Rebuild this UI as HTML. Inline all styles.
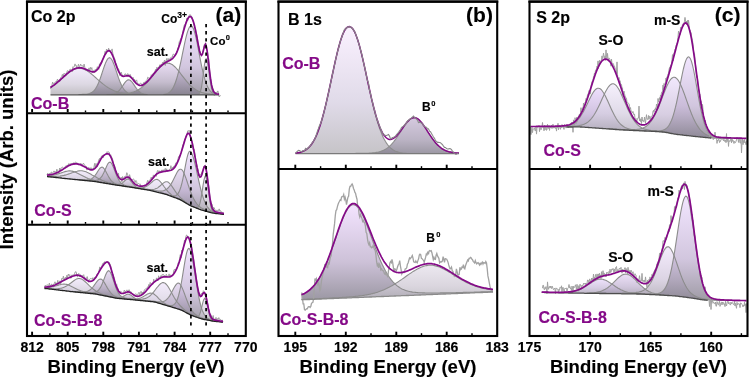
<!DOCTYPE html>
<html><head><meta charset="utf-8"><style>
html,body{margin:0;padding:0;background:#fff;}
svg{display:block;will-change:transform;}
text{font-family:"Liberation Sans",sans-serif;font-weight:bold;}
</style></head><body>
<svg width="750" height="378" viewBox="0 0 750 378" xmlns="http://www.w3.org/2000/svg">
<defs><linearGradient id="g1" x1="0" y1="0" x2="0" y2="1"><stop offset="0" stop-color="#f0e7fc"/><stop offset="0.6" stop-color="#d3cddb"/><stop offset="1" stop-color="#b1adb3"/></linearGradient><linearGradient id="g2" x1="0" y1="0" x2="0" y2="1"><stop offset="0" stop-color="#e3d3f1"/><stop offset="0.6" stop-color="#b5aac0"/><stop offset="1" stop-color="#7c7785"/></linearGradient><linearGradient id="g3" x1="0" y1="0" x2="0" y2="1"><stop offset="0" stop-color="#e3d3f1"/><stop offset="0.6" stop-color="#b5aac0"/><stop offset="1" stop-color="#7c7785"/></linearGradient><linearGradient id="g4" x1="0" y1="0" x2="0" y2="1"><stop offset="0" stop-color="#e3d3f1"/><stop offset="0.6" stop-color="#b5aac0"/><stop offset="1" stop-color="#7c7785"/></linearGradient><linearGradient id="g5" x1="0" y1="0" x2="0" y2="1"><stop offset="0" stop-color="#eedfff"/><stop offset="0.6" stop-color="#c5b6d5"/><stop offset="1" stop-color="#847f8c"/></linearGradient><linearGradient id="g6" x1="0" y1="0" x2="0" y2="1"><stop offset="0" stop-color="#f0e7fc"/><stop offset="0.6" stop-color="#d3cddb"/><stop offset="1" stop-color="#b1adb3"/></linearGradient><linearGradient id="g7" x1="0" y1="0" x2="0" y2="1"><stop offset="0" stop-color="#f0e7fc"/><stop offset="0.6" stop-color="#d3cddb"/><stop offset="1" stop-color="#b1adb3"/></linearGradient><linearGradient id="g8" x1="0" y1="0" x2="0" y2="1"><stop offset="0" stop-color="#f0e7fc"/><stop offset="0.6" stop-color="#d3cddb"/><stop offset="1" stop-color="#b1adb3"/></linearGradient><linearGradient id="g9" x1="0" y1="0" x2="0" y2="1"><stop offset="0" stop-color="#e3d3f1"/><stop offset="0.6" stop-color="#b5aac0"/><stop offset="1" stop-color="#7c7785"/></linearGradient><linearGradient id="g10" x1="0" y1="0" x2="0" y2="1"><stop offset="0" stop-color="#e3d3f1"/><stop offset="0.6" stop-color="#b5aac0"/><stop offset="1" stop-color="#7c7785"/></linearGradient><linearGradient id="g11" x1="0" y1="0" x2="0" y2="1"><stop offset="0" stop-color="#e3d3f1"/><stop offset="0.6" stop-color="#b5aac0"/><stop offset="1" stop-color="#7c7785"/></linearGradient><linearGradient id="g12" x1="0" y1="0" x2="0" y2="1"><stop offset="0" stop-color="#f0e7fc"/><stop offset="0.6" stop-color="#d3cddb"/><stop offset="1" stop-color="#b1adb3"/></linearGradient><linearGradient id="g13" x1="0" y1="0" x2="0" y2="1"><stop offset="0" stop-color="#f0e7fc"/><stop offset="0.6" stop-color="#d3cddb"/><stop offset="1" stop-color="#b1adb3"/></linearGradient><linearGradient id="g14" x1="0" y1="0" x2="0" y2="1"><stop offset="0" stop-color="#e3d3f1"/><stop offset="0.6" stop-color="#b5aac0"/><stop offset="1" stop-color="#7c7785"/></linearGradient><linearGradient id="g15" x1="0" y1="0" x2="0" y2="1"><stop offset="0" stop-color="#eedfff"/><stop offset="0.6" stop-color="#c5b6d5"/><stop offset="1" stop-color="#847f8c"/></linearGradient><linearGradient id="g16" x1="0" y1="0" x2="0" y2="1"><stop offset="0" stop-color="#f0e7fc"/><stop offset="0.6" stop-color="#d3cddb"/><stop offset="1" stop-color="#b1adb3"/></linearGradient><linearGradient id="g17" x1="0" y1="0" x2="0" y2="1"><stop offset="0" stop-color="#f0e7fc"/><stop offset="0.6" stop-color="#d3cddb"/><stop offset="1" stop-color="#b1adb3"/></linearGradient><linearGradient id="g18" x1="0" y1="0" x2="0" y2="1"><stop offset="0" stop-color="#f0e7fc"/><stop offset="0.6" stop-color="#d3cddb"/><stop offset="1" stop-color="#b1adb3"/></linearGradient><linearGradient id="g19" x1="0" y1="0" x2="0" y2="1"><stop offset="0" stop-color="#e3d3f1"/><stop offset="0.6" stop-color="#b5aac0"/><stop offset="1" stop-color="#7c7785"/></linearGradient><linearGradient id="g20" x1="0" y1="0" x2="0" y2="1"><stop offset="0" stop-color="#e3d3f1"/><stop offset="0.6" stop-color="#b5aac0"/><stop offset="1" stop-color="#7c7785"/></linearGradient><linearGradient id="g21" x1="0" y1="0" x2="0" y2="1"><stop offset="0" stop-color="#e3d3f1"/><stop offset="0.6" stop-color="#b5aac0"/><stop offset="1" stop-color="#7c7785"/></linearGradient><linearGradient id="g22" x1="0" y1="0" x2="0" y2="1"><stop offset="0" stop-color="#f0e7fc"/><stop offset="0.6" stop-color="#d3cddb"/><stop offset="1" stop-color="#b1adb3"/></linearGradient><linearGradient id="g23" x1="0" y1="0" x2="0" y2="1"><stop offset="0" stop-color="#f0e7fc"/><stop offset="0.6" stop-color="#d3cddb"/><stop offset="1" stop-color="#b1adb3"/></linearGradient><linearGradient id="g24" x1="0" y1="0" x2="0" y2="1"><stop offset="0" stop-color="#e3d3f1"/><stop offset="0.6" stop-color="#b5aac0"/><stop offset="1" stop-color="#7c7785"/></linearGradient><linearGradient id="g25" x1="0" y1="0" x2="0" y2="1"><stop offset="0" stop-color="#eedfff"/><stop offset="0.6" stop-color="#c5b6d5"/><stop offset="1" stop-color="#847f8c"/></linearGradient><linearGradient id="g26" x1="0" y1="0" x2="0" y2="1"><stop offset="0" stop-color="#f0e7fc"/><stop offset="0.6" stop-color="#d3cddb"/><stop offset="1" stop-color="#b1adb3"/></linearGradient><linearGradient id="g27" x1="0" y1="0" x2="0" y2="1"><stop offset="0" stop-color="#f9edff"/><stop offset="0.6" stop-color="#d7d0e2"/><stop offset="1" stop-color="#b6b3b8"/></linearGradient><linearGradient id="g28" x1="0" y1="0" x2="0" y2="1"><stop offset="0" stop-color="#cabbd7"/><stop offset="0.6" stop-color="#a99fb5"/><stop offset="1" stop-color="#807b8a"/></linearGradient><linearGradient id="g29" x1="0" y1="0" x2="0" y2="1"><stop offset="0" stop-color="#f0dcff"/><stop offset="0.6" stop-color="#bfb0cd"/><stop offset="1" stop-color="#807b8a"/></linearGradient><linearGradient id="g30" x1="0" y1="0" x2="0" y2="1"><stop offset="0" stop-color="#e7e2ec"/><stop offset="0.6" stop-color="#d0cad5"/><stop offset="1" stop-color="#b6b3bb"/></linearGradient><linearGradient id="g31" x1="0" y1="0" x2="0" y2="1"><stop offset="0" stop-color="#e9d7fc"/><stop offset="0.6" stop-color="#c3b1d7"/><stop offset="1" stop-color="#9288a1"/></linearGradient><linearGradient id="g32" x1="0" y1="0" x2="0" y2="1"><stop offset="0" stop-color="#f3ecfc"/><stop offset="0.6" stop-color="#d7d0e2"/><stop offset="1" stop-color="#b3aebb"/></linearGradient><linearGradient id="g33" x1="0" y1="0" x2="0" y2="1"><stop offset="0" stop-color="#eee2fc"/><stop offset="0.6" stop-color="#cdc1da"/><stop offset="1" stop-color="#9a92a4"/></linearGradient><linearGradient id="g34" x1="0" y1="0" x2="0" y2="1"><stop offset="0" stop-color="#eedfff"/><stop offset="0.6" stop-color="#c5b6d5"/><stop offset="1" stop-color="#847f8c"/></linearGradient><linearGradient id="g35" x1="0" y1="0" x2="0" y2="1"><stop offset="0" stop-color="#e9dafb"/><stop offset="0.6" stop-color="#cabeda"/><stop offset="1" stop-color="#a9a1b3"/></linearGradient><linearGradient id="g36" x1="0" y1="0" x2="0" y2="1"><stop offset="0" stop-color="#e7d7f6"/><stop offset="0.6" stop-color="#c3b6d2"/><stop offset="1" stop-color="#9c95a7"/></linearGradient><linearGradient id="g37" x1="0" y1="0" x2="0" y2="1"><stop offset="0" stop-color="#f1e7fc"/><stop offset="0.6" stop-color="#d2c8dc"/><stop offset="1" stop-color="#a49fa9"/></linearGradient><linearGradient id="g38" x1="0" y1="0" x2="0" y2="1"><stop offset="0" stop-color="#eedfff"/><stop offset="0.6" stop-color="#c5b6d5"/><stop offset="1" stop-color="#847f8c"/></linearGradient></defs>
<rect width="750" height="378" fill="#fff"/>
<path d="M50.5,87.6 51.5,87.0 52.5,86.3 53.5,85.6 54.5,84.8 55.5,84.1 56.5,83.2 57.5,82.4 58.5,81.6 59.5,80.7 60.5,79.8 61.5,78.9 62.5,78.0 63.5,77.1 64.5,76.2 65.5,75.4 66.5,74.5 67.5,73.7 68.5,72.9 69.5,72.1 70.5,71.4 71.5,70.8 72.5,70.2 73.5,69.7 74.5,69.2 75.5,68.9 76.5,68.6 77.5,68.4 78.5,68.2 79.5,68.2 80.5,68.3 81.5,68.4 82.5,68.7 83.5,69.0 84.5,69.4 85.5,69.9 86.5,70.4 87.5,71.0 88.5,71.7 89.5,72.4 90.5,73.2 91.5,74.0 92.5,74.9 93.5,75.7 94.5,76.6 95.5,77.5 96.5,78.4 97.5,79.3 98.5,80.2 99.5,81.1 100.5,81.9 101.5,82.8 102.5,83.6 103.5,84.4 104.5,85.1 105.5,85.9 106.5,86.6 107.5,87.2 108.5,87.9 109.5,88.5 110.5,89.0 111.5,89.5 112.5,90.0 113.5,90.5 114.5,90.9 115.5,91.3 116.5,91.6 117.5,91.9 118.5,92.2 119.5,92.5 120.5,92.7 121.5,92.9 122.5,93.1 123.5,93.3 124.5,93.5 125.5,93.6 126.5,93.7 127.5,93.8 128.5,93.9 129.5,94.0 130.5,94.1 131.5,94.1 132.5,94.2 133.5,94.3 134.5,94.3 135.5,94.3 136.5,94.4 137.5,94.4 138.5,94.4 139.5,94.4 140.5,94.5 141.5,94.5 142.5,94.5 143.5,94.5 144.5,94.5 145.5,94.5 L145.5,94.8 144.5,94.8 143.5,94.8 142.5,94.8 141.5,94.8 140.5,94.8 139.5,94.8 138.5,94.8 137.5,94.8 136.5,94.8 135.5,94.8 134.5,94.8 133.5,94.8 132.5,94.8 131.5,94.8 130.5,94.8 129.5,94.8 128.5,94.8 127.5,94.8 126.5,94.8 125.5,94.8 124.5,94.8 123.5,94.8 122.5,94.8 121.5,94.8 120.5,94.8 119.5,94.8 118.5,94.8 117.5,94.8 116.5,94.8 115.5,94.8 114.5,94.8 113.5,94.8 112.5,94.8 111.5,94.8 110.5,94.8 109.5,94.8 108.5,94.8 107.5,94.8 106.5,94.8 105.5,94.8 104.5,94.8 103.5,94.8 102.5,94.8 101.5,94.8 100.5,94.8 99.5,94.8 98.5,94.8 97.5,94.8 96.5,94.8 95.5,94.8 94.5,94.8 93.5,94.8 92.5,94.8 91.5,94.8 90.5,94.8 89.5,94.8 88.5,94.8 87.5,94.8 86.5,94.8 85.5,94.8 84.5,94.8 83.5,94.8 82.5,94.8 81.5,94.8 80.5,94.8 79.5,94.8 78.5,94.8 77.5,94.8 76.5,94.8 75.5,94.8 74.5,94.8 73.5,94.8 72.5,94.8 71.5,94.8 70.5,94.8 69.5,94.8 68.5,94.8 67.5,94.8 66.5,94.8 65.5,94.8 64.5,94.8 63.5,94.8 62.5,94.8 61.5,94.8 60.5,94.8 59.5,94.8 58.5,94.8 57.5,94.8 56.5,94.8 55.5,94.8 54.5,94.8 53.5,94.8 52.5,94.8 51.5,94.8 50.5,94.8Z" fill="url(#g1)" fill-opacity="0.78"/>
<path d="M78.5,94.5 79.5,94.5 80.5,94.5 81.5,94.5 82.5,94.4 83.5,94.4 84.5,94.3 85.5,94.3 86.5,94.2 87.5,94.0 88.5,93.8 89.5,93.5 90.5,93.1 91.5,92.6 92.5,92.0 93.5,91.1 94.5,90.1 95.5,88.7 96.5,87.1 97.5,85.2 98.5,83.0 99.5,80.5 100.5,77.7 101.5,74.8 102.5,71.7 103.5,68.7 104.5,65.8 105.5,63.1 106.5,60.9 107.5,59.2 108.5,58.1 109.5,57.7 110.5,58.1 111.5,59.2 112.5,61.0 113.5,63.3 114.5,65.9 115.5,68.9 116.5,71.9 117.5,75.0 118.5,77.9 119.5,80.6 120.5,83.1 121.5,85.3 122.5,87.2 123.5,88.8 124.5,90.1 125.5,91.2 126.5,92.0 127.5,92.7 128.5,93.2 129.5,93.5 130.5,93.8 131.5,94.0 132.5,94.2 133.5,94.3 134.5,94.3 135.5,94.4 136.5,94.4 137.5,94.5 138.5,94.5 139.5,94.5 140.5,94.5 L140.5,94.8 139.5,94.8 138.5,94.8 137.5,94.8 136.5,94.8 135.5,94.8 134.5,94.8 133.5,94.8 132.5,94.8 131.5,94.8 130.5,94.8 129.5,94.8 128.5,94.8 127.5,94.8 126.5,94.8 125.5,94.8 124.5,94.8 123.5,94.8 122.5,94.8 121.5,94.8 120.5,94.8 119.5,94.8 118.5,94.8 117.5,94.8 116.5,94.8 115.5,94.8 114.5,94.8 113.5,94.8 112.5,94.8 111.5,94.8 110.5,94.8 109.5,94.8 108.5,94.8 107.5,94.8 106.5,94.8 105.5,94.8 104.5,94.8 103.5,94.8 102.5,94.8 101.5,94.8 100.5,94.8 99.5,94.8 98.5,94.8 97.5,94.8 96.5,94.8 95.5,94.8 94.5,94.8 93.5,94.8 92.5,94.8 91.5,94.8 90.5,94.8 89.5,94.8 88.5,94.8 87.5,94.8 86.5,94.8 85.5,94.8 84.5,94.8 83.5,94.8 82.5,94.8 81.5,94.8 80.5,94.8 79.5,94.8 78.5,94.8Z" fill="url(#g2)" fill-opacity="0.78"/>
<path d="M109.5,94.5 110.5,94.5 111.5,94.4 112.5,94.2 113.5,94.0 114.5,93.7 115.5,93.3 116.5,92.8 117.5,92.1 118.5,91.2 119.5,90.1 120.5,88.9 121.5,87.5 122.5,86.1 123.5,84.6 124.5,83.1 125.5,81.8 126.5,80.8 127.5,80.1 128.5,79.8 129.5,80.0 130.5,80.5 131.5,81.5 132.5,82.7 133.5,84.1 134.5,85.6 135.5,87.1 136.5,88.5 137.5,89.8 138.5,90.9 139.5,91.8 140.5,92.6 141.5,93.2 142.5,93.6 143.5,93.9 144.5,94.2 145.5,94.3 146.5,94.5 147.5,94.5 L147.5,94.8 146.5,94.8 145.5,94.8 144.5,94.8 143.5,94.8 142.5,94.8 141.5,94.8 140.5,94.8 139.5,94.8 138.5,94.8 137.5,94.8 136.5,94.8 135.5,94.8 134.5,94.8 133.5,94.8 132.5,94.8 131.5,94.8 130.5,94.8 129.5,94.8 128.5,94.8 127.5,94.8 126.5,94.8 125.5,94.8 124.5,94.8 123.5,94.8 122.5,94.8 121.5,94.8 120.5,94.8 119.5,94.8 118.5,94.8 117.5,94.8 116.5,94.8 115.5,94.8 114.5,94.8 113.5,94.8 112.5,94.8 111.5,94.8 110.5,94.8 109.5,94.8Z" fill="url(#g3)" fill-opacity="0.78"/>
<path d="M106.5,94.5 107.5,94.5 108.5,94.5 109.5,94.5 110.5,94.5 111.5,94.5 112.5,94.5 113.5,94.4 114.5,94.4 115.5,94.4 116.5,94.4 117.5,94.3 118.5,94.3 119.5,94.3 120.5,94.2 121.5,94.1 122.5,94.1 123.5,94.0 124.5,93.9 125.5,93.8 126.5,93.6 127.5,93.5 128.5,93.3 129.5,93.1 130.5,92.9 131.5,92.6 132.5,92.3 133.5,92.0 134.5,91.6 135.5,91.2 136.5,90.7 137.5,90.2 138.5,89.6 139.5,89.0 140.5,88.3 141.5,87.6 142.5,86.8 143.5,85.9 144.5,85.0 145.5,84.1 146.5,83.0 147.5,82.0 148.5,80.8 149.5,79.7 150.5,78.5 151.5,77.3 152.5,76.0 153.5,74.8 154.5,73.5 155.5,72.3 156.5,71.1 157.5,70.0 158.5,68.9 159.5,67.8 160.5,66.8 161.5,66.0 162.5,65.2 163.5,64.5 164.5,64.0 165.5,63.6 166.5,63.3 167.5,63.2 168.5,63.2 169.5,63.4 170.5,63.7 171.5,64.2 172.5,64.8 173.5,65.6 174.5,66.5 175.5,67.4 176.5,68.5 177.5,69.7 178.5,70.9 179.5,72.2 180.5,73.5 181.5,74.8 182.5,76.1 183.5,77.4 184.5,78.7 185.5,79.9 186.5,81.2 187.5,82.3 188.5,83.4 189.5,84.5 190.5,85.5 191.5,86.4 192.5,87.3 193.5,88.1 194.5,88.8 195.5,89.5 196.5,90.1 197.5,90.7 198.5,91.2 199.5,91.6 200.5,92.0 201.5,92.4 202.5,92.7 203.5,92.9 204.5,93.2 205.5,93.4 206.5,93.5 207.5,93.7 208.5,93.8 209.5,93.9 210.5,94.0 211.5,94.1 212.5,94.2 213.5,94.2 214.5,94.3 215.5,94.3 216.5,94.4 217.5,94.4 218.5,94.4 219.0,94.4 L219.0,94.8 218.5,94.8 217.5,94.8 216.5,94.8 215.5,94.8 214.5,94.8 213.5,94.8 212.5,94.8 211.5,94.8 210.5,94.8 209.5,94.8 208.5,94.8 207.5,94.8 206.5,94.8 205.5,94.8 204.5,94.8 203.5,94.8 202.5,94.8 201.5,94.8 200.5,94.8 199.5,94.8 198.5,94.8 197.5,94.8 196.5,94.8 195.5,94.8 194.5,94.8 193.5,94.8 192.5,94.8 191.5,94.8 190.5,94.8 189.5,94.8 188.5,94.8 187.5,94.8 186.5,94.8 185.5,94.8 184.5,94.8 183.5,94.8 182.5,94.8 181.5,94.8 180.5,94.8 179.5,94.8 178.5,94.8 177.5,94.8 176.5,94.8 175.5,94.8 174.5,94.8 173.5,94.8 172.5,94.8 171.5,94.8 170.5,94.8 169.5,94.8 168.5,94.8 167.5,94.8 166.5,94.8 165.5,94.8 164.5,94.8 163.5,94.8 162.5,94.8 161.5,94.8 160.5,94.8 159.5,94.8 158.5,94.8 157.5,94.8 156.5,94.8 155.5,94.8 154.5,94.8 153.5,94.8 152.5,94.8 151.5,94.8 150.5,94.8 149.5,94.8 148.5,94.8 147.5,94.8 146.5,94.8 145.5,94.8 144.5,94.8 143.5,94.8 142.5,94.8 141.5,94.8 140.5,94.8 139.5,94.8 138.5,94.8 137.5,94.8 136.5,94.8 135.5,94.8 134.5,94.8 133.5,94.8 132.5,94.8 131.5,94.8 130.5,94.8 129.5,94.8 128.5,94.8 127.5,94.8 126.5,94.8 125.5,94.8 124.5,94.8 123.5,94.8 122.5,94.8 121.5,94.8 120.5,94.8 119.5,94.8 118.5,94.8 117.5,94.8 116.5,94.8 115.5,94.8 114.5,94.8 113.5,94.8 112.5,94.8 111.5,94.8 110.5,94.8 109.5,94.8 108.5,94.8 107.5,94.8 106.5,94.8Z" fill="url(#g4)" fill-opacity="0.78"/>
<path d="M163.5,94.5 164.5,94.3 165.5,94.1 166.5,93.8 167.5,93.4 168.5,92.9 169.5,92.2 170.5,91.3 171.5,90.1 172.5,88.7 173.5,86.9 174.5,84.8 175.5,82.2 176.5,79.3 177.5,75.9 178.5,72.1 179.5,67.9 180.5,63.4 181.5,58.6 182.5,53.7 183.5,48.8 184.5,44.0 185.5,39.5 186.5,35.4 187.5,31.9 188.5,29.1 189.5,27.1 190.5,26.0 191.5,25.9 192.5,26.9 193.5,28.9 194.5,31.9 195.5,35.6 196.5,40.1 197.5,44.9 198.5,50.1 199.5,55.4 200.5,60.6 201.5,65.5 202.5,70.2 203.5,74.4 204.5,78.2 205.5,81.5 206.5,84.3 207.5,86.6 208.5,88.6 209.5,90.1 210.5,91.3 211.5,92.3 212.5,93.0 213.5,93.5 214.5,93.9 215.5,94.2 216.5,94.4 217.5,94.5 L217.5,94.8 216.5,94.8 215.5,94.8 214.5,94.8 213.5,94.8 212.5,94.8 211.5,94.8 210.5,94.8 209.5,94.8 208.5,94.8 207.5,94.8 206.5,94.8 205.5,94.8 204.5,94.8 203.5,94.8 202.5,94.8 201.5,94.8 200.5,94.8 199.5,94.8 198.5,94.8 197.5,94.8 196.5,94.8 195.5,94.8 194.5,94.8 193.5,94.8 192.5,94.8 191.5,94.8 190.5,94.8 189.5,94.8 188.5,94.8 187.5,94.8 186.5,94.8 185.5,94.8 184.5,94.8 183.5,94.8 182.5,94.8 181.5,94.8 180.5,94.8 179.5,94.8 178.5,94.8 177.5,94.8 176.5,94.8 175.5,94.8 174.5,94.8 173.5,94.8 172.5,94.8 171.5,94.8 170.5,94.8 169.5,94.8 168.5,94.8 167.5,94.8 166.5,94.8 165.5,94.8 164.5,94.8 163.5,94.8Z" fill="url(#g5)" fill-opacity="0.78"/>
<path d="M198.5,94.3 199.5,93.4 200.5,91.3 201.5,87.3 202.5,80.8 203.5,72.5 204.5,64.3 205.5,59.2 206.5,59.0 207.5,62.7 208.5,69.1 209.5,76.4 210.5,83.0 211.5,88.0 212.5,91.3 213.5,93.2 214.5,94.1 L214.5,94.8 213.5,94.8 212.5,94.8 211.5,94.8 210.5,94.8 209.5,94.8 208.5,94.8 207.5,94.8 206.5,94.8 205.5,94.8 204.5,94.8 203.5,94.8 202.5,94.8 201.5,94.8 200.5,94.8 199.5,94.8 198.5,94.8Z" fill="url(#g6)" fill-opacity="0.78"/>
<polyline points="50.5,87.6 51.5,87.0 52.5,86.3 53.5,85.6 54.5,84.8 55.5,84.1 56.5,83.2 57.5,82.4 58.5,81.6 59.5,80.7 60.5,79.8 61.5,78.9 62.5,78.0 63.5,77.1 64.5,76.2 65.5,75.4 66.5,74.5 67.5,73.7 68.5,72.9 69.5,72.1 70.5,71.4 71.5,70.8 72.5,70.2 73.5,69.7 74.5,69.2 75.5,68.9 76.5,68.6 77.5,68.4 78.5,68.2 79.5,68.2 80.5,68.3 81.5,68.4 82.5,68.7 83.5,69.0 84.5,69.4 85.5,69.9 86.5,70.4 87.5,71.0 88.5,71.7 89.5,72.4 90.5,73.2 91.5,74.0 92.5,74.9 93.5,75.7 94.5,76.6 95.5,77.5 96.5,78.4 97.5,79.3 98.5,80.2 99.5,81.1 100.5,81.9 101.5,82.8 102.5,83.6 103.5,84.4 104.5,85.1 105.5,85.9 106.5,86.6 107.5,87.2 108.5,87.9 109.5,88.5 110.5,89.0 111.5,89.5 112.5,90.0 113.5,90.5 114.5,90.9 115.5,91.3 116.5,91.6 117.5,91.9 118.5,92.2 119.5,92.5 120.5,92.7 121.5,92.9 122.5,93.1 123.5,93.3 124.5,93.5 125.5,93.6 126.5,93.7 127.5,93.8 128.5,93.9 129.5,94.0 130.5,94.1 131.5,94.1 132.5,94.2 133.5,94.3 134.5,94.3 135.5,94.3 136.5,94.4 137.5,94.4 138.5,94.4 139.5,94.4 140.5,94.5 141.5,94.5 142.5,94.5 143.5,94.5 144.5,94.5 145.5,94.5" fill="none" stroke="#8c8c8c" stroke-width="1.1"/>
<polyline points="78.5,94.5 79.5,94.5 80.5,94.5 81.5,94.5 82.5,94.4 83.5,94.4 84.5,94.3 85.5,94.3 86.5,94.2 87.5,94.0 88.5,93.8 89.5,93.5 90.5,93.1 91.5,92.6 92.5,92.0 93.5,91.1 94.5,90.1 95.5,88.7 96.5,87.1 97.5,85.2 98.5,83.0 99.5,80.5 100.5,77.7 101.5,74.8 102.5,71.7 103.5,68.7 104.5,65.8 105.5,63.1 106.5,60.9 107.5,59.2 108.5,58.1 109.5,57.7 110.5,58.1 111.5,59.2 112.5,61.0 113.5,63.3 114.5,65.9 115.5,68.9 116.5,71.9 117.5,75.0 118.5,77.9 119.5,80.6 120.5,83.1 121.5,85.3 122.5,87.2 123.5,88.8 124.5,90.1 125.5,91.2 126.5,92.0 127.5,92.7 128.5,93.2 129.5,93.5 130.5,93.8 131.5,94.0 132.5,94.2 133.5,94.3 134.5,94.3 135.5,94.4 136.5,94.4 137.5,94.5 138.5,94.5 139.5,94.5 140.5,94.5" fill="none" stroke="#8c8c8c" stroke-width="1.1"/>
<polyline points="109.5,94.5 110.5,94.5 111.5,94.4 112.5,94.2 113.5,94.0 114.5,93.7 115.5,93.3 116.5,92.8 117.5,92.1 118.5,91.2 119.5,90.1 120.5,88.9 121.5,87.5 122.5,86.1 123.5,84.6 124.5,83.1 125.5,81.8 126.5,80.8 127.5,80.1 128.5,79.8 129.5,80.0 130.5,80.5 131.5,81.5 132.5,82.7 133.5,84.1 134.5,85.6 135.5,87.1 136.5,88.5 137.5,89.8 138.5,90.9 139.5,91.8 140.5,92.6 141.5,93.2 142.5,93.6 143.5,93.9 144.5,94.2 145.5,94.3 146.5,94.5 147.5,94.5" fill="none" stroke="#8c8c8c" stroke-width="1.1"/>
<polyline points="106.5,94.5 107.5,94.5 108.5,94.5 109.5,94.5 110.5,94.5 111.5,94.5 112.5,94.5 113.5,94.4 114.5,94.4 115.5,94.4 116.5,94.4 117.5,94.3 118.5,94.3 119.5,94.3 120.5,94.2 121.5,94.1 122.5,94.1 123.5,94.0 124.5,93.9 125.5,93.8 126.5,93.6 127.5,93.5 128.5,93.3 129.5,93.1 130.5,92.9 131.5,92.6 132.5,92.3 133.5,92.0 134.5,91.6 135.5,91.2 136.5,90.7 137.5,90.2 138.5,89.6 139.5,89.0 140.5,88.3 141.5,87.6 142.5,86.8 143.5,85.9 144.5,85.0 145.5,84.1 146.5,83.0 147.5,82.0 148.5,80.8 149.5,79.7 150.5,78.5 151.5,77.3 152.5,76.0 153.5,74.8 154.5,73.5 155.5,72.3 156.5,71.1 157.5,70.0 158.5,68.9 159.5,67.8 160.5,66.8 161.5,66.0 162.5,65.2 163.5,64.5 164.5,64.0 165.5,63.6 166.5,63.3 167.5,63.2 168.5,63.2 169.5,63.4 170.5,63.7 171.5,64.2 172.5,64.8 173.5,65.6 174.5,66.5 175.5,67.4 176.5,68.5 177.5,69.7 178.5,70.9 179.5,72.2 180.5,73.5 181.5,74.8 182.5,76.1 183.5,77.4 184.5,78.7 185.5,79.9 186.5,81.2 187.5,82.3 188.5,83.4 189.5,84.5 190.5,85.5 191.5,86.4 192.5,87.3 193.5,88.1 194.5,88.8 195.5,89.5 196.5,90.1 197.5,90.7 198.5,91.2 199.5,91.6 200.5,92.0 201.5,92.4 202.5,92.7 203.5,92.9 204.5,93.2 205.5,93.4 206.5,93.5 207.5,93.7 208.5,93.8 209.5,93.9 210.5,94.0 211.5,94.1 212.5,94.2 213.5,94.2 214.5,94.3 215.5,94.3 216.5,94.4 217.5,94.4 218.5,94.4 219.0,94.4" fill="none" stroke="#8c8c8c" stroke-width="1.1"/>
<polyline points="163.5,94.5 164.5,94.3 165.5,94.1 166.5,93.8 167.5,93.4 168.5,92.9 169.5,92.2 170.5,91.3 171.5,90.1 172.5,88.7 173.5,86.9 174.5,84.8 175.5,82.2 176.5,79.3 177.5,75.9 178.5,72.1 179.5,67.9 180.5,63.4 181.5,58.6 182.5,53.7 183.5,48.8 184.5,44.0 185.5,39.5 186.5,35.4 187.5,31.9 188.5,29.1 189.5,27.1 190.5,26.0 191.5,25.9 192.5,26.9 193.5,28.9 194.5,31.9 195.5,35.6 196.5,40.1 197.5,44.9 198.5,50.1 199.5,55.4 200.5,60.6 201.5,65.5 202.5,70.2 203.5,74.4 204.5,78.2 205.5,81.5 206.5,84.3 207.5,86.6 208.5,88.6 209.5,90.1 210.5,91.3 211.5,92.3 212.5,93.0 213.5,93.5 214.5,93.9 215.5,94.2 216.5,94.4 217.5,94.5" fill="none" stroke="#8c8c8c" stroke-width="1.1"/>
<polyline points="198.5,94.3 199.5,93.4 200.5,91.3 201.5,87.3 202.5,80.8 203.5,72.5 204.5,64.3 205.5,59.2 206.5,59.0 207.5,62.7 208.5,69.1 209.5,76.4 210.5,83.0 211.5,88.0 212.5,91.3 213.5,93.2 214.5,94.1" fill="none" stroke="#8c8c8c" stroke-width="1.1"/>
<polyline points="50.5,88.9 51.2,86.5 51.9,85.5 52.6,82.1 53.3,83.9 54.0,83.3 54.7,83.2 55.4,81.8 56.1,82.1 56.8,80.9 57.5,79.1 58.2,81.7 58.9,81.1 59.6,81.8 60.3,78.6 61.0,77.3 61.7,76.5 62.4,74.4 63.1,77.5 63.8,73.8 64.5,73.0 65.2,73.9 65.9,75.8 66.6,73.3 67.3,70.8 68.0,70.7 68.7,72.2 69.4,70.5 70.1,69.1 70.8,69.4 71.5,70.4 72.2,71.8 72.9,66.6 73.6,67.2 74.3,66.6 75.0,63.9 75.7,65.8 76.4,65.5 77.1,68.5 77.8,66.5 78.5,64.2 79.2,67.6 79.9,66.1 80.6,64.0 81.3,65.8 82.0,66.0 82.7,65.7 83.4,67.2 84.1,64.1 84.8,67.3 85.5,69.5 86.2,69.5 86.9,70.2 87.6,70.6 88.3,71.5 89.0,67.9 89.7,71.1 90.4,67.3 91.1,69.4 91.8,67.6 92.5,72.2 93.2,72.6 93.9,70.3 94.6,73.0 95.3,69.1 96.0,69.8 96.7,69.3 97.4,66.7 98.1,68.1 98.8,69.3 99.5,63.7 100.2,65.3 100.9,62.3 101.6,63.7 102.3,60.2 103.0,58.9 103.7,57.2 104.4,55.1 105.1,51.3 105.8,54.2 106.5,49.0 107.2,50.6 107.9,50.7 108.6,48.2 109.3,49.8 110.0,51.8 110.7,50.8 111.4,50.6 112.1,48.9 112.8,53.4 113.5,55.7 114.2,57.8 114.9,59.1 115.6,63.1 116.3,63.6 117.0,66.2 117.7,69.2 118.4,68.5 119.1,70.7 119.8,75.6 120.5,74.6 121.2,72.1 121.9,74.4 122.6,75.7 123.3,76.9 124.0,75.3 124.7,74.2 125.4,73.7 126.1,75.6 126.8,75.0 127.5,73.7 128.2,74.3 128.9,74.2 129.6,76.2 130.3,74.5 131.0,76.9 131.7,78.2 132.4,78.4 133.1,77.3 133.8,81.4 134.5,79.2 135.2,81.7 135.9,80.7 136.6,79.9 137.3,83.4 138.0,84.0 138.7,83.8 139.4,84.6 140.1,83.3 140.8,83.2 141.5,83.9 142.2,86.8 142.9,84.9 143.6,82.5 144.3,83.7 145.0,81.6 145.7,81.1 146.4,82.4 147.1,79.7 147.8,77.2 148.5,77.7 149.2,78.4 149.9,77.6 150.6,78.5 151.3,74.7 152.0,76.1 152.7,74.8 153.4,73.0 154.1,73.7 154.8,72.3 155.5,69.4 156.2,71.5 156.9,67.2 157.6,68.3 158.3,67.5 159.0,67.4 159.7,64.9 160.4,65.3 161.1,64.4 161.8,65.5 162.5,62.3 163.2,63.0 163.9,62.0 164.6,60.0 165.3,65.5 166.0,61.0 166.7,58.5 167.4,62.5 168.1,58.4 168.8,60.2 169.5,60.6 170.2,57.9 170.9,57.8 171.6,57.2 172.3,57.2 173.0,54.3 173.7,54.2 174.4,54.9 175.1,55.7 175.8,53.9 176.5,54.2 177.2,51.1 177.9,47.6 178.6,46.3 179.3,41.4 180.0,40.9 180.7,38.5 181.4,38.0 182.1,36.1 182.8,31.7 183.5,29.1 184.2,25.2 184.9,25.0 185.6,23.3 186.3,21.6 187.0,18.0 187.7,20.7 188.4,18.3 189.1,15.7 189.8,14.6 190.5,14.9 191.2,16.2 191.9,16.9 192.6,19.1 193.3,21.5 194.0,24.8 194.7,27.2 195.4,28.4 196.1,32.6 196.8,35.0 197.5,38.5 198.2,46.0 198.9,45.9 199.6,52.8 200.3,51.8 201.0,54.0 201.7,55.6 202.4,52.9 203.1,51.0 203.8,47.3 204.5,44.1 205.2,43.4 205.9,43.3 206.6,49.0 207.3,50.6 208.0,59.0 208.7,58.4 209.4,68.7 210.1,75.1 210.8,78.8 211.5,85.2 212.2,87.3 212.9,88.2 213.6,90.9 214.3,95.4 215.0,92.2 215.7,92.7 216.4,91.9 217.1,92.9 217.8,90.9 218.5,92.7 219.2,96.9 219.9,95.6 220.6,95.7" fill="none" stroke="#a0a0a0" stroke-width="1"/>
<polyline points="50.5,94.8 51.5,94.8 52.5,94.8 53.5,94.8 54.5,94.8 55.5,94.8 56.5,94.8 57.5,94.8 58.5,94.8 59.5,94.8 60.5,94.8 61.5,94.8 62.5,94.8 63.5,94.8 64.5,94.8 65.5,94.8 66.5,94.8 67.5,94.8 68.5,94.8 69.5,94.8 70.5,94.8 71.5,94.8 72.5,94.8 73.5,94.8 74.5,94.8 75.5,94.8 76.5,94.8 77.5,94.8 78.5,94.8 79.5,94.8 80.5,94.8 81.5,94.8 82.5,94.8 83.5,94.8 84.5,94.8 85.5,94.8 86.5,94.8 87.5,94.8 88.5,94.8 89.5,94.8 90.5,94.8 91.5,94.8 92.5,94.8 93.5,94.8 94.5,94.8 95.5,94.8 96.5,94.8 97.5,94.8 98.5,94.8 99.5,94.8 100.5,94.8 101.5,94.8 102.5,94.8 103.5,94.8 104.5,94.8 105.5,94.8 106.5,94.8 107.5,94.8 108.5,94.8 109.5,94.8 110.5,94.8 111.5,94.8 112.5,94.8 113.5,94.8 114.5,94.8 115.5,94.8 116.5,94.8 117.5,94.8 118.5,94.8 119.5,94.8 120.5,94.8 121.5,94.8 122.5,94.8 123.5,94.8 124.5,94.8 125.5,94.8 126.5,94.8 127.5,94.8 128.5,94.8 129.5,94.8 130.5,94.8 131.5,94.8 132.5,94.8 133.5,94.8 134.5,94.8 135.5,94.8 136.5,94.8 137.5,94.8 138.5,94.8 139.5,94.8 140.5,94.8 141.5,94.8 142.5,94.8 143.5,94.8 144.5,94.8 145.5,94.8 146.5,94.8 147.5,94.8 148.5,94.8 149.5,94.8 150.5,94.8 151.5,94.8 152.5,94.8 153.5,94.8 154.5,94.8 155.5,94.8 156.5,94.8 157.5,94.8 158.5,94.8 159.5,94.8 160.5,94.8 161.5,94.8 162.5,94.8 163.5,94.8 164.5,94.8 165.5,94.8 166.5,94.8 167.5,94.8 168.5,94.8 169.5,94.8 170.5,94.8 171.5,94.8 172.5,94.8 173.5,94.8 174.5,94.8 175.5,94.8 176.5,94.8 177.5,94.8 178.5,94.8 179.5,94.8 180.5,94.8 181.5,94.8 182.5,94.8 183.5,94.8 184.5,94.8 185.5,94.8 186.5,94.8 187.5,94.8 188.5,94.8 189.5,94.8 190.5,94.8 191.5,94.8 192.5,94.8 193.5,94.8 194.5,94.8 195.5,94.8 196.5,94.8 197.5,94.8 198.5,94.8 199.5,94.8 200.5,94.8 201.5,94.8 202.5,94.8 203.5,94.8 204.5,94.8 205.5,94.8 206.5,94.8 207.5,94.8 208.5,94.8 209.5,94.8 210.5,94.8 211.5,94.8 212.5,94.8 213.5,94.8 214.5,94.8 215.5,94.8 216.5,94.8 217.5,94.8 218.5,94.8 219.0,94.8" fill="none" stroke="#555555" stroke-width="1.3"/>
<polyline points="50.5,87.5 51.5,86.8 52.5,86.1 53.5,85.4 54.5,84.7 55.5,83.9 56.5,83.1 57.5,82.2 58.5,81.4 59.5,80.5 60.5,79.6 61.5,78.7 62.5,77.8 63.5,76.9 64.5,76.0 65.5,75.1 66.5,74.2 67.5,73.4 68.5,72.6 69.5,71.8 70.5,71.1 71.5,70.5 72.5,69.9 73.5,69.3 74.5,68.9 75.5,68.5 76.5,68.2 77.5,68.0 78.5,67.8 79.5,67.8 80.5,67.8 81.5,67.9 82.5,68.1 83.5,68.4 84.5,68.8 85.5,69.2 86.5,69.6 87.5,70.1 88.5,70.5 89.5,71.0 90.5,71.3 91.5,71.6 92.5,71.8 93.5,71.8 94.5,71.6 95.5,71.2 96.5,70.4 97.5,69.4 98.5,68.1 99.5,66.4 100.5,64.5 101.5,62.4 102.5,60.2 103.5,57.9 104.5,55.7 105.5,53.8 106.5,52.2 107.5,51.2 108.5,50.7 109.5,50.9 110.5,51.7 111.5,53.2 112.5,55.3 113.5,57.8 114.5,60.6 115.5,63.4 116.5,66.2 117.5,68.9 118.5,71.2 119.5,73.1 120.5,74.5 121.5,75.5 122.5,76.1 123.5,76.3 124.5,76.2 125.5,76.0 126.5,75.8 127.5,75.7 128.5,75.8 129.5,76.2 130.5,76.9 131.5,77.9 132.5,79.0 133.5,80.2 134.5,81.4 135.5,82.6 136.5,83.6 137.5,84.4 138.5,85.0 139.5,85.4 140.5,85.5 141.5,85.4 142.5,85.1 143.5,84.6 144.5,83.9 145.5,83.1 146.5,82.3 147.5,81.3 148.5,80.2 149.5,79.1 150.5,78.0 151.5,76.8 152.5,75.6 153.5,74.3 154.5,73.1 155.5,71.9 156.5,70.7 157.5,69.6 158.5,68.5 159.5,67.4 160.5,66.4 161.5,65.5 162.5,64.7 163.5,63.9 164.5,63.2 165.5,62.6 166.5,62.0 167.5,61.5 168.5,61.0 169.5,60.5 170.5,59.9 171.5,59.3 172.5,58.5 173.5,57.5 174.5,56.2 175.5,54.7 176.5,52.8 177.5,50.6 178.5,48.0 179.5,45.1 180.5,41.9 181.5,38.4 182.5,34.8 183.5,31.2 184.5,27.7 185.5,24.4 186.5,21.6 187.5,19.2 188.5,17.5 189.5,16.6 190.5,16.6 191.5,17.4 192.5,19.3 193.5,22.1 194.5,25.8 195.5,30.2 196.5,35.2 197.5,40.6 198.5,45.9 199.5,50.7 200.5,54.2 201.5,55.4 202.5,53.9 203.5,50.1 204.5,46.0 205.5,44.3 206.5,47.1 207.5,53.4 208.5,61.8 209.5,70.7 210.5,78.7 211.5,84.7 212.5,88.8 213.5,91.3 214.5,92.7 215.5,93.4 216.5,93.8 217.5,94.0 218.5,94.2 219.0,94.2" fill="none" stroke="#850a88" stroke-width="1.7"/>
<path d="M47.0,175.7 48.0,175.6 49.0,175.6 50.0,175.5 51.0,175.4 52.0,175.3 53.0,175.1 54.0,174.9 55.0,174.7 56.0,174.5 57.0,174.2 58.0,173.9 59.0,173.6 60.0,173.3 61.0,172.9 62.0,172.6 63.0,172.3 64.0,171.9 65.0,171.6 66.0,171.4 67.0,171.2 68.0,171.0 69.0,170.9 70.0,170.9 71.0,171.0 72.0,171.1 73.0,171.4 74.0,171.7 75.0,172.1 76.0,172.5 77.0,173.0 78.0,173.5 79.0,174.0 80.0,174.5 81.0,175.1 82.0,175.6 83.0,176.1 84.0,176.6 85.0,177.1 86.0,177.6 87.0,178.0 88.0,178.5 89.0,178.8 90.0,179.2 91.0,179.5 92.0,179.8 93.0,180.1 94.0,180.4 95.0,180.6 96.0,180.9 97.0,181.1 98.0,181.4 99.0,181.6 100.0,181.8 101.0,182.1 102.0,182.3 103.0,182.5 104.0,182.7 105.0,182.9 106.0,183.0 107.0,183.2 108.0,183.4 L108.0,183.7 107.0,183.5 106.0,183.3 105.0,183.2 104.0,183.0 103.0,182.8 102.0,182.7 101.0,182.5 100.0,182.3 99.0,182.2 98.0,182.0 97.0,181.8 96.0,181.7 95.0,181.5 94.0,181.4 93.0,181.3 92.0,181.2 91.0,181.1 90.0,181.0 89.0,180.9 88.0,180.8 87.0,180.7 86.0,180.6 85.0,180.5 84.0,180.4 83.0,180.3 82.0,180.2 81.0,180.1 80.0,180.0 79.0,179.9 78.0,179.8 77.0,179.7 76.0,179.6 75.0,179.5 74.0,179.4 73.0,179.3 72.0,179.2 71.0,179.1 70.0,179.0 69.0,178.9 68.0,178.8 67.0,178.7 66.0,178.6 65.0,178.5 64.0,178.4 63.0,178.3 62.0,178.2 61.0,178.0 60.0,177.9 59.0,177.8 58.0,177.7 57.0,177.6 56.0,177.5 55.0,177.4 54.0,177.3 53.0,177.2 52.0,177.1 51.0,177.0 50.0,176.9 49.0,176.8 48.0,176.7 47.0,176.7Z" fill="url(#g7)" fill-opacity="0.78"/>
<path d="M47.0,176.2 48.0,176.2 49.0,176.3 50.0,176.3 51.0,176.4 52.0,176.4 53.0,176.4 54.0,176.4 55.0,176.4 56.0,176.4 57.0,176.3 58.0,176.3 59.0,176.2 60.0,176.1 61.0,175.9 62.0,175.8 63.0,175.6 64.0,175.4 65.0,175.1 66.0,174.9 67.0,174.6 68.0,174.2 69.0,173.9 70.0,173.6 71.0,173.2 72.0,172.8 73.0,172.5 74.0,172.1 75.0,171.8 76.0,171.5 77.0,171.3 78.0,171.0 79.0,170.9 80.0,170.8 81.0,170.8 82.0,170.8 83.0,171.0 84.0,171.2 85.0,171.5 86.0,171.8 87.0,172.3 88.0,172.7 89.0,173.2 90.0,173.7 91.0,174.3 92.0,174.9 93.0,175.4 94.0,176.0 95.0,176.6 96.0,177.1 97.0,177.7 98.0,178.3 99.0,178.8 100.0,179.3 101.0,179.8 102.0,180.3 103.0,180.7 104.0,181.1 105.0,181.5 106.0,181.9 107.0,182.2 108.0,182.5 109.0,182.8 110.0,183.1 111.0,183.4 112.0,183.6 113.0,183.9 114.0,184.1 115.0,184.3 116.0,184.5 117.0,184.7 118.0,184.9 119.0,185.0 120.0,185.2 121.0,185.4 122.0,185.6 123.0,185.7 124.0,185.9 125.0,186.1 126.0,186.2 L126.0,186.5 125.0,186.3 124.0,186.2 123.0,186.0 122.0,185.9 121.0,185.7 120.0,185.6 119.0,185.4 118.0,185.3 117.0,185.1 116.0,185.0 115.0,184.8 114.0,184.7 113.0,184.5 112.0,184.3 111.0,184.2 110.0,184.0 109.0,183.8 108.0,183.7 107.0,183.5 106.0,183.3 105.0,183.2 104.0,183.0 103.0,182.8 102.0,182.7 101.0,182.5 100.0,182.3 99.0,182.2 98.0,182.0 97.0,181.8 96.0,181.7 95.0,181.5 94.0,181.4 93.0,181.3 92.0,181.2 91.0,181.1 90.0,181.0 89.0,180.9 88.0,180.8 87.0,180.7 86.0,180.6 85.0,180.5 84.0,180.4 83.0,180.3 82.0,180.2 81.0,180.1 80.0,180.0 79.0,179.9 78.0,179.8 77.0,179.7 76.0,179.6 75.0,179.5 74.0,179.4 73.0,179.3 72.0,179.2 71.0,179.1 70.0,179.0 69.0,178.9 68.0,178.8 67.0,178.7 66.0,178.6 65.0,178.5 64.0,178.4 63.0,178.3 62.0,178.2 61.0,178.0 60.0,177.9 59.0,177.8 58.0,177.7 57.0,177.6 56.0,177.5 55.0,177.4 54.0,177.3 53.0,177.2 52.0,177.1 51.0,177.0 50.0,176.9 49.0,176.8 48.0,176.7 47.0,176.7Z" fill="url(#g8)" fill-opacity="0.78"/>
<path d="M77.0,179.4 78.0,179.5 79.0,179.6 80.0,179.7 81.0,179.8 82.0,179.8 83.0,179.9 84.0,179.9 85.0,180.0 86.0,180.0 87.0,179.9 88.0,179.9 89.0,179.7 90.0,179.5 91.0,179.1 92.0,178.5 93.0,177.7 94.0,176.7 95.0,175.5 96.0,174.1 97.0,172.6 98.0,171.0 99.0,169.5 100.0,168.2 101.0,167.4 102.0,167.1 103.0,167.5 104.0,168.5 105.0,170.0 106.0,171.8 107.0,173.7 108.0,175.6 109.0,177.4 110.0,178.9 111.0,180.3 112.0,181.4 113.0,182.3 114.0,183.0 115.0,183.5 116.0,183.9 117.0,184.3 118.0,184.6 119.0,184.8 120.0,185.1 121.0,185.3 122.0,185.5 123.0,185.7 124.0,185.9 125.0,186.0 126.0,186.2 127.0,186.4 L127.0,186.6 126.0,186.5 125.0,186.3 124.0,186.2 123.0,186.0 122.0,185.9 121.0,185.7 120.0,185.6 119.0,185.4 118.0,185.3 117.0,185.1 116.0,185.0 115.0,184.8 114.0,184.7 113.0,184.5 112.0,184.3 111.0,184.2 110.0,184.0 109.0,183.8 108.0,183.7 107.0,183.5 106.0,183.3 105.0,183.2 104.0,183.0 103.0,182.8 102.0,182.7 101.0,182.5 100.0,182.3 99.0,182.2 98.0,182.0 97.0,181.8 96.0,181.7 95.0,181.5 94.0,181.4 93.0,181.3 92.0,181.2 91.0,181.1 90.0,181.0 89.0,180.9 88.0,180.8 87.0,180.7 86.0,180.6 85.0,180.5 84.0,180.4 83.0,180.3 82.0,180.2 81.0,180.1 80.0,180.0 79.0,179.9 78.0,179.8 77.0,179.7Z" fill="url(#g9)" fill-opacity="0.78"/>
<path d="M81.0,179.8 82.0,179.9 83.0,180.0 84.0,180.1 85.0,180.2 86.0,180.2 87.0,180.3 88.0,180.4 89.0,180.4 90.0,180.5 91.0,180.5 92.0,180.5 93.0,180.5 94.0,180.5 95.0,180.5 96.0,180.4 97.0,180.2 98.0,179.8 99.0,179.3 100.0,178.5 101.0,177.5 102.0,176.1 103.0,174.3 104.0,172.3 105.0,170.0 106.0,167.7 107.0,165.5 108.0,163.6 109.0,162.4 110.0,162.1 111.0,162.7 112.0,164.2 113.0,166.4 114.0,168.9 115.0,171.5 116.0,174.1 117.0,176.5 118.0,178.6 119.0,180.3 120.0,181.7 121.0,182.8 122.0,183.7 123.0,184.3 124.0,184.9 125.0,185.3 126.0,185.6 127.0,185.9 128.0,186.1 129.0,186.3 130.0,186.6 131.0,186.8 132.0,187.0 133.0,187.2 134.0,187.4 135.0,187.6 136.0,187.7 137.0,187.9 138.0,188.1 139.0,188.3 L139.0,188.6 138.0,188.4 137.0,188.2 136.0,188.1 135.0,187.9 134.0,187.7 133.0,187.6 132.0,187.4 131.0,187.2 130.0,187.1 129.0,186.9 128.0,186.8 127.0,186.6 126.0,186.5 125.0,186.3 124.0,186.2 123.0,186.0 122.0,185.9 121.0,185.7 120.0,185.6 119.0,185.4 118.0,185.3 117.0,185.1 116.0,185.0 115.0,184.8 114.0,184.7 113.0,184.5 112.0,184.3 111.0,184.2 110.0,184.0 109.0,183.8 108.0,183.7 107.0,183.5 106.0,183.3 105.0,183.2 104.0,183.0 103.0,182.8 102.0,182.7 101.0,182.5 100.0,182.3 99.0,182.2 98.0,182.0 97.0,181.8 96.0,181.7 95.0,181.5 94.0,181.4 93.0,181.3 92.0,181.2 91.0,181.1 90.0,181.0 89.0,180.9 88.0,180.8 87.0,180.7 86.0,180.6 85.0,180.5 84.0,180.4 83.0,180.3 82.0,180.2 81.0,180.1Z" fill="url(#g10)" fill-opacity="0.78"/>
<path d="M114.0,184.4 115.0,184.5 116.0,184.6 117.0,184.6 118.0,184.6 119.0,184.4 120.0,184.2 121.0,183.8 122.0,183.2 123.0,182.4 124.0,181.5 125.0,180.5 126.0,179.7 127.0,179.1 128.0,178.9 129.0,179.3 130.0,180.2 131.0,181.3 132.0,182.5 133.0,183.8 134.0,184.9 135.0,185.8 136.0,186.6 137.0,187.2 138.0,187.7 139.0,188.0 140.0,188.3 141.0,188.6 142.0,188.8 L142.0,189.1 141.0,188.9 140.0,188.7 139.0,188.6 138.0,188.4 137.0,188.2 136.0,188.1 135.0,187.9 134.0,187.7 133.0,187.6 132.0,187.4 131.0,187.2 130.0,187.1 129.0,186.9 128.0,186.8 127.0,186.6 126.0,186.5 125.0,186.3 124.0,186.2 123.0,186.0 122.0,185.9 121.0,185.7 120.0,185.6 119.0,185.4 118.0,185.3 117.0,185.1 116.0,185.0 115.0,184.8 114.0,184.7Z" fill="url(#g11)" fill-opacity="0.78"/>
<path d="M129.0,186.7 130.0,186.8 131.0,187.0 132.0,187.1 133.0,187.2 134.0,187.4 135.0,187.5 136.0,187.6 137.0,187.7 138.0,187.8 139.0,187.8 140.0,187.9 141.0,187.9 142.0,187.8 143.0,187.6 144.0,187.4 145.0,187.1 146.0,186.6 147.0,186.1 148.0,185.4 149.0,184.6 150.0,183.8 151.0,182.9 152.0,182.0 153.0,181.1 154.0,180.4 155.0,179.8 156.0,179.5 157.0,179.4 158.0,179.8 159.0,180.4 160.0,181.3 161.0,182.5 162.0,183.7 163.0,185.1 164.0,186.5 165.0,187.8 166.0,189.2 167.0,190.4 168.0,191.6 169.0,192.6 170.0,193.5 171.0,194.4 172.0,195.1 173.0,195.7 174.0,196.3 175.0,196.9 176.0,197.4 177.0,197.8 178.0,198.3 179.0,198.7 180.0,199.2 181.0,199.8 182.0,200.4 183.0,201.0 184.0,201.6 185.0,202.2 L185.0,202.5 184.0,201.9 183.0,201.3 182.0,200.7 181.0,200.1 180.0,199.6 179.0,199.2 178.0,198.8 177.0,198.4 176.0,198.0 175.0,197.7 174.0,197.3 173.0,196.9 172.0,196.6 171.0,196.2 170.0,195.8 169.0,195.5 168.0,195.1 167.0,194.7 166.0,194.4 165.0,194.1 164.0,193.8 163.0,193.5 162.0,193.3 161.0,193.0 160.0,192.8 159.0,192.6 158.0,192.3 157.0,192.1 156.0,191.8 155.0,191.6 154.0,191.4 153.0,191.1 152.0,190.9 151.0,190.7 150.0,190.4 149.0,190.2 148.0,190.1 147.0,189.9 146.0,189.7 145.0,189.6 144.0,189.4 143.0,189.2 142.0,189.1 141.0,188.9 140.0,188.7 139.0,188.6 138.0,188.4 137.0,188.2 136.0,188.1 135.0,187.9 134.0,187.7 133.0,187.6 132.0,187.4 131.0,187.2 130.0,187.1 129.0,186.9Z" fill="url(#g12)" fill-opacity="0.78"/>
<path d="M138.0,188.1 139.0,188.3 140.0,188.4 141.0,188.6 142.0,188.7 143.0,188.9 144.0,189.0 145.0,189.1 146.0,189.2 147.0,189.3 148.0,189.4 149.0,189.5 150.0,189.5 151.0,189.6 152.0,189.5 153.0,189.5 154.0,189.3 155.0,189.0 156.0,188.6 157.0,188.2 158.0,187.6 159.0,186.8 160.0,186.0 161.0,185.1 162.0,184.2 163.0,183.4 164.0,182.6 165.0,182.0 166.0,181.7 167.0,181.7 168.0,182.1 169.0,182.8 170.0,183.8 171.0,185.0 172.0,186.4 173.0,187.9 174.0,189.4 175.0,190.9 176.0,192.3 177.0,193.6 178.0,194.8 179.0,196.0 180.0,197.1 181.0,198.1 182.0,199.0 183.0,200.0 184.0,200.8 185.0,201.6 186.0,202.3 187.0,203.1 188.0,203.7 189.0,204.4 190.0,204.9 191.0,205.5 192.0,205.9 193.0,206.4 194.0,206.8 195.0,207.2 196.0,207.6 197.0,208.0 L197.0,208.3 196.0,207.9 195.0,207.5 194.0,207.1 193.0,206.7 192.0,206.3 191.0,205.9 190.0,205.4 189.0,204.9 188.0,204.3 187.0,203.7 186.0,203.1 185.0,202.5 184.0,201.9 183.0,201.3 182.0,200.7 181.0,200.1 180.0,199.6 179.0,199.2 178.0,198.8 177.0,198.4 176.0,198.0 175.0,197.7 174.0,197.3 173.0,196.9 172.0,196.6 171.0,196.2 170.0,195.8 169.0,195.5 168.0,195.1 167.0,194.7 166.0,194.4 165.0,194.1 164.0,193.8 163.0,193.5 162.0,193.3 161.0,193.0 160.0,192.8 159.0,192.6 158.0,192.3 157.0,192.1 156.0,191.8 155.0,191.6 154.0,191.4 153.0,191.1 152.0,190.9 151.0,190.7 150.0,190.4 149.0,190.2 148.0,190.1 147.0,189.9 146.0,189.7 145.0,189.6 144.0,189.4 143.0,189.2 142.0,189.1 141.0,188.9 140.0,188.7 139.0,188.6 138.0,188.4Z" fill="url(#g13)" fill-opacity="0.78"/>
<path d="M130.0,186.8 131.0,187.0 132.0,187.1 133.0,187.3 134.0,187.4 135.0,187.6 136.0,187.7 137.0,187.9 138.0,188.0 139.0,188.2 140.0,188.3 141.0,188.5 142.0,188.6 143.0,188.8 144.0,188.9 145.0,189.1 146.0,189.2 147.0,189.3 148.0,189.5 149.0,189.6 150.0,189.8 151.0,189.9 152.0,190.1 153.0,190.3 154.0,190.5 155.0,190.7 156.0,190.8 157.0,190.9 158.0,191.0 159.0,191.1 160.0,191.1 161.0,191.1 162.0,191.0 163.0,190.8 164.0,190.5 165.0,190.1 166.0,189.6 167.0,188.9 168.0,188.0 169.0,187.0 170.0,185.7 171.0,184.1 172.0,182.4 173.0,180.5 174.0,178.5 175.0,176.4 176.0,174.4 177.0,172.5 178.0,170.9 179.0,169.8 180.0,169.2 181.0,169.2 182.0,169.9 183.0,171.3 184.0,173.3 185.0,175.7 186.0,178.4 187.0,181.3 188.0,184.4 189.0,187.3 190.0,190.2 191.0,192.8 192.0,195.3 193.0,197.4 194.0,199.4 195.0,201.1 196.0,202.7 197.0,204.0 198.0,205.1 199.0,206.1 200.0,207.0 201.0,207.7 202.0,208.3 203.0,208.8 204.0,209.3 205.0,209.8 206.0,210.2 207.0,210.6 208.0,210.9 209.0,211.3 210.0,211.6 211.0,212.0 212.0,212.2 213.0,212.4 214.0,212.6 215.0,212.8 216.0,212.9 217.0,213.1 218.0,213.2 219.0,213.4 220.0,213.5 221.0,213.6 222.0,213.8 223.0,213.9 224.0,214.0 L224.0,214.3 223.0,214.3 222.0,214.2 221.0,214.0 220.0,213.9 219.0,213.8 218.0,213.7 217.0,213.6 216.0,213.5 215.0,213.4 214.0,213.2 213.0,213.1 212.0,212.9 211.0,212.7 210.0,212.4 209.0,212.1 208.0,211.8 207.0,211.5 206.0,211.2 205.0,211.0 204.0,210.7 203.0,210.4 202.0,210.1 201.0,209.8 200.0,209.4 199.0,209.1 198.0,208.7 197.0,208.3 196.0,207.9 195.0,207.5 194.0,207.1 193.0,206.7 192.0,206.3 191.0,205.9 190.0,205.4 189.0,204.9 188.0,204.3 187.0,203.7 186.0,203.1 185.0,202.5 184.0,201.9 183.0,201.3 182.0,200.7 181.0,200.1 180.0,199.6 179.0,199.2 178.0,198.8 177.0,198.4 176.0,198.0 175.0,197.7 174.0,197.3 173.0,196.9 172.0,196.6 171.0,196.2 170.0,195.8 169.0,195.5 168.0,195.1 167.0,194.7 166.0,194.4 165.0,194.1 164.0,193.8 163.0,193.5 162.0,193.3 161.0,193.0 160.0,192.8 159.0,192.6 158.0,192.3 157.0,192.1 156.0,191.8 155.0,191.6 154.0,191.4 153.0,191.1 152.0,190.9 151.0,190.7 150.0,190.4 149.0,190.2 148.0,190.1 147.0,189.9 146.0,189.7 145.0,189.6 144.0,189.4 143.0,189.2 142.0,189.1 141.0,188.9 140.0,188.7 139.0,188.6 138.0,188.4 137.0,188.2 136.0,188.1 135.0,187.9 134.0,187.7 133.0,187.6 132.0,187.4 131.0,187.2 130.0,187.1Z" fill="url(#g14)" fill-opacity="0.78"/>
<path d="M162.0,193.0 163.0,193.2 164.0,193.5 165.0,193.7 166.0,194.0 167.0,194.3 168.0,194.7 169.0,195.0 170.0,195.3 171.0,195.6 172.0,195.8 173.0,196.0 174.0,196.0 175.0,195.9 176.0,195.5 177.0,194.8 178.0,193.6 179.0,191.9 180.0,189.6 181.0,186.5 182.0,182.8 183.0,178.3 184.0,173.2 185.0,167.9 186.0,162.7 187.0,157.9 188.0,154.2 189.0,151.9 190.0,151.3 191.0,152.2 192.0,154.0 193.0,156.6 194.0,160.0 195.0,163.9 196.0,168.2 197.0,172.8 198.0,177.4 199.0,181.9 200.0,186.2 201.0,190.2 202.0,193.9 203.0,197.1 204.0,200.0 205.0,202.4 206.0,204.5 207.0,206.3 208.0,207.7 209.0,208.9 210.0,209.9 211.0,210.7 212.0,211.4 213.0,211.8 214.0,212.2 215.0,212.5 216.0,212.7 217.0,213.0 218.0,213.1 219.0,213.3 220.0,213.5 221.0,213.6 222.0,213.8 223.0,213.9 224.0,214.0 L224.0,214.3 223.0,214.3 222.0,214.2 221.0,214.0 220.0,213.9 219.0,213.8 218.0,213.7 217.0,213.6 216.0,213.5 215.0,213.4 214.0,213.2 213.0,213.1 212.0,212.9 211.0,212.7 210.0,212.4 209.0,212.1 208.0,211.8 207.0,211.5 206.0,211.2 205.0,211.0 204.0,210.7 203.0,210.4 202.0,210.1 201.0,209.8 200.0,209.4 199.0,209.1 198.0,208.7 197.0,208.3 196.0,207.9 195.0,207.5 194.0,207.1 193.0,206.7 192.0,206.3 191.0,205.9 190.0,205.4 189.0,204.9 188.0,204.3 187.0,203.7 186.0,203.1 185.0,202.5 184.0,201.9 183.0,201.3 182.0,200.7 181.0,200.1 180.0,199.6 179.0,199.2 178.0,198.8 177.0,198.4 176.0,198.0 175.0,197.7 174.0,197.3 173.0,196.9 172.0,196.6 171.0,196.2 170.0,195.8 169.0,195.5 168.0,195.1 167.0,194.7 166.0,194.4 165.0,194.1 164.0,193.8 163.0,193.5 162.0,193.3Z" fill="url(#g15)" fill-opacity="0.78"/>
<path d="M197.0,207.7 198.0,207.3 199.0,206.0 200.0,203.2 201.0,198.7 202.0,192.6 203.0,185.7 204.0,179.8 205.0,176.5 206.0,176.9 207.0,181.1 208.0,187.8 209.0,195.2 210.0,201.8 211.0,206.8 212.0,210.0 213.0,211.8 214.0,212.7 L214.0,213.2 213.0,213.1 212.0,212.9 211.0,212.7 210.0,212.4 209.0,212.1 208.0,211.8 207.0,211.5 206.0,211.2 205.0,211.0 204.0,210.7 203.0,210.4 202.0,210.1 201.0,209.8 200.0,209.4 199.0,209.1 198.0,208.7 197.0,208.3Z" fill="url(#g16)" fill-opacity="0.78"/>
<polyline points="47.0,175.7 48.0,175.6 49.0,175.6 50.0,175.5 51.0,175.4 52.0,175.3 53.0,175.1 54.0,174.9 55.0,174.7 56.0,174.5 57.0,174.2 58.0,173.9 59.0,173.6 60.0,173.3 61.0,172.9 62.0,172.6 63.0,172.3 64.0,171.9 65.0,171.6 66.0,171.4 67.0,171.2 68.0,171.0 69.0,170.9 70.0,170.9 71.0,171.0 72.0,171.1 73.0,171.4 74.0,171.7 75.0,172.1 76.0,172.5 77.0,173.0 78.0,173.5 79.0,174.0 80.0,174.5 81.0,175.1 82.0,175.6 83.0,176.1 84.0,176.6 85.0,177.1 86.0,177.6 87.0,178.0 88.0,178.5 89.0,178.8 90.0,179.2 91.0,179.5 92.0,179.8 93.0,180.1 94.0,180.4 95.0,180.6 96.0,180.9 97.0,181.1 98.0,181.4 99.0,181.6 100.0,181.8 101.0,182.1 102.0,182.3 103.0,182.5 104.0,182.7 105.0,182.9 106.0,183.0 107.0,183.2 108.0,183.4" fill="none" stroke="#8c8c8c" stroke-width="1.1"/>
<polyline points="47.0,176.2 48.0,176.2 49.0,176.3 50.0,176.3 51.0,176.4 52.0,176.4 53.0,176.4 54.0,176.4 55.0,176.4 56.0,176.4 57.0,176.3 58.0,176.3 59.0,176.2 60.0,176.1 61.0,175.9 62.0,175.8 63.0,175.6 64.0,175.4 65.0,175.1 66.0,174.9 67.0,174.6 68.0,174.2 69.0,173.9 70.0,173.6 71.0,173.2 72.0,172.8 73.0,172.5 74.0,172.1 75.0,171.8 76.0,171.5 77.0,171.3 78.0,171.0 79.0,170.9 80.0,170.8 81.0,170.8 82.0,170.8 83.0,171.0 84.0,171.2 85.0,171.5 86.0,171.8 87.0,172.3 88.0,172.7 89.0,173.2 90.0,173.7 91.0,174.3 92.0,174.9 93.0,175.4 94.0,176.0 95.0,176.6 96.0,177.1 97.0,177.7 98.0,178.3 99.0,178.8 100.0,179.3 101.0,179.8 102.0,180.3 103.0,180.7 104.0,181.1 105.0,181.5 106.0,181.9 107.0,182.2 108.0,182.5 109.0,182.8 110.0,183.1 111.0,183.4 112.0,183.6 113.0,183.9 114.0,184.1 115.0,184.3 116.0,184.5 117.0,184.7 118.0,184.9 119.0,185.0 120.0,185.2 121.0,185.4 122.0,185.6 123.0,185.7 124.0,185.9 125.0,186.1 126.0,186.2" fill="none" stroke="#8c8c8c" stroke-width="1.1"/>
<polyline points="77.0,179.4 78.0,179.5 79.0,179.6 80.0,179.7 81.0,179.8 82.0,179.8 83.0,179.9 84.0,179.9 85.0,180.0 86.0,180.0 87.0,179.9 88.0,179.9 89.0,179.7 90.0,179.5 91.0,179.1 92.0,178.5 93.0,177.7 94.0,176.7 95.0,175.5 96.0,174.1 97.0,172.6 98.0,171.0 99.0,169.5 100.0,168.2 101.0,167.4 102.0,167.1 103.0,167.5 104.0,168.5 105.0,170.0 106.0,171.8 107.0,173.7 108.0,175.6 109.0,177.4 110.0,178.9 111.0,180.3 112.0,181.4 113.0,182.3 114.0,183.0 115.0,183.5 116.0,183.9 117.0,184.3 118.0,184.6 119.0,184.8 120.0,185.1 121.0,185.3 122.0,185.5 123.0,185.7 124.0,185.9 125.0,186.0 126.0,186.2 127.0,186.4" fill="none" stroke="#8c8c8c" stroke-width="1.1"/>
<polyline points="81.0,179.8 82.0,179.9 83.0,180.0 84.0,180.1 85.0,180.2 86.0,180.2 87.0,180.3 88.0,180.4 89.0,180.4 90.0,180.5 91.0,180.5 92.0,180.5 93.0,180.5 94.0,180.5 95.0,180.5 96.0,180.4 97.0,180.2 98.0,179.8 99.0,179.3 100.0,178.5 101.0,177.5 102.0,176.1 103.0,174.3 104.0,172.3 105.0,170.0 106.0,167.7 107.0,165.5 108.0,163.6 109.0,162.4 110.0,162.1 111.0,162.7 112.0,164.2 113.0,166.4 114.0,168.9 115.0,171.5 116.0,174.1 117.0,176.5 118.0,178.6 119.0,180.3 120.0,181.7 121.0,182.8 122.0,183.7 123.0,184.3 124.0,184.9 125.0,185.3 126.0,185.6 127.0,185.9 128.0,186.1 129.0,186.3 130.0,186.6 131.0,186.8 132.0,187.0 133.0,187.2 134.0,187.4 135.0,187.6 136.0,187.7 137.0,187.9 138.0,188.1 139.0,188.3" fill="none" stroke="#8c8c8c" stroke-width="1.1"/>
<polyline points="114.0,184.4 115.0,184.5 116.0,184.6 117.0,184.6 118.0,184.6 119.0,184.4 120.0,184.2 121.0,183.8 122.0,183.2 123.0,182.4 124.0,181.5 125.0,180.5 126.0,179.7 127.0,179.1 128.0,178.9 129.0,179.3 130.0,180.2 131.0,181.3 132.0,182.5 133.0,183.8 134.0,184.9 135.0,185.8 136.0,186.6 137.0,187.2 138.0,187.7 139.0,188.0 140.0,188.3 141.0,188.6 142.0,188.8" fill="none" stroke="#8c8c8c" stroke-width="1.1"/>
<polyline points="129.0,186.7 130.0,186.8 131.0,187.0 132.0,187.1 133.0,187.2 134.0,187.4 135.0,187.5 136.0,187.6 137.0,187.7 138.0,187.8 139.0,187.8 140.0,187.9 141.0,187.9 142.0,187.8 143.0,187.6 144.0,187.4 145.0,187.1 146.0,186.6 147.0,186.1 148.0,185.4 149.0,184.6 150.0,183.8 151.0,182.9 152.0,182.0 153.0,181.1 154.0,180.4 155.0,179.8 156.0,179.5 157.0,179.4 158.0,179.8 159.0,180.4 160.0,181.3 161.0,182.5 162.0,183.7 163.0,185.1 164.0,186.5 165.0,187.8 166.0,189.2 167.0,190.4 168.0,191.6 169.0,192.6 170.0,193.5 171.0,194.4 172.0,195.1 173.0,195.7 174.0,196.3 175.0,196.9 176.0,197.4 177.0,197.8 178.0,198.3 179.0,198.7 180.0,199.2 181.0,199.8 182.0,200.4 183.0,201.0 184.0,201.6 185.0,202.2" fill="none" stroke="#8c8c8c" stroke-width="1.1"/>
<polyline points="138.0,188.1 139.0,188.3 140.0,188.4 141.0,188.6 142.0,188.7 143.0,188.9 144.0,189.0 145.0,189.1 146.0,189.2 147.0,189.3 148.0,189.4 149.0,189.5 150.0,189.5 151.0,189.6 152.0,189.5 153.0,189.5 154.0,189.3 155.0,189.0 156.0,188.6 157.0,188.2 158.0,187.6 159.0,186.8 160.0,186.0 161.0,185.1 162.0,184.2 163.0,183.4 164.0,182.6 165.0,182.0 166.0,181.7 167.0,181.7 168.0,182.1 169.0,182.8 170.0,183.8 171.0,185.0 172.0,186.4 173.0,187.9 174.0,189.4 175.0,190.9 176.0,192.3 177.0,193.6 178.0,194.8 179.0,196.0 180.0,197.1 181.0,198.1 182.0,199.0 183.0,200.0 184.0,200.8 185.0,201.6 186.0,202.3 187.0,203.1 188.0,203.7 189.0,204.4 190.0,204.9 191.0,205.5 192.0,205.9 193.0,206.4 194.0,206.8 195.0,207.2 196.0,207.6 197.0,208.0" fill="none" stroke="#8c8c8c" stroke-width="1.1"/>
<polyline points="130.0,186.8 131.0,187.0 132.0,187.1 133.0,187.3 134.0,187.4 135.0,187.6 136.0,187.7 137.0,187.9 138.0,188.0 139.0,188.2 140.0,188.3 141.0,188.5 142.0,188.6 143.0,188.8 144.0,188.9 145.0,189.1 146.0,189.2 147.0,189.3 148.0,189.5 149.0,189.6 150.0,189.8 151.0,189.9 152.0,190.1 153.0,190.3 154.0,190.5 155.0,190.7 156.0,190.8 157.0,190.9 158.0,191.0 159.0,191.1 160.0,191.1 161.0,191.1 162.0,191.0 163.0,190.8 164.0,190.5 165.0,190.1 166.0,189.6 167.0,188.9 168.0,188.0 169.0,187.0 170.0,185.7 171.0,184.1 172.0,182.4 173.0,180.5 174.0,178.5 175.0,176.4 176.0,174.4 177.0,172.5 178.0,170.9 179.0,169.8 180.0,169.2 181.0,169.2 182.0,169.9 183.0,171.3 184.0,173.3 185.0,175.7 186.0,178.4 187.0,181.3 188.0,184.4 189.0,187.3 190.0,190.2 191.0,192.8 192.0,195.3 193.0,197.4 194.0,199.4 195.0,201.1 196.0,202.7 197.0,204.0 198.0,205.1 199.0,206.1 200.0,207.0 201.0,207.7 202.0,208.3 203.0,208.8 204.0,209.3 205.0,209.8 206.0,210.2 207.0,210.6 208.0,210.9 209.0,211.3 210.0,211.6 211.0,212.0 212.0,212.2 213.0,212.4 214.0,212.6 215.0,212.8 216.0,212.9 217.0,213.1 218.0,213.2 219.0,213.4 220.0,213.5 221.0,213.6 222.0,213.8 223.0,213.9 224.0,214.0" fill="none" stroke="#8c8c8c" stroke-width="1.1"/>
<polyline points="162.0,193.0 163.0,193.2 164.0,193.5 165.0,193.7 166.0,194.0 167.0,194.3 168.0,194.7 169.0,195.0 170.0,195.3 171.0,195.6 172.0,195.8 173.0,196.0 174.0,196.0 175.0,195.9 176.0,195.5 177.0,194.8 178.0,193.6 179.0,191.9 180.0,189.6 181.0,186.5 182.0,182.8 183.0,178.3 184.0,173.2 185.0,167.9 186.0,162.7 187.0,157.9 188.0,154.2 189.0,151.9 190.0,151.3 191.0,152.2 192.0,154.0 193.0,156.6 194.0,160.0 195.0,163.9 196.0,168.2 197.0,172.8 198.0,177.4 199.0,181.9 200.0,186.2 201.0,190.2 202.0,193.9 203.0,197.1 204.0,200.0 205.0,202.4 206.0,204.5 207.0,206.3 208.0,207.7 209.0,208.9 210.0,209.9 211.0,210.7 212.0,211.4 213.0,211.8 214.0,212.2 215.0,212.5 216.0,212.7 217.0,213.0 218.0,213.1 219.0,213.3 220.0,213.5 221.0,213.6 222.0,213.8 223.0,213.9 224.0,214.0" fill="none" stroke="#8c8c8c" stroke-width="1.1"/>
<polyline points="197.0,207.7 198.0,207.3 199.0,206.0 200.0,203.2 201.0,198.7 202.0,192.6 203.0,185.7 204.0,179.8 205.0,176.5 206.0,176.9 207.0,181.1 208.0,187.8 209.0,195.2 210.0,201.8 211.0,206.8 212.0,210.0 213.0,211.8 214.0,212.7" fill="none" stroke="#8c8c8c" stroke-width="1.1"/>
<polyline points="47.0,174.5 47.7,173.3 48.4,177.1 49.1,173.3 49.8,173.7 50.5,175.6 51.2,172.0 51.9,172.3 52.6,173.2 53.3,172.3 54.0,170.9 54.7,172.1 55.4,171.6 56.1,172.7 56.8,169.2 57.5,170.2 58.2,172.5 58.9,173.1 59.6,168.0 60.3,170.6 61.0,167.9 61.7,167.7 62.4,167.2 63.1,167.4 63.8,168.9 64.5,168.1 65.2,166.7 65.9,165.7 66.6,165.7 67.3,165.2 68.0,166.0 68.7,163.6 69.4,164.1 70.1,163.7 70.8,163.5 71.5,163.6 72.2,163.4 72.9,164.8 73.6,162.7 74.3,164.9 75.0,162.2 75.7,162.0 76.4,162.8 77.1,163.2 77.8,163.2 78.5,164.8 79.2,164.7 79.9,164.1 80.6,163.1 81.3,163.8 82.0,166.2 82.7,164.9 83.4,163.1 84.1,164.3 84.8,164.9 85.5,167.7 86.2,166.4 86.9,170.1 87.6,168.3 88.3,167.9 89.0,167.4 89.7,169.7 90.4,168.2 91.1,167.5 91.8,169.5 92.5,168.6 93.2,170.0 93.9,167.9 94.6,163.4 95.3,167.9 96.0,163.4 96.7,167.2 97.4,166.6 98.1,162.3 98.8,160.0 99.5,158.4 100.2,160.3 100.9,157.6 101.6,156.0 102.3,155.5 103.0,157.9 103.7,154.8 104.4,154.8 105.1,154.4 105.8,154.4 106.5,154.2 107.2,151.6 107.9,152.3 108.6,151.8 109.3,152.4 110.0,155.8 110.7,154.8 111.4,157.0 112.1,157.9 112.8,160.1 113.5,164.2 114.2,164.6 114.9,166.7 115.6,170.0 116.3,171.9 117.0,174.1 117.7,174.6 118.4,173.2 119.1,177.6 119.8,178.1 120.5,179.4 121.2,177.1 121.9,181.9 122.6,176.5 123.3,179.0 124.0,177.7 124.7,176.5 125.4,177.8 126.1,175.9 126.8,172.7 127.5,174.2 128.2,176.5 128.9,179.3 129.6,174.7 130.3,177.5 131.0,180.3 131.7,180.1 132.4,179.6 133.1,178.9 133.8,179.2 134.5,181.4 135.2,182.5 135.9,180.4 136.6,181.5 137.3,184.7 138.0,183.9 138.7,183.6 139.4,184.3 140.1,183.8 140.8,186.3 141.5,187.2 142.2,187.8 142.9,185.8 143.6,185.7 144.3,186.5 145.0,186.6 145.7,185.9 146.4,185.1 147.1,182.1 147.8,180.2 148.5,183.1 149.2,181.1 149.9,180.4 150.6,178.5 151.3,177.1 152.0,180.1 152.7,177.9 153.4,174.9 154.1,176.1 154.8,175.2 155.5,174.7 156.2,176.4 156.9,172.7 157.6,170.4 158.3,171.9 159.0,170.6 159.7,172.0 160.4,171.3 161.1,171.3 161.8,169.9 162.5,171.1 163.2,169.7 163.9,171.0 164.6,169.7 165.3,168.4 166.0,170.6 166.7,168.8 167.4,171.7 168.1,170.2 168.8,170.2 169.5,169.6 170.2,169.2 170.9,165.7 171.6,170.5 172.3,167.2 173.0,169.2 173.7,166.3 174.4,166.2 175.1,165.2 175.8,162.9 176.5,162.9 177.2,162.4 177.9,159.6 178.6,156.7 179.3,155.9 180.0,155.1 180.7,154.3 181.4,151.7 182.1,148.7 182.8,144.6 183.5,144.9 184.2,141.3 184.9,138.6 185.6,138.1 186.3,135.8 187.0,134.0 187.7,130.9 188.4,131.3 189.1,130.1 189.8,134.0 190.5,135.7 191.2,139.3 191.9,141.0 192.6,143.2 193.3,149.9 194.0,149.0 194.7,152.2 195.4,157.0 196.1,162.3 196.8,164.7 197.5,167.8 198.2,169.9 198.9,175.9 199.6,174.3 200.3,174.3 201.0,175.3 201.7,172.6 202.4,171.2 203.1,170.9 203.8,166.2 204.5,165.6 205.2,165.1 205.9,167.1 206.6,172.2 207.3,176.5 208.0,180.8 208.7,185.9 209.4,192.4 210.1,198.8 210.8,201.5 211.5,204.2 212.2,204.2 212.9,209.6 213.6,207.1 214.3,208.0 215.0,209.8 215.7,210.6 216.4,210.9 217.1,209.9 217.8,210.7 218.5,210.5 219.2,208.9 219.9,211.2 220.6,210.7 221.3,212.4 222.0,211.8 222.7,213.4 223.4,213.1" fill="none" stroke="#a0a0a0" stroke-width="1"/>
<polyline points="47.0,176.7 48.0,176.7 49.0,176.8 50.0,176.9 51.0,177.0 52.0,177.1 53.0,177.2 54.0,177.3 55.0,177.4 56.0,177.5 57.0,177.6 58.0,177.7 59.0,177.8 60.0,177.9 61.0,178.0 62.0,178.2 63.0,178.3 64.0,178.4 65.0,178.5 66.0,178.6 67.0,178.7 68.0,178.8 69.0,178.9 70.0,179.0 71.0,179.1 72.0,179.2 73.0,179.3 74.0,179.4 75.0,179.5 76.0,179.6 77.0,179.7 78.0,179.8 79.0,179.9 80.0,180.0 81.0,180.1 82.0,180.2 83.0,180.3 84.0,180.4 85.0,180.5 86.0,180.6 87.0,180.7 88.0,180.8 89.0,180.9 90.0,181.0 91.0,181.1 92.0,181.2 93.0,181.3 94.0,181.4 95.0,181.5 96.0,181.7 97.0,181.8 98.0,182.0 99.0,182.2 100.0,182.3 101.0,182.5 102.0,182.7 103.0,182.8 104.0,183.0 105.0,183.2 106.0,183.3 107.0,183.5 108.0,183.7 109.0,183.8 110.0,184.0 111.0,184.2 112.0,184.3 113.0,184.5 114.0,184.7 115.0,184.8 116.0,185.0 117.0,185.1 118.0,185.3 119.0,185.4 120.0,185.6 121.0,185.7 122.0,185.9 123.0,186.0 124.0,186.2 125.0,186.3 126.0,186.5 127.0,186.6 128.0,186.8 129.0,186.9 130.0,187.1 131.0,187.2 132.0,187.4 133.0,187.6 134.0,187.7 135.0,187.9 136.0,188.1 137.0,188.2 138.0,188.4 139.0,188.6 140.0,188.7 141.0,188.9 142.0,189.1 143.0,189.2 144.0,189.4 145.0,189.6 146.0,189.7 147.0,189.9 148.0,190.1 149.0,190.2 150.0,190.4 151.0,190.7 152.0,190.9 153.0,191.1 154.0,191.4 155.0,191.6 156.0,191.8 157.0,192.1 158.0,192.3 159.0,192.6 160.0,192.8 161.0,193.0 162.0,193.3 163.0,193.5 164.0,193.8 165.0,194.1 166.0,194.4 167.0,194.7 168.0,195.1 169.0,195.5 170.0,195.8 171.0,196.2 172.0,196.6 173.0,196.9 174.0,197.3 175.0,197.7 176.0,198.0 177.0,198.4 178.0,198.8 179.0,199.2 180.0,199.6 181.0,200.1 182.0,200.7 183.0,201.3 184.0,201.9 185.0,202.5 186.0,203.1 187.0,203.7 188.0,204.3 189.0,204.9 190.0,205.4 191.0,205.9 192.0,206.3 193.0,206.7 194.0,207.1 195.0,207.5 196.0,207.9 197.0,208.3 198.0,208.7 199.0,209.1 200.0,209.4 201.0,209.8 202.0,210.1 203.0,210.4 204.0,210.7 205.0,211.0 206.0,211.2 207.0,211.5 208.0,211.8 209.0,212.1 210.0,212.4 211.0,212.7 212.0,212.9 213.0,213.1 214.0,213.2 215.0,213.4 216.0,213.5 217.0,213.6 218.0,213.7 219.0,213.8 220.0,213.9 221.0,214.0 222.0,214.2 223.0,214.3 224.0,214.3" fill="none" stroke="#222222" stroke-width="1.3"/>
<polyline points="47.0,175.1 48.0,175.0 49.0,174.8 50.0,174.7 51.0,174.5 52.0,174.3 53.0,174.1 54.0,173.8 55.0,173.4 56.0,173.1 57.0,172.6 58.0,172.2 59.0,171.7 60.0,171.1 61.0,170.5 62.0,169.9 63.0,169.3 64.0,168.6 65.0,168.0 66.0,167.3 67.0,166.7 68.0,166.1 69.0,165.5 70.0,165.1 71.0,164.7 72.0,164.3 73.0,164.1 74.0,163.9 75.0,163.8 76.0,163.8 77.0,163.9 78.0,164.1 79.0,164.3 80.0,164.6 81.0,165.0 82.0,165.4 83.0,165.9 84.0,166.5 85.0,167.0 86.0,167.6 87.0,168.2 88.0,168.8 89.0,169.3 90.0,169.6 91.0,169.9 92.0,169.9 93.0,169.6 94.0,169.1 95.0,168.3 96.0,167.2 97.0,165.9 98.0,164.2 99.0,162.5 100.0,160.6 101.0,158.9 102.0,157.4 103.0,156.2 104.0,155.3 105.0,154.6 106.0,154.0 107.0,153.7 108.0,153.8 109.0,154.2 110.0,155.4 111.0,157.3 112.0,159.8 113.0,162.7 114.0,165.8 115.0,168.8 116.0,171.7 117.0,174.1 118.0,176.2 119.0,177.8 120.0,178.9 121.0,179.5 122.0,179.6 123.0,179.4 124.0,178.9 125.0,178.2 126.0,177.5 127.0,177.1 128.0,177.0 129.0,177.5 130.0,178.3 131.0,179.5 132.0,180.8 133.0,182.0 134.0,183.1 135.0,184.1 136.0,184.8 137.0,185.3 138.0,185.7 139.0,186.0 140.0,186.1 141.0,186.2 142.0,186.1 143.0,186.0 144.0,185.7 145.0,185.4 146.0,184.9 147.0,184.3 148.0,183.5 149.0,182.6 150.0,181.6 151.0,180.5 152.0,179.3 153.0,178.1 154.0,176.9 155.0,175.7 156.0,174.7 157.0,173.8 158.0,173.2 159.0,172.7 160.0,172.3 161.0,172.1 162.0,171.9 163.0,171.7 164.0,171.5 165.0,171.3 166.0,171.1 167.0,170.9 168.0,170.8 169.0,170.7 170.0,170.5 171.0,170.2 172.0,169.8 173.0,169.1 174.0,168.1 175.0,166.9 176.0,165.3 177.0,163.4 178.0,161.2 179.0,158.7 180.0,155.9 181.0,153.0 182.0,149.8 183.0,146.5 184.0,143.1 185.0,139.8 186.0,136.8 187.0,134.5 188.0,133.3 189.0,133.5 190.0,135.3 191.0,138.4 192.0,142.3 193.0,146.7 194.0,151.6 195.0,156.9 196.0,162.2 197.0,167.4 198.0,171.9 199.0,175.4 200.0,177.1 201.0,176.7 202.0,174.2 203.0,170.6 204.0,167.3 205.0,166.3 206.0,168.8 207.0,174.5 208.0,182.5 209.0,190.9 210.0,198.3 211.0,203.8 212.0,207.5 213.0,209.6 214.0,210.8 215.0,211.5 216.0,211.9 217.0,212.2 218.0,212.4 219.0,212.6 220.0,212.8 221.0,213.0 222.0,213.2 223.0,213.3 224.0,213.4" fill="none" stroke="#850a88" stroke-width="1.7"/>
<path d="M44.5,287.7 45.5,287.7 46.5,287.6 47.5,287.6 48.5,287.5 49.5,287.4 50.5,287.2 51.5,287.0 52.5,286.8 53.5,286.6 54.5,286.3 55.5,286.0 56.5,285.7 57.5,285.4 58.5,285.1 59.5,284.8 60.5,284.6 61.5,284.3 62.5,284.2 63.5,284.1 64.5,284.1 65.5,284.2 66.5,284.4 67.5,284.6 68.5,285.0 69.5,285.4 70.5,285.9 71.5,286.4 72.5,286.9 73.5,287.5 74.5,288.0 75.5,288.5 76.5,289.0 77.5,289.5 78.5,289.9 79.5,290.3 80.5,290.7 81.5,291.1 82.5,291.4 83.5,291.7 84.5,291.9 85.5,292.2 86.5,292.4 87.5,292.6 88.5,292.8 89.5,292.9 90.5,293.1 91.5,293.2 92.5,293.3 93.5,293.5 94.5,293.6 L94.5,293.9 93.5,293.8 92.5,293.7 91.5,293.6 90.5,293.5 89.5,293.4 88.5,293.3 87.5,293.2 86.5,293.1 85.5,293.0 84.5,292.9 83.5,292.8 82.5,292.7 81.5,292.6 80.5,292.5 79.5,292.4 78.5,292.3 77.5,292.2 76.5,292.1 75.5,292.0 74.5,291.9 73.5,291.8 72.5,291.7 71.5,291.6 70.5,291.5 69.5,291.3 68.5,291.2 67.5,291.1 66.5,291.0 65.5,290.9 64.5,290.7 63.5,290.6 62.5,290.5 61.5,290.4 60.5,290.3 59.5,290.1 58.5,290.0 57.5,289.9 56.5,289.8 55.5,289.7 54.5,289.6 53.5,289.4 52.5,289.3 51.5,289.2 50.5,289.1 49.5,289.0 48.5,288.8 47.5,288.7 46.5,288.6 45.5,288.5 44.5,288.5Z" fill="url(#g17)" fill-opacity="0.78"/>
<path d="M44.5,288.1 45.5,288.1 46.5,288.2 47.5,288.3 48.5,288.4 49.5,288.5 50.5,288.5 51.5,288.6 52.5,288.7 53.5,288.7 54.5,288.7 55.5,288.7 56.5,288.7 57.5,288.7 58.5,288.6 59.5,288.5 60.5,288.3 61.5,288.1 62.5,287.8 63.5,287.4 64.5,287.0 65.5,286.5 66.5,286.0 67.5,285.4 68.5,284.7 69.5,284.0 70.5,283.3 71.5,282.5 72.5,281.7 73.5,281.0 74.5,280.3 75.5,279.6 76.5,279.1 77.5,278.7 78.5,278.5 79.5,278.5 80.5,278.7 81.5,279.1 82.5,279.6 83.5,280.3 84.5,281.1 85.5,282.0 86.5,282.9 87.5,283.9 88.5,284.9 89.5,285.9 90.5,286.8 91.5,287.7 92.5,288.5 93.5,289.3 94.5,290.0 95.5,290.7 96.5,291.4 97.5,292.0 98.5,292.5 99.5,293.0 100.5,293.5 101.5,293.9 102.5,294.3 103.5,294.6 104.5,294.9 105.5,295.2 106.5,295.5 107.5,295.8 108.5,296.0 109.5,296.3 110.5,296.5 111.5,296.7 112.5,297.0 113.5,297.2 114.5,297.4 115.5,297.6 116.5,297.8 117.5,298.0 118.5,298.1 119.5,298.2 120.5,298.3 L120.5,298.6 119.5,298.5 118.5,298.4 117.5,298.3 116.5,298.1 115.5,298.0 114.5,297.8 113.5,297.6 112.5,297.4 111.5,297.2 110.5,297.0 109.5,296.8 108.5,296.6 107.5,296.4 106.5,296.2 105.5,296.0 104.5,295.8 103.5,295.6 102.5,295.4 101.5,295.2 100.5,295.0 99.5,294.8 98.5,294.6 97.5,294.4 96.5,294.2 95.5,294.0 94.5,293.9 93.5,293.8 92.5,293.7 91.5,293.6 90.5,293.5 89.5,293.4 88.5,293.3 87.5,293.2 86.5,293.1 85.5,293.0 84.5,292.9 83.5,292.8 82.5,292.7 81.5,292.6 80.5,292.5 79.5,292.4 78.5,292.3 77.5,292.2 76.5,292.1 75.5,292.0 74.5,291.9 73.5,291.8 72.5,291.7 71.5,291.6 70.5,291.5 69.5,291.3 68.5,291.2 67.5,291.1 66.5,291.0 65.5,290.9 64.5,290.7 63.5,290.6 62.5,290.5 61.5,290.4 60.5,290.3 59.5,290.1 58.5,290.0 57.5,289.9 56.5,289.8 55.5,289.7 54.5,289.6 53.5,289.4 52.5,289.3 51.5,289.2 50.5,289.1 49.5,289.0 48.5,288.8 47.5,288.7 46.5,288.6 45.5,288.5 44.5,288.5Z" fill="url(#g18)" fill-opacity="0.78"/>
<path d="M71.5,291.3 72.5,291.4 73.5,291.5 74.5,291.6 75.5,291.6 76.5,291.7 77.5,291.8 78.5,291.8 79.5,291.9 80.5,291.9 81.5,292.0 82.5,292.0 83.5,292.0 84.5,291.9 85.5,291.8 86.5,291.6 87.5,291.3 88.5,290.8 89.5,290.3 90.5,289.5 91.5,288.6 92.5,287.5 93.5,286.3 94.5,284.9 95.5,283.5 96.5,282.1 97.5,280.9 98.5,279.9 99.5,279.2 100.5,279.0 101.5,279.3 102.5,280.1 103.5,281.4 104.5,282.9 105.5,284.6 106.5,286.4 107.5,288.1 108.5,289.7 109.5,291.2 110.5,292.5 111.5,293.6 112.5,294.6 113.5,295.4 114.5,296.1 115.5,296.6 116.5,297.0 117.5,297.4 118.5,297.7 119.5,297.9 120.5,298.0 121.5,298.2 122.5,298.3 123.5,298.5 124.5,298.6 125.5,298.7 126.5,298.8 127.5,299.0 128.5,299.1 129.5,299.2 L129.5,299.4 128.5,299.4 127.5,299.3 126.5,299.2 125.5,299.1 124.5,299.0 123.5,298.9 122.5,298.8 121.5,298.7 120.5,298.6 119.5,298.5 118.5,298.4 117.5,298.3 116.5,298.1 115.5,298.0 114.5,297.8 113.5,297.6 112.5,297.4 111.5,297.2 110.5,297.0 109.5,296.8 108.5,296.6 107.5,296.4 106.5,296.2 105.5,296.0 104.5,295.8 103.5,295.6 102.5,295.4 101.5,295.2 100.5,295.0 99.5,294.8 98.5,294.6 97.5,294.4 96.5,294.2 95.5,294.0 94.5,293.9 93.5,293.8 92.5,293.7 91.5,293.6 90.5,293.5 89.5,293.4 88.5,293.3 87.5,293.2 86.5,293.1 85.5,293.0 84.5,292.9 83.5,292.8 82.5,292.7 81.5,292.6 80.5,292.5 79.5,292.4 78.5,292.3 77.5,292.2 76.5,292.1 75.5,292.0 74.5,291.9 73.5,291.8 72.5,291.7 71.5,291.6Z" fill="url(#g19)" fill-opacity="0.78"/>
<path d="M76.5,291.8 77.5,291.9 78.5,292.0 79.5,292.1 80.5,292.1 81.5,292.2 82.5,292.3 83.5,292.3 84.5,292.4 85.5,292.5 86.5,292.5 87.5,292.6 88.5,292.6 89.5,292.6 90.5,292.7 91.5,292.6 92.5,292.6 93.5,292.5 94.5,292.3 95.5,292.1 96.5,291.6 97.5,291.0 98.5,290.2 99.5,288.9 100.5,287.4 101.5,285.4 102.5,283.1 103.5,280.5 104.5,277.9 105.5,275.3 106.5,273.0 107.5,271.4 108.5,270.7 109.5,271.1 110.5,272.5 111.5,274.8 112.5,277.6 113.5,280.7 114.5,283.7 115.5,286.6 116.5,289.2 117.5,291.3 118.5,293.1 119.5,294.5 120.5,295.6 121.5,296.4 122.5,297.0 123.5,297.4 124.5,297.8 125.5,298.1 126.5,298.3 127.5,298.5 128.5,298.7 129.5,298.8 130.5,299.0 131.5,299.1 132.5,299.2 133.5,299.4 134.5,299.5 135.5,299.6 136.5,299.7 137.5,299.9 138.5,300.0 139.5,300.1 140.5,300.2 141.5,300.3 L141.5,300.6 140.5,300.5 139.5,300.4 138.5,300.3 137.5,300.2 136.5,300.1 135.5,300.0 134.5,299.9 133.5,299.8 132.5,299.7 131.5,299.6 130.5,299.5 129.5,299.4 128.5,299.4 127.5,299.3 126.5,299.2 125.5,299.1 124.5,299.0 123.5,298.9 122.5,298.8 121.5,298.7 120.5,298.6 119.5,298.5 118.5,298.4 117.5,298.3 116.5,298.1 115.5,298.0 114.5,297.8 113.5,297.6 112.5,297.4 111.5,297.2 110.5,297.0 109.5,296.8 108.5,296.6 107.5,296.4 106.5,296.2 105.5,296.0 104.5,295.8 103.5,295.6 102.5,295.4 101.5,295.2 100.5,295.0 99.5,294.8 98.5,294.6 97.5,294.4 96.5,294.2 95.5,294.0 94.5,293.9 93.5,293.8 92.5,293.7 91.5,293.6 90.5,293.5 89.5,293.4 88.5,293.3 87.5,293.2 86.5,293.1 85.5,293.0 84.5,292.9 83.5,292.8 82.5,292.7 81.5,292.6 80.5,292.5 79.5,292.4 78.5,292.3 77.5,292.2 76.5,292.1Z" fill="url(#g20)" fill-opacity="0.78"/>
<path d="M117.5,298.0 118.5,298.0 119.5,297.9 120.5,297.7 121.5,297.3 122.5,296.9 123.5,296.3 124.5,295.7 125.5,295.1 126.5,294.5 127.5,294.2 128.5,294.2 129.5,294.4 130.5,294.9 131.5,295.6 132.5,296.4 133.5,297.2 134.5,298.0 135.5,298.6 136.5,299.2 137.5,299.6 138.5,299.9 139.5,300.1 L139.5,300.4 138.5,300.3 137.5,300.2 136.5,300.1 135.5,300.0 134.5,299.9 133.5,299.8 132.5,299.7 131.5,299.6 130.5,299.5 129.5,299.4 128.5,299.4 127.5,299.3 126.5,299.2 125.5,299.1 124.5,299.0 123.5,298.9 122.5,298.8 121.5,298.7 120.5,298.6 119.5,298.5 118.5,298.4 117.5,298.3Z" fill="url(#g21)" fill-opacity="0.78"/>
<path d="M127.5,299.0 128.5,299.1 129.5,299.1 130.5,299.2 131.5,299.2 132.5,299.2 133.5,299.2 134.5,299.2 135.5,299.1 136.5,299.0 137.5,298.8 138.5,298.6 139.5,298.3 140.5,298.0 141.5,297.6 142.5,297.1 143.5,296.5 144.5,295.9 145.5,295.3 146.5,294.7 147.5,294.1 148.5,293.7 149.5,293.3 150.5,293.1 151.5,293.2 152.5,293.4 153.5,293.8 154.5,294.5 155.5,295.3 156.5,296.2 157.5,297.2 158.5,298.3 159.5,299.3 160.5,300.2 161.5,301.1 162.5,301.9 163.5,302.7 164.5,303.3 165.5,303.9 166.5,304.5 167.5,305.0 168.5,305.4 169.5,305.9 170.5,306.2 171.5,306.6 172.5,306.9 173.5,307.3 174.5,307.6 175.5,307.9 L175.5,308.2 174.5,307.9 173.5,307.6 172.5,307.3 171.5,307.0 170.5,306.7 169.5,306.4 168.5,306.1 167.5,305.8 166.5,305.5 165.5,305.2 164.5,304.9 163.5,304.6 162.5,304.3 161.5,304.0 160.5,303.7 159.5,303.4 158.5,303.1 157.5,302.8 156.5,302.5 155.5,302.2 154.5,302.0 153.5,301.9 152.5,301.7 151.5,301.6 150.5,301.5 149.5,301.4 148.5,301.3 147.5,301.2 146.5,301.1 145.5,301.0 144.5,300.9 143.5,300.8 142.5,300.7 141.5,300.6 140.5,300.5 139.5,300.4 138.5,300.3 137.5,300.2 136.5,300.1 135.5,300.0 134.5,299.9 133.5,299.8 132.5,299.7 131.5,299.6 130.5,299.5 129.5,299.4 128.5,299.4 127.5,299.3Z" fill="url(#g22)" fill-opacity="0.78"/>
<path d="M115.5,297.7 116.5,297.9 117.5,298.0 118.5,298.1 119.5,298.2 120.5,298.3 121.5,298.4 122.5,298.5 123.5,298.5 124.5,298.6 125.5,298.7 126.5,298.8 127.5,298.8 128.5,298.9 129.5,299.0 130.5,299.0 131.5,299.1 132.5,299.1 133.5,299.2 134.5,299.2 135.5,299.3 136.5,299.3 137.5,299.3 138.5,299.3 139.5,299.3 140.5,299.3 141.5,299.2 142.5,299.1 143.5,298.9 144.5,298.7 145.5,298.4 146.5,298.0 147.5,297.5 148.5,296.9 149.5,296.2 150.5,295.3 151.5,294.4 152.5,293.3 153.5,292.1 154.5,290.8 155.5,289.5 156.5,288.2 157.5,287.0 158.5,285.8 159.5,284.7 160.5,283.8 161.5,283.1 162.5,282.6 163.5,282.6 164.5,282.9 165.5,283.5 166.5,284.5 167.5,285.8 168.5,287.3 169.5,289.0 170.5,290.8 171.5,292.6 172.5,294.4 173.5,296.2 174.5,298.0 175.5,299.6 176.5,301.1 177.5,302.5 178.5,303.7 179.5,304.9 180.5,306.0 181.5,307.0 182.5,308.0 183.5,309.0 184.5,309.8 185.5,310.6 186.5,311.4 187.5,312.1 188.5,312.7 189.5,313.4 190.5,314.0 191.5,314.5 192.5,315.0 193.5,315.4 194.5,315.8 195.5,316.2 196.5,316.6 197.5,317.0 198.5,317.3 199.5,317.7 200.5,318.0 201.5,318.4 202.5,318.6 203.5,318.9 204.5,319.1 205.5,319.3 206.5,319.5 207.5,319.7 208.5,319.9 209.5,320.2 210.5,320.4 211.5,320.6 212.5,320.7 L212.5,321.0 211.5,320.8 210.5,320.6 209.5,320.4 208.5,320.2 207.5,320.0 206.5,319.9 205.5,319.7 204.5,319.5 203.5,319.3 202.5,319.0 201.5,318.8 200.5,318.5 199.5,318.2 198.5,317.8 197.5,317.5 196.5,317.1 195.5,316.8 194.5,316.5 193.5,316.1 192.5,315.7 191.5,315.3 190.5,314.9 189.5,314.4 188.5,313.8 187.5,313.3 186.5,312.8 185.5,312.3 184.5,311.7 183.5,311.2 182.5,310.7 181.5,310.2 180.5,309.8 179.5,309.4 178.5,309.1 177.5,308.8 176.5,308.5 175.5,308.2 174.5,307.9 173.5,307.6 172.5,307.3 171.5,307.0 170.5,306.7 169.5,306.4 168.5,306.1 167.5,305.8 166.5,305.5 165.5,305.2 164.5,304.9 163.5,304.6 162.5,304.3 161.5,304.0 160.5,303.7 159.5,303.4 158.5,303.1 157.5,302.8 156.5,302.5 155.5,302.2 154.5,302.0 153.5,301.9 152.5,301.7 151.5,301.6 150.5,301.5 149.5,301.4 148.5,301.3 147.5,301.2 146.5,301.1 145.5,301.0 144.5,300.9 143.5,300.8 142.5,300.7 141.5,300.6 140.5,300.5 139.5,300.4 138.5,300.3 137.5,300.2 136.5,300.1 135.5,300.0 134.5,299.9 133.5,299.8 132.5,299.7 131.5,299.6 130.5,299.5 129.5,299.4 128.5,299.4 127.5,299.3 126.5,299.2 125.5,299.1 124.5,299.0 123.5,298.9 122.5,298.8 121.5,298.7 120.5,298.6 119.5,298.5 118.5,298.4 117.5,298.3 116.5,298.1 115.5,298.0Z" fill="url(#g23)" fill-opacity="0.78"/>
<path d="M135.5,299.7 136.5,299.8 137.5,299.9 138.5,300.0 139.5,300.1 140.5,300.2 141.5,300.3 142.5,300.3 143.5,300.4 144.5,300.5 145.5,300.6 146.5,300.7 147.5,300.7 148.5,300.8 149.5,300.9 150.5,301.0 151.5,301.0 152.5,301.1 153.5,301.1 154.5,301.2 155.5,301.4 156.5,301.5 157.5,301.7 158.5,301.8 159.5,301.9 160.5,302.0 161.5,301.9 162.5,301.8 163.5,301.5 164.5,301.1 165.5,300.5 166.5,299.7 167.5,298.7 168.5,297.5 169.5,296.1 170.5,294.4 171.5,292.6 172.5,290.7 173.5,288.8 174.5,287.0 175.5,285.4 176.5,284.1 177.5,283.3 178.5,283.1 179.5,283.5 180.5,284.7 181.5,286.4 182.5,288.6 183.5,291.1 184.5,293.8 185.5,296.6 186.5,299.3 187.5,301.8 188.5,304.2 189.5,306.4 190.5,308.3 191.5,310.0 192.5,311.4 193.5,312.6 194.5,313.6 195.5,314.5 196.5,315.2 197.5,315.9 198.5,316.5 199.5,317.0 200.5,317.4 201.5,317.8 202.5,318.2 203.5,318.5 204.5,318.8 205.5,319.0 206.5,319.3 207.5,319.5 208.5,319.7 209.5,320.0 210.5,320.2 211.5,320.4 212.5,320.6 213.5,320.8 214.5,320.9 215.5,321.0 216.5,321.2 217.5,321.3 218.5,321.4 219.5,321.5 220.5,321.7 221.5,321.8 222.5,321.9 L222.5,322.1 221.5,322.0 220.5,321.9 219.5,321.8 218.5,321.7 217.5,321.6 216.5,321.5 215.5,321.4 214.5,321.3 213.5,321.2 212.5,321.0 211.5,320.8 210.5,320.6 209.5,320.4 208.5,320.2 207.5,320.0 206.5,319.9 205.5,319.7 204.5,319.5 203.5,319.3 202.5,319.0 201.5,318.8 200.5,318.5 199.5,318.2 198.5,317.8 197.5,317.5 196.5,317.1 195.5,316.8 194.5,316.5 193.5,316.1 192.5,315.7 191.5,315.3 190.5,314.9 189.5,314.4 188.5,313.8 187.5,313.3 186.5,312.8 185.5,312.3 184.5,311.7 183.5,311.2 182.5,310.7 181.5,310.2 180.5,309.8 179.5,309.4 178.5,309.1 177.5,308.8 176.5,308.5 175.5,308.2 174.5,307.9 173.5,307.6 172.5,307.3 171.5,307.0 170.5,306.7 169.5,306.4 168.5,306.1 167.5,305.8 166.5,305.5 165.5,305.2 164.5,304.9 163.5,304.6 162.5,304.3 161.5,304.0 160.5,303.7 159.5,303.4 158.5,303.1 157.5,302.8 156.5,302.5 155.5,302.2 154.5,302.0 153.5,301.9 152.5,301.7 151.5,301.6 150.5,301.5 149.5,301.4 148.5,301.3 147.5,301.2 146.5,301.1 145.5,301.0 144.5,300.9 143.5,300.8 142.5,300.7 141.5,300.6 140.5,300.5 139.5,300.4 138.5,300.3 137.5,300.2 136.5,300.1 135.5,300.0Z" fill="url(#g24)" fill-opacity="0.78"/>
<path d="M155.5,302.0 156.5,302.2 157.5,302.5 158.5,302.8 159.5,303.1 160.5,303.3 161.5,303.6 162.5,303.9 163.5,304.2 164.5,304.4 165.5,304.7 166.5,305.0 167.5,305.2 168.5,305.4 169.5,305.5 170.5,305.6 171.5,305.6 172.5,305.4 173.5,304.9 174.5,304.2 175.5,303.0 176.5,301.3 177.5,299.0 178.5,295.9 179.5,292.0 180.5,287.3 181.5,282.0 182.5,276.1 183.5,269.9 184.5,263.8 185.5,258.1 186.5,253.3 187.5,250.0 188.5,248.4 189.5,248.8 190.5,250.9 191.5,254.4 192.5,259.2 193.5,264.8 194.5,271.0 195.5,277.4 196.5,283.7 197.5,289.8 198.5,295.3 199.5,300.3 200.5,304.5 201.5,308.1 202.5,310.9 203.5,313.2 204.5,315.0 205.5,316.3 206.5,317.4 207.5,318.2 208.5,318.8 209.5,319.3 210.5,319.7 211.5,320.0 212.5,320.3 213.5,320.5 214.5,320.7 215.5,320.9 216.5,321.0 217.5,321.2 218.5,321.3 219.5,321.4 220.5,321.6 221.5,321.7 222.5,321.8 223.0,321.8 L223.0,322.1 222.5,322.1 221.5,322.0 220.5,321.9 219.5,321.8 218.5,321.7 217.5,321.6 216.5,321.5 215.5,321.4 214.5,321.3 213.5,321.2 212.5,321.0 211.5,320.8 210.5,320.6 209.5,320.4 208.5,320.2 207.5,320.0 206.5,319.9 205.5,319.7 204.5,319.5 203.5,319.3 202.5,319.0 201.5,318.8 200.5,318.5 199.5,318.2 198.5,317.8 197.5,317.5 196.5,317.1 195.5,316.8 194.5,316.5 193.5,316.1 192.5,315.7 191.5,315.3 190.5,314.9 189.5,314.4 188.5,313.8 187.5,313.3 186.5,312.8 185.5,312.3 184.5,311.7 183.5,311.2 182.5,310.7 181.5,310.2 180.5,309.8 179.5,309.4 178.5,309.1 177.5,308.8 176.5,308.5 175.5,308.2 174.5,307.9 173.5,307.6 172.5,307.3 171.5,307.0 170.5,306.7 169.5,306.4 168.5,306.1 167.5,305.8 166.5,305.5 165.5,305.2 164.5,304.9 163.5,304.6 162.5,304.3 161.5,304.0 160.5,303.7 159.5,303.4 158.5,303.1 157.5,302.8 156.5,302.5 155.5,302.2Z" fill="url(#g25)" fill-opacity="0.78"/>
<path d="M197.5,316.8 198.5,316.2 199.5,314.7 200.5,312.0 201.5,308.2 202.5,303.8 203.5,300.1 204.5,298.4 205.5,299.2 206.5,302.3 207.5,306.7 208.5,311.3 209.5,315.1 210.5,317.8 211.5,319.5 212.5,320.5 L212.5,321.0 211.5,320.8 210.5,320.6 209.5,320.4 208.5,320.2 207.5,320.0 206.5,319.9 205.5,319.7 204.5,319.5 203.5,319.3 202.5,319.0 201.5,318.8 200.5,318.5 199.5,318.2 198.5,317.8 197.5,317.5Z" fill="url(#g26)" fill-opacity="0.78"/>
<polyline points="44.5,287.7 45.5,287.7 46.5,287.6 47.5,287.6 48.5,287.5 49.5,287.4 50.5,287.2 51.5,287.0 52.5,286.8 53.5,286.6 54.5,286.3 55.5,286.0 56.5,285.7 57.5,285.4 58.5,285.1 59.5,284.8 60.5,284.6 61.5,284.3 62.5,284.2 63.5,284.1 64.5,284.1 65.5,284.2 66.5,284.4 67.5,284.6 68.5,285.0 69.5,285.4 70.5,285.9 71.5,286.4 72.5,286.9 73.5,287.5 74.5,288.0 75.5,288.5 76.5,289.0 77.5,289.5 78.5,289.9 79.5,290.3 80.5,290.7 81.5,291.1 82.5,291.4 83.5,291.7 84.5,291.9 85.5,292.2 86.5,292.4 87.5,292.6 88.5,292.8 89.5,292.9 90.5,293.1 91.5,293.2 92.5,293.3 93.5,293.5 94.5,293.6" fill="none" stroke="#8c8c8c" stroke-width="1.1"/>
<polyline points="44.5,288.1 45.5,288.1 46.5,288.2 47.5,288.3 48.5,288.4 49.5,288.5 50.5,288.5 51.5,288.6 52.5,288.7 53.5,288.7 54.5,288.7 55.5,288.7 56.5,288.7 57.5,288.7 58.5,288.6 59.5,288.5 60.5,288.3 61.5,288.1 62.5,287.8 63.5,287.4 64.5,287.0 65.5,286.5 66.5,286.0 67.5,285.4 68.5,284.7 69.5,284.0 70.5,283.3 71.5,282.5 72.5,281.7 73.5,281.0 74.5,280.3 75.5,279.6 76.5,279.1 77.5,278.7 78.5,278.5 79.5,278.5 80.5,278.7 81.5,279.1 82.5,279.6 83.5,280.3 84.5,281.1 85.5,282.0 86.5,282.9 87.5,283.9 88.5,284.9 89.5,285.9 90.5,286.8 91.5,287.7 92.5,288.5 93.5,289.3 94.5,290.0 95.5,290.7 96.5,291.4 97.5,292.0 98.5,292.5 99.5,293.0 100.5,293.5 101.5,293.9 102.5,294.3 103.5,294.6 104.5,294.9 105.5,295.2 106.5,295.5 107.5,295.8 108.5,296.0 109.5,296.3 110.5,296.5 111.5,296.7 112.5,297.0 113.5,297.2 114.5,297.4 115.5,297.6 116.5,297.8 117.5,298.0 118.5,298.1 119.5,298.2 120.5,298.3" fill="none" stroke="#8c8c8c" stroke-width="1.1"/>
<polyline points="71.5,291.3 72.5,291.4 73.5,291.5 74.5,291.6 75.5,291.6 76.5,291.7 77.5,291.8 78.5,291.8 79.5,291.9 80.5,291.9 81.5,292.0 82.5,292.0 83.5,292.0 84.5,291.9 85.5,291.8 86.5,291.6 87.5,291.3 88.5,290.8 89.5,290.3 90.5,289.5 91.5,288.6 92.5,287.5 93.5,286.3 94.5,284.9 95.5,283.5 96.5,282.1 97.5,280.9 98.5,279.9 99.5,279.2 100.5,279.0 101.5,279.3 102.5,280.1 103.5,281.4 104.5,282.9 105.5,284.6 106.5,286.4 107.5,288.1 108.5,289.7 109.5,291.2 110.5,292.5 111.5,293.6 112.5,294.6 113.5,295.4 114.5,296.1 115.5,296.6 116.5,297.0 117.5,297.4 118.5,297.7 119.5,297.9 120.5,298.0 121.5,298.2 122.5,298.3 123.5,298.5 124.5,298.6 125.5,298.7 126.5,298.8 127.5,299.0 128.5,299.1 129.5,299.2" fill="none" stroke="#8c8c8c" stroke-width="1.1"/>
<polyline points="76.5,291.8 77.5,291.9 78.5,292.0 79.5,292.1 80.5,292.1 81.5,292.2 82.5,292.3 83.5,292.3 84.5,292.4 85.5,292.5 86.5,292.5 87.5,292.6 88.5,292.6 89.5,292.6 90.5,292.7 91.5,292.6 92.5,292.6 93.5,292.5 94.5,292.3 95.5,292.1 96.5,291.6 97.5,291.0 98.5,290.2 99.5,288.9 100.5,287.4 101.5,285.4 102.5,283.1 103.5,280.5 104.5,277.9 105.5,275.3 106.5,273.0 107.5,271.4 108.5,270.7 109.5,271.1 110.5,272.5 111.5,274.8 112.5,277.6 113.5,280.7 114.5,283.7 115.5,286.6 116.5,289.2 117.5,291.3 118.5,293.1 119.5,294.5 120.5,295.6 121.5,296.4 122.5,297.0 123.5,297.4 124.5,297.8 125.5,298.1 126.5,298.3 127.5,298.5 128.5,298.7 129.5,298.8 130.5,299.0 131.5,299.1 132.5,299.2 133.5,299.4 134.5,299.5 135.5,299.6 136.5,299.7 137.5,299.9 138.5,300.0 139.5,300.1 140.5,300.2 141.5,300.3" fill="none" stroke="#8c8c8c" stroke-width="1.1"/>
<polyline points="117.5,298.0 118.5,298.0 119.5,297.9 120.5,297.7 121.5,297.3 122.5,296.9 123.5,296.3 124.5,295.7 125.5,295.1 126.5,294.5 127.5,294.2 128.5,294.2 129.5,294.4 130.5,294.9 131.5,295.6 132.5,296.4 133.5,297.2 134.5,298.0 135.5,298.6 136.5,299.2 137.5,299.6 138.5,299.9 139.5,300.1" fill="none" stroke="#8c8c8c" stroke-width="1.1"/>
<polyline points="127.5,299.0 128.5,299.1 129.5,299.1 130.5,299.2 131.5,299.2 132.5,299.2 133.5,299.2 134.5,299.2 135.5,299.1 136.5,299.0 137.5,298.8 138.5,298.6 139.5,298.3 140.5,298.0 141.5,297.6 142.5,297.1 143.5,296.5 144.5,295.9 145.5,295.3 146.5,294.7 147.5,294.1 148.5,293.7 149.5,293.3 150.5,293.1 151.5,293.2 152.5,293.4 153.5,293.8 154.5,294.5 155.5,295.3 156.5,296.2 157.5,297.2 158.5,298.3 159.5,299.3 160.5,300.2 161.5,301.1 162.5,301.9 163.5,302.7 164.5,303.3 165.5,303.9 166.5,304.5 167.5,305.0 168.5,305.4 169.5,305.9 170.5,306.2 171.5,306.6 172.5,306.9 173.5,307.3 174.5,307.6 175.5,307.9" fill="none" stroke="#8c8c8c" stroke-width="1.1"/>
<polyline points="115.5,297.7 116.5,297.9 117.5,298.0 118.5,298.1 119.5,298.2 120.5,298.3 121.5,298.4 122.5,298.5 123.5,298.5 124.5,298.6 125.5,298.7 126.5,298.8 127.5,298.8 128.5,298.9 129.5,299.0 130.5,299.0 131.5,299.1 132.5,299.1 133.5,299.2 134.5,299.2 135.5,299.3 136.5,299.3 137.5,299.3 138.5,299.3 139.5,299.3 140.5,299.3 141.5,299.2 142.5,299.1 143.5,298.9 144.5,298.7 145.5,298.4 146.5,298.0 147.5,297.5 148.5,296.9 149.5,296.2 150.5,295.3 151.5,294.4 152.5,293.3 153.5,292.1 154.5,290.8 155.5,289.5 156.5,288.2 157.5,287.0 158.5,285.8 159.5,284.7 160.5,283.8 161.5,283.1 162.5,282.6 163.5,282.6 164.5,282.9 165.5,283.5 166.5,284.5 167.5,285.8 168.5,287.3 169.5,289.0 170.5,290.8 171.5,292.6 172.5,294.4 173.5,296.2 174.5,298.0 175.5,299.6 176.5,301.1 177.5,302.5 178.5,303.7 179.5,304.9 180.5,306.0 181.5,307.0 182.5,308.0 183.5,309.0 184.5,309.8 185.5,310.6 186.5,311.4 187.5,312.1 188.5,312.7 189.5,313.4 190.5,314.0 191.5,314.5 192.5,315.0 193.5,315.4 194.5,315.8 195.5,316.2 196.5,316.6 197.5,317.0 198.5,317.3 199.5,317.7 200.5,318.0 201.5,318.4 202.5,318.6 203.5,318.9 204.5,319.1 205.5,319.3 206.5,319.5 207.5,319.7 208.5,319.9 209.5,320.2 210.5,320.4 211.5,320.6 212.5,320.7" fill="none" stroke="#8c8c8c" stroke-width="1.1"/>
<polyline points="135.5,299.7 136.5,299.8 137.5,299.9 138.5,300.0 139.5,300.1 140.5,300.2 141.5,300.3 142.5,300.3 143.5,300.4 144.5,300.5 145.5,300.6 146.5,300.7 147.5,300.7 148.5,300.8 149.5,300.9 150.5,301.0 151.5,301.0 152.5,301.1 153.5,301.1 154.5,301.2 155.5,301.4 156.5,301.5 157.5,301.7 158.5,301.8 159.5,301.9 160.5,302.0 161.5,301.9 162.5,301.8 163.5,301.5 164.5,301.1 165.5,300.5 166.5,299.7 167.5,298.7 168.5,297.5 169.5,296.1 170.5,294.4 171.5,292.6 172.5,290.7 173.5,288.8 174.5,287.0 175.5,285.4 176.5,284.1 177.5,283.3 178.5,283.1 179.5,283.5 180.5,284.7 181.5,286.4 182.5,288.6 183.5,291.1 184.5,293.8 185.5,296.6 186.5,299.3 187.5,301.8 188.5,304.2 189.5,306.4 190.5,308.3 191.5,310.0 192.5,311.4 193.5,312.6 194.5,313.6 195.5,314.5 196.5,315.2 197.5,315.9 198.5,316.5 199.5,317.0 200.5,317.4 201.5,317.8 202.5,318.2 203.5,318.5 204.5,318.8 205.5,319.0 206.5,319.3 207.5,319.5 208.5,319.7 209.5,320.0 210.5,320.2 211.5,320.4 212.5,320.6 213.5,320.8 214.5,320.9 215.5,321.0 216.5,321.2 217.5,321.3 218.5,321.4 219.5,321.5 220.5,321.7 221.5,321.8 222.5,321.9" fill="none" stroke="#8c8c8c" stroke-width="1.1"/>
<polyline points="155.5,302.0 156.5,302.2 157.5,302.5 158.5,302.8 159.5,303.1 160.5,303.3 161.5,303.6 162.5,303.9 163.5,304.2 164.5,304.4 165.5,304.7 166.5,305.0 167.5,305.2 168.5,305.4 169.5,305.5 170.5,305.6 171.5,305.6 172.5,305.4 173.5,304.9 174.5,304.2 175.5,303.0 176.5,301.3 177.5,299.0 178.5,295.9 179.5,292.0 180.5,287.3 181.5,282.0 182.5,276.1 183.5,269.9 184.5,263.8 185.5,258.1 186.5,253.3 187.5,250.0 188.5,248.4 189.5,248.8 190.5,250.9 191.5,254.4 192.5,259.2 193.5,264.8 194.5,271.0 195.5,277.4 196.5,283.7 197.5,289.8 198.5,295.3 199.5,300.3 200.5,304.5 201.5,308.1 202.5,310.9 203.5,313.2 204.5,315.0 205.5,316.3 206.5,317.4 207.5,318.2 208.5,318.8 209.5,319.3 210.5,319.7 211.5,320.0 212.5,320.3 213.5,320.5 214.5,320.7 215.5,320.9 216.5,321.0 217.5,321.2 218.5,321.3 219.5,321.4 220.5,321.6 221.5,321.7 222.5,321.8 223.0,321.8" fill="none" stroke="#8c8c8c" stroke-width="1.1"/>
<polyline points="197.5,316.8 198.5,316.2 199.5,314.7 200.5,312.0 201.5,308.2 202.5,303.8 203.5,300.1 204.5,298.4 205.5,299.2 206.5,302.3 207.5,306.7 208.5,311.3 209.5,315.1 210.5,317.8 211.5,319.5 212.5,320.5" fill="none" stroke="#8c8c8c" stroke-width="1.1"/>
<polyline points="44.5,288.3 45.2,285.2 45.9,285.9 46.6,286.3 47.3,284.6 48.0,285.6 48.7,285.5 49.4,283.0 50.1,286.7 50.8,286.0 51.5,284.1 52.2,284.5 52.9,285.3 53.6,284.0 54.3,283.7 55.0,281.8 55.7,284.3 56.4,283.3 57.1,283.2 57.8,280.3 58.5,284.4 59.2,281.9 59.9,280.8 60.6,283.8 61.3,280.5 62.0,278.1 62.7,279.2 63.4,276.1 64.1,280.4 64.8,278.0 65.5,277.2 66.2,279.3 66.9,275.2 67.6,277.9 68.3,274.0 69.0,275.6 69.7,274.6 70.4,278.0 71.1,278.2 71.8,274.9 72.5,276.3 73.2,274.6 73.9,275.4 74.6,273.4 75.3,271.9 76.0,271.6 76.7,274.6 77.4,277.1 78.1,274.4 78.8,273.4 79.5,277.0 80.2,274.9 80.9,275.0 81.6,275.6 82.3,275.5 83.0,275.8 83.7,274.7 84.4,277.9 85.1,277.6 85.8,280.0 86.5,278.3 87.2,276.6 87.9,279.5 88.6,282.3 89.3,279.6 90.0,279.0 90.7,278.5 91.4,278.6 92.1,279.3 92.8,277.7 93.5,280.9 94.2,277.7 94.9,277.4 95.6,278.4 96.3,277.4 97.0,273.9 97.7,273.5 98.4,272.9 99.1,270.4 99.8,266.9 100.5,269.1 101.2,268.3 101.9,266.5 102.6,263.6 103.3,263.7 104.0,262.2 104.7,261.8 105.4,263.3 106.1,263.2 106.8,261.7 107.5,261.5 108.2,262.3 108.9,262.2 109.6,263.4 110.3,264.4 111.0,267.4 111.7,272.9 112.4,273.5 113.1,274.3 113.8,276.7 114.5,278.6 115.2,282.5 115.9,284.6 116.6,283.9 117.3,288.2 118.0,288.1 118.7,292.0 119.4,291.1 120.1,293.9 120.8,291.3 121.5,291.9 122.2,292.7 122.9,293.7 123.6,292.9 124.3,290.1 125.0,291.8 125.7,291.3 126.4,290.4 127.1,289.9 127.8,293.2 128.5,290.2 129.2,289.7 129.9,292.1 130.6,291.7 131.3,291.9 132.0,293.6 132.7,293.7 133.4,294.1 134.1,295.3 134.8,294.8 135.5,293.8 136.2,294.4 136.9,294.3 137.6,295.4 138.3,293.5 139.0,292.3 139.7,294.8 140.4,292.5 141.1,291.3 141.8,294.2 142.5,292.2 143.2,293.3 143.9,291.2 144.6,289.8 145.3,288.9 146.0,289.1 146.7,288.7 147.4,287.1 148.1,287.0 148.8,284.4 149.5,285.7 150.2,282.4 150.9,283.9 151.6,284.4 152.3,284.2 153.0,284.4 153.7,279.2 154.4,281.8 155.1,281.9 155.8,281.1 156.5,277.9 157.2,279.3 157.9,280.9 158.6,275.8 159.3,278.1 160.0,278.6 160.7,275.7 161.4,277.1 162.1,274.5 162.8,274.7 163.5,274.5 164.2,275.9 164.9,275.4 165.6,276.9 166.3,274.3 167.0,275.5 167.7,277.1 168.4,276.6 169.1,273.9 169.8,276.6 170.5,274.8 171.2,275.6 171.9,275.0 172.6,275.7 173.3,273.4 174.0,269.7 174.7,269.4 175.4,271.1 176.1,268.4 176.8,268.8 177.5,266.0 178.2,262.7 178.9,263.3 179.6,258.6 180.3,254.7 181.0,258.1 181.7,250.1 182.4,251.1 183.1,248.9 183.8,245.2 184.5,240.1 185.2,241.7 185.9,236.3 186.6,235.0 187.3,235.6 188.0,237.2 188.7,237.1 189.4,239.4 190.1,240.0 190.8,243.3 191.5,245.3 192.2,250.5 192.9,256.2 193.6,259.5 194.3,265.4 195.0,268.8 195.7,273.5 196.4,279.1 197.1,283.0 197.8,287.9 198.5,290.7 199.2,295.2 199.9,294.1 200.6,294.8 201.3,293.4 202.0,294.0 202.7,293.8 203.4,290.7 204.1,291.4 204.8,293.1 205.5,293.3 206.2,295.6 206.9,300.9 207.6,303.3 208.3,307.2 209.0,311.4 209.7,314.0 210.4,314.0 211.1,315.2 211.8,317.4 212.5,317.6 213.2,315.5 213.9,320.3 214.6,318.8 215.3,320.0 216.0,317.4 216.7,321.0 217.4,318.5 218.1,319.3 218.8,317.6 219.5,319.4 220.2,319.4 220.9,319.6 221.6,320.6 222.3,320.1 223.0,321.5" fill="none" stroke="#a0a0a0" stroke-width="1"/>
<polyline points="44.5,288.5 45.5,288.5 46.5,288.6 47.5,288.7 48.5,288.8 49.5,289.0 50.5,289.1 51.5,289.2 52.5,289.3 53.5,289.4 54.5,289.6 55.5,289.7 56.5,289.8 57.5,289.9 58.5,290.0 59.5,290.1 60.5,290.3 61.5,290.4 62.5,290.5 63.5,290.6 64.5,290.7 65.5,290.9 66.5,291.0 67.5,291.1 68.5,291.2 69.5,291.3 70.5,291.5 71.5,291.6 72.5,291.7 73.5,291.8 74.5,291.9 75.5,292.0 76.5,292.1 77.5,292.2 78.5,292.3 79.5,292.4 80.5,292.5 81.5,292.6 82.5,292.7 83.5,292.8 84.5,292.9 85.5,293.0 86.5,293.1 87.5,293.2 88.5,293.3 89.5,293.4 90.5,293.5 91.5,293.6 92.5,293.7 93.5,293.8 94.5,293.9 95.5,294.0 96.5,294.2 97.5,294.4 98.5,294.6 99.5,294.8 100.5,295.0 101.5,295.2 102.5,295.4 103.5,295.6 104.5,295.8 105.5,296.0 106.5,296.2 107.5,296.4 108.5,296.6 109.5,296.8 110.5,297.0 111.5,297.2 112.5,297.4 113.5,297.6 114.5,297.8 115.5,298.0 116.5,298.1 117.5,298.3 118.5,298.4 119.5,298.5 120.5,298.6 121.5,298.7 122.5,298.8 123.5,298.9 124.5,299.0 125.5,299.1 126.5,299.2 127.5,299.3 128.5,299.4 129.5,299.4 130.5,299.5 131.5,299.6 132.5,299.7 133.5,299.8 134.5,299.9 135.5,300.0 136.5,300.1 137.5,300.2 138.5,300.3 139.5,300.4 140.5,300.5 141.5,300.6 142.5,300.7 143.5,300.8 144.5,300.9 145.5,301.0 146.5,301.1 147.5,301.2 148.5,301.3 149.5,301.4 150.5,301.5 151.5,301.6 152.5,301.7 153.5,301.9 154.5,302.0 155.5,302.2 156.5,302.5 157.5,302.8 158.5,303.1 159.5,303.4 160.5,303.7 161.5,304.0 162.5,304.3 163.5,304.6 164.5,304.9 165.5,305.2 166.5,305.5 167.5,305.8 168.5,306.1 169.5,306.4 170.5,306.7 171.5,307.0 172.5,307.3 173.5,307.6 174.5,307.9 175.5,308.2 176.5,308.5 177.5,308.8 178.5,309.1 179.5,309.4 180.5,309.8 181.5,310.2 182.5,310.7 183.5,311.2 184.5,311.7 185.5,312.3 186.5,312.8 187.5,313.3 188.5,313.8 189.5,314.4 190.5,314.9 191.5,315.3 192.5,315.7 193.5,316.1 194.5,316.5 195.5,316.8 196.5,317.1 197.5,317.5 198.5,317.8 199.5,318.2 200.5,318.5 201.5,318.8 202.5,319.0 203.5,319.3 204.5,319.5 205.5,319.7 206.5,319.9 207.5,320.0 208.5,320.2 209.5,320.4 210.5,320.6 211.5,320.8 212.5,321.0 213.5,321.2 214.5,321.3 215.5,321.4 216.5,321.5 217.5,321.6 218.5,321.7 219.5,321.8 220.5,321.9 221.5,322.0 222.5,322.1 223.0,322.1" fill="none" stroke="#222222" stroke-width="1.3"/>
<polyline points="44.5,287.1 45.5,287.1 46.5,287.0 47.5,286.9 48.5,286.8 49.5,286.6 50.5,286.4 51.5,286.2 52.5,285.9 53.5,285.6 54.5,285.2 55.5,284.8 56.5,284.3 57.5,283.8 58.5,283.3 59.5,282.8 60.5,282.2 61.5,281.6 62.5,281.0 63.5,280.5 64.5,279.9 65.5,279.4 66.5,278.9 67.5,278.4 68.5,278.0 69.5,277.5 70.5,277.1 71.5,276.7 72.5,276.3 73.5,276.0 74.5,275.6 75.5,275.4 76.5,275.2 77.5,275.2 78.5,275.3 79.5,275.5 80.5,275.9 81.5,276.4 82.5,277.0 83.5,277.7 84.5,278.5 85.5,279.3 86.5,280.0 87.5,280.6 88.5,281.1 89.5,281.4 90.5,281.4 91.5,281.2 92.5,280.8 93.5,280.0 94.5,279.0 95.5,277.7 96.5,276.3 97.5,274.6 98.5,272.9 99.5,271.1 100.5,269.4 101.5,267.8 102.5,266.2 103.5,264.9 104.5,263.6 105.5,262.6 106.5,262.0 107.5,262.0 108.5,262.7 109.5,264.5 110.5,267.0 111.5,270.2 112.5,273.8 113.5,277.5 114.5,281.0 115.5,284.2 116.5,286.9 117.5,289.2 118.5,291.0 119.5,292.2 120.5,293.0 121.5,293.5 122.5,293.5 123.5,293.4 124.5,293.0 125.5,292.6 126.5,292.2 127.5,291.9 128.5,291.9 129.5,292.2 130.5,292.7 131.5,293.4 132.5,294.1 133.5,294.8 134.5,295.4 135.5,295.9 136.5,296.2 137.5,296.3 138.5,296.2 139.5,296.0 140.5,295.6 141.5,295.0 142.5,294.4 143.5,293.5 144.5,292.6 145.5,291.6 146.5,290.5 147.5,289.3 148.5,288.1 149.5,286.9 150.5,285.8 151.5,284.7 152.5,283.7 153.5,282.7 154.5,281.9 155.5,281.1 156.5,280.4 157.5,279.8 158.5,279.1 159.5,278.5 160.5,277.9 161.5,277.5 162.5,277.1 163.5,276.9 164.5,276.8 165.5,276.8 166.5,276.9 167.5,277.0 168.5,277.0 169.5,276.9 170.5,276.6 171.5,276.1 172.5,275.3 173.5,274.2 174.5,272.8 175.5,271.1 176.5,269.1 177.5,266.8 178.5,264.2 179.5,261.3 180.5,258.1 181.5,254.7 182.5,251.0 183.5,247.3 184.5,243.7 185.5,240.5 186.5,238.2 187.5,237.0 188.5,237.5 189.5,239.7 190.5,243.3 191.5,248.1 192.5,253.9 193.5,260.4 194.5,267.3 195.5,274.2 196.5,280.9 197.5,286.8 198.5,291.7 199.5,295.0 200.5,296.4 201.5,296.0 202.5,294.3 203.5,292.8 204.5,292.7 205.5,294.7 206.5,298.7 207.5,303.8 208.5,308.9 209.5,313.0 210.5,316.0 211.5,317.9 212.5,319.0 213.5,319.6 214.5,319.9 215.5,320.2 216.5,320.4 217.5,320.5 218.5,320.7 219.5,320.9 220.5,321.0 221.5,321.1 222.5,321.3 223.0,321.3" fill="none" stroke="#850a88" stroke-width="1.7"/>
<path d="M295.5,153.2 296.5,153.1 297.5,152.9 298.5,152.7 299.5,152.5 300.5,152.2 301.5,151.9 302.5,151.6 303.5,151.1 304.5,150.7 305.5,150.1 306.5,149.4 307.5,148.6 308.5,147.8 309.5,146.7 310.5,145.6 311.5,144.3 312.5,142.9 313.5,141.2 314.5,139.4 315.5,137.4 316.5,135.3 317.5,132.9 318.5,130.2 319.5,127.4 320.5,124.4 321.5,121.1 322.5,117.6 323.5,113.9 324.5,110.0 325.5,106.0 326.5,101.7 327.5,97.4 328.5,92.8 329.5,88.2 330.5,83.6 331.5,78.9 332.5,74.2 333.5,69.5 334.5,64.9 335.5,60.4 336.5,56.0 337.5,51.9 338.5,48.0 339.5,44.3 340.5,40.9 341.5,37.8 342.5,35.1 343.5,32.8 344.5,30.8 345.5,29.2 346.5,28.1 347.5,27.3 348.5,26.9 349.5,26.8 350.5,27.1 351.5,27.7 352.5,28.7 353.5,30.1 354.5,31.9 355.5,34.1 356.5,36.6 357.5,39.5 358.5,42.7 359.5,46.2 360.5,50.0 361.5,54.0 362.5,58.1 363.5,62.5 364.5,67.0 365.5,71.6 366.5,76.2 367.5,80.8 368.5,85.5 369.5,90.1 370.5,94.6 371.5,99.0 372.5,103.2 373.5,107.4 374.5,111.3 375.5,115.1 376.5,118.7 377.5,122.0 378.5,125.2 379.5,128.2 380.5,130.9 381.5,133.4 382.5,135.7 383.5,137.9 384.5,139.8 385.5,141.5 386.5,143.1 387.5,144.5 388.5,145.8 389.5,146.9 390.5,147.9 391.5,148.7 392.5,149.5 393.5,150.1 394.5,150.7 395.5,151.2 396.5,151.6 397.5,151.9 398.5,152.2 399.5,152.5 400.5,152.7 401.5,152.9 402.5,153.0 403.5,153.2 404.5,153.3 405.5,153.4 406.5,153.4 L406.5,153.7 405.5,153.7 404.5,153.7 403.5,153.7 402.5,153.7 401.5,153.7 400.5,153.7 399.5,153.7 398.5,153.7 397.5,153.7 396.5,153.7 395.5,153.7 394.5,153.7 393.5,153.7 392.5,153.7 391.5,153.7 390.5,153.7 389.5,153.7 388.5,153.7 387.5,153.7 386.5,153.7 385.5,153.7 384.5,153.7 383.5,153.7 382.5,153.7 381.5,153.7 380.5,153.7 379.5,153.7 378.5,153.7 377.5,153.7 376.5,153.7 375.5,153.7 374.5,153.7 373.5,153.7 372.5,153.7 371.5,153.7 370.5,153.7 369.5,153.7 368.5,153.7 367.5,153.7 366.5,153.7 365.5,153.7 364.5,153.7 363.5,153.7 362.5,153.7 361.5,153.7 360.5,153.7 359.5,153.7 358.5,153.7 357.5,153.7 356.5,153.7 355.5,153.7 354.5,153.7 353.5,153.7 352.5,153.7 351.5,153.7 350.5,153.7 349.5,153.7 348.5,153.7 347.5,153.7 346.5,153.7 345.5,153.7 344.5,153.7 343.5,153.7 342.5,153.7 341.5,153.7 340.5,153.7 339.5,153.7 338.5,153.7 337.5,153.7 336.5,153.7 335.5,153.7 334.5,153.7 333.5,153.7 332.5,153.7 331.5,153.7 330.5,153.7 329.5,153.7 328.5,153.7 327.5,153.7 326.5,153.7 325.5,153.7 324.5,153.7 323.5,153.7 322.5,153.7 321.5,153.7 320.5,153.7 319.5,153.7 318.5,153.7 317.5,153.7 316.5,153.7 315.5,153.7 314.5,153.7 313.5,153.7 312.5,153.7 311.5,153.7 310.5,153.7 309.5,153.7 308.5,153.7 307.5,153.7 306.5,153.7 305.5,153.7 304.5,153.7 303.5,153.7 302.5,153.7 301.5,153.7 300.5,153.7 299.5,153.7 298.5,153.7 297.5,153.7 296.5,153.7 295.5,153.7Z" fill="url(#g27)" fill-opacity="0.78"/>
<path d="M355.5,153.4 356.5,153.4 357.5,153.4 358.5,153.4 359.5,153.4 360.5,153.4 361.5,153.4 362.5,153.4 363.5,153.3 364.5,153.3 365.5,153.3 366.5,153.3 367.5,153.2 368.5,153.2 369.5,153.1 370.5,153.1 371.5,153.0 372.5,152.9 373.5,152.8 374.5,152.7 375.5,152.6 376.5,152.4 377.5,152.2 378.5,152.0 379.5,151.7 380.5,151.5 381.5,151.1 382.5,150.7 383.5,150.3 384.5,149.8 385.5,149.2 386.5,148.6 387.5,147.9 388.5,147.1 389.5,146.2 390.5,145.3 391.5,144.3 392.5,143.2 393.5,142.0 394.5,140.7 395.5,139.4 396.5,138.0 397.5,136.5 398.5,135.0 399.5,133.5 400.5,131.9 401.5,130.4 402.5,128.8 403.5,127.3 404.5,125.8 405.5,124.4 406.5,123.1 407.5,121.9 408.5,120.8 409.5,119.8 410.5,119.0 411.5,118.4 412.5,118.0 413.5,117.7 414.5,117.7 415.5,117.8 416.5,118.2 417.5,118.7 418.5,119.4 419.5,120.3 420.5,121.4 421.5,122.5 422.5,123.8 423.5,125.2 424.5,126.7 425.5,128.2 426.5,129.7 427.5,131.3 428.5,132.8 429.5,134.4 430.5,135.9 431.5,137.4 432.5,138.8 433.5,140.1 434.5,141.4 435.5,142.7 436.5,143.8 437.5,144.9 438.5,145.8 439.5,146.7 440.5,147.5 441.5,148.3 442.5,149.0 443.5,149.5 444.5,150.1 445.5,150.5 446.5,151.0 447.5,151.3 448.5,151.6 449.5,151.9 450.5,152.1 451.5,152.3 452.5,152.5 453.5,152.6 454.5,152.8 455.5,152.9 456.5,153.0 457.5,153.0 458.5,153.1 459.0,153.1 L459.0,153.7 458.5,153.7 457.5,153.7 456.5,153.7 455.5,153.7 454.5,153.7 453.5,153.7 452.5,153.7 451.5,153.7 450.5,153.7 449.5,153.7 448.5,153.7 447.5,153.7 446.5,153.7 445.5,153.7 444.5,153.7 443.5,153.7 442.5,153.7 441.5,153.7 440.5,153.7 439.5,153.7 438.5,153.7 437.5,153.7 436.5,153.7 435.5,153.7 434.5,153.7 433.5,153.7 432.5,153.7 431.5,153.7 430.5,153.7 429.5,153.7 428.5,153.7 427.5,153.7 426.5,153.7 425.5,153.7 424.5,153.7 423.5,153.7 422.5,153.7 421.5,153.7 420.5,153.7 419.5,153.7 418.5,153.7 417.5,153.7 416.5,153.7 415.5,153.7 414.5,153.7 413.5,153.7 412.5,153.7 411.5,153.7 410.5,153.7 409.5,153.7 408.5,153.7 407.5,153.7 406.5,153.7 405.5,153.7 404.5,153.7 403.5,153.7 402.5,153.7 401.5,153.7 400.5,153.7 399.5,153.7 398.5,153.7 397.5,153.7 396.5,153.7 395.5,153.7 394.5,153.7 393.5,153.7 392.5,153.7 391.5,153.7 390.5,153.7 389.5,153.7 388.5,153.7 387.5,153.7 386.5,153.7 385.5,153.7 384.5,153.7 383.5,153.7 382.5,153.7 381.5,153.7 380.5,153.7 379.5,153.7 378.5,153.7 377.5,153.7 376.5,153.7 375.5,153.7 374.5,153.7 373.5,153.7 372.5,153.7 371.5,153.7 370.5,153.7 369.5,153.7 368.5,153.7 367.5,153.7 366.5,153.7 365.5,153.7 364.5,153.7 363.5,153.7 362.5,153.7 361.5,153.7 360.5,153.7 359.5,153.7 358.5,153.7 357.5,153.7 356.5,153.7 355.5,153.7Z" fill="url(#g28)" fill-opacity="0.78"/>
<polyline points="295.5,153.2 296.5,153.1 297.5,152.9 298.5,152.7 299.5,152.5 300.5,152.2 301.5,151.9 302.5,151.6 303.5,151.1 304.5,150.7 305.5,150.1 306.5,149.4 307.5,148.6 308.5,147.8 309.5,146.7 310.5,145.6 311.5,144.3 312.5,142.9 313.5,141.2 314.5,139.4 315.5,137.4 316.5,135.3 317.5,132.9 318.5,130.2 319.5,127.4 320.5,124.4 321.5,121.1 322.5,117.6 323.5,113.9 324.5,110.0 325.5,106.0 326.5,101.7 327.5,97.4 328.5,92.8 329.5,88.2 330.5,83.6 331.5,78.9 332.5,74.2 333.5,69.5 334.5,64.9 335.5,60.4 336.5,56.0 337.5,51.9 338.5,48.0 339.5,44.3 340.5,40.9 341.5,37.8 342.5,35.1 343.5,32.8 344.5,30.8 345.5,29.2 346.5,28.1 347.5,27.3 348.5,26.9 349.5,26.8 350.5,27.1 351.5,27.7 352.5,28.7 353.5,30.1 354.5,31.9 355.5,34.1 356.5,36.6 357.5,39.5 358.5,42.7 359.5,46.2 360.5,50.0 361.5,54.0 362.5,58.1 363.5,62.5 364.5,67.0 365.5,71.6 366.5,76.2 367.5,80.8 368.5,85.5 369.5,90.1 370.5,94.6 371.5,99.0 372.5,103.2 373.5,107.4 374.5,111.3 375.5,115.1 376.5,118.7 377.5,122.0 378.5,125.2 379.5,128.2 380.5,130.9 381.5,133.4 382.5,135.7 383.5,137.9 384.5,139.8 385.5,141.5 386.5,143.1 387.5,144.5 388.5,145.8 389.5,146.9 390.5,147.9 391.5,148.7 392.5,149.5 393.5,150.1 394.5,150.7 395.5,151.2 396.5,151.6 397.5,151.9 398.5,152.2 399.5,152.5 400.5,152.7 401.5,152.9 402.5,153.0 403.5,153.2 404.5,153.3 405.5,153.4 406.5,153.4" fill="none" stroke="#8c8c8c" stroke-width="1.1"/>
<polyline points="355.5,153.4 356.5,153.4 357.5,153.4 358.5,153.4 359.5,153.4 360.5,153.4 361.5,153.4 362.5,153.4 363.5,153.3 364.5,153.3 365.5,153.3 366.5,153.3 367.5,153.2 368.5,153.2 369.5,153.1 370.5,153.1 371.5,153.0 372.5,152.9 373.5,152.8 374.5,152.7 375.5,152.6 376.5,152.4 377.5,152.2 378.5,152.0 379.5,151.7 380.5,151.5 381.5,151.1 382.5,150.7 383.5,150.3 384.5,149.8 385.5,149.2 386.5,148.6 387.5,147.9 388.5,147.1 389.5,146.2 390.5,145.3 391.5,144.3 392.5,143.2 393.5,142.0 394.5,140.7 395.5,139.4 396.5,138.0 397.5,136.5 398.5,135.0 399.5,133.5 400.5,131.9 401.5,130.4 402.5,128.8 403.5,127.3 404.5,125.8 405.5,124.4 406.5,123.1 407.5,121.9 408.5,120.8 409.5,119.8 410.5,119.0 411.5,118.4 412.5,118.0 413.5,117.7 414.5,117.7 415.5,117.8 416.5,118.2 417.5,118.7 418.5,119.4 419.5,120.3 420.5,121.4 421.5,122.5 422.5,123.8 423.5,125.2 424.5,126.7 425.5,128.2 426.5,129.7 427.5,131.3 428.5,132.8 429.5,134.4 430.5,135.9 431.5,137.4 432.5,138.8 433.5,140.1 434.5,141.4 435.5,142.7 436.5,143.8 437.5,144.9 438.5,145.8 439.5,146.7 440.5,147.5 441.5,148.3 442.5,149.0 443.5,149.5 444.5,150.1 445.5,150.5 446.5,151.0 447.5,151.3 448.5,151.6 449.5,151.9 450.5,152.1 451.5,152.3 452.5,152.5 453.5,152.6 454.5,152.8 455.5,152.9 456.5,153.0 457.5,153.0 458.5,153.1 459.0,153.1" fill="none" stroke="#8c8c8c" stroke-width="1.1"/>
<polyline points="295.5,153.7 296.5,153.7 297.5,153.7 298.5,153.7 299.5,153.7 300.5,153.7 301.5,153.7 302.5,153.7 303.5,153.7 304.5,153.7 305.5,153.7 306.5,153.7 307.5,153.7 308.5,153.7 309.5,153.7 310.5,153.7 311.5,153.7 312.5,153.7 313.5,153.7 314.5,153.7 315.5,153.7 316.5,153.7 317.5,153.7 318.5,153.7 319.5,153.7 320.5,153.7 321.5,153.7 322.5,153.7 323.5,153.7 324.5,153.7 325.5,153.7 326.5,153.7 327.5,153.7 328.5,153.7 329.5,153.7 330.5,153.7 331.5,153.7 332.5,153.7 333.5,153.7 334.5,153.7 335.5,153.7 336.5,153.7 337.5,153.7 338.5,153.7 339.5,153.7 340.5,153.7 341.5,153.7 342.5,153.7 343.5,153.7 344.5,153.7 345.5,153.7 346.5,153.7 347.5,153.7 348.5,153.7 349.5,153.7 350.5,153.7 351.5,153.7 352.5,153.7 353.5,153.7 354.5,153.7 355.5,153.7 356.5,153.7 357.5,153.7 358.5,153.7 359.5,153.7 360.5,153.7 361.5,153.7 362.5,153.7 363.5,153.7 364.5,153.7 365.5,153.7 366.5,153.7 367.5,153.7 368.5,153.7 369.5,153.7 370.5,153.7 371.5,153.7 372.5,153.7 373.5,153.7 374.5,153.7 375.5,153.7 376.5,153.7 377.5,153.7 378.5,153.7 379.5,153.7 380.5,153.7 381.5,153.7 382.5,153.7 383.5,153.7 384.5,153.7 385.5,153.7 386.5,153.7 387.5,153.7 388.5,153.7 389.5,153.7 390.5,153.7 391.5,153.7 392.5,153.7 393.5,153.7 394.5,153.7 395.5,153.7 396.5,153.7 397.5,153.7 398.5,153.7 399.5,153.7 400.5,153.7 401.5,153.7 402.5,153.7 403.5,153.7 404.5,153.7 405.5,153.7 406.5,153.7 407.5,153.7 408.5,153.7 409.5,153.7 410.5,153.7 411.5,153.7 412.5,153.7 413.5,153.7 414.5,153.7 415.5,153.7 416.5,153.7 417.5,153.7 418.5,153.7 419.5,153.7 420.5,153.7 421.5,153.7 422.5,153.7 423.5,153.7 424.5,153.7 425.5,153.7 426.5,153.7 427.5,153.7 428.5,153.7 429.5,153.7 430.5,153.7 431.5,153.7 432.5,153.7 433.5,153.7 434.5,153.7 435.5,153.7 436.5,153.7 437.5,153.7 438.5,153.7 439.5,153.7 440.5,153.7 441.5,153.7 442.5,153.7 443.5,153.7 444.5,153.7 445.5,153.7 446.5,153.7 447.5,153.7 448.5,153.7 449.5,153.7 450.5,153.7 451.5,153.7 452.5,153.7 453.5,153.7 454.5,153.7 455.5,153.7 456.5,153.7 457.5,153.7 458.5,153.7 459.0,153.7" fill="none" stroke="#7a7a7a" stroke-width="1.3"/>
<polyline points="295.5,153.1 296.5,153.0 297.5,152.8 298.5,152.7 299.5,152.4 300.5,152.2 301.5,151.9 302.5,151.5 303.5,151.1 304.5,150.6 305.5,150.0 306.5,149.3 307.5,148.6 308.5,147.7 309.5,146.7 310.5,145.5 311.5,144.2 312.5,142.8 313.5,141.2 314.5,139.3 315.5,137.4 316.5,135.2 317.5,132.8 318.5,130.1 319.5,127.3 320.5,124.3 321.5,121.0 322.5,117.5 323.5,113.8 324.5,109.9 325.5,105.9 326.5,101.6 327.5,97.2 328.5,92.7 329.5,88.1 330.5,83.4 331.5,78.7 332.5,74.0 333.5,69.3 334.5,64.7 335.5,60.2 336.5,55.9 337.5,51.7 338.5,47.8 339.5,44.1 340.5,40.7 341.5,37.7 342.5,34.9 343.5,32.6 344.5,30.6 345.5,29.0 346.5,27.9 347.5,27.1 348.5,26.7 349.5,26.6 350.5,26.9 351.5,27.5 352.5,28.5 353.5,29.9 354.5,31.7 355.5,33.8 356.5,36.4 357.5,39.2 358.5,42.4 359.5,45.9 360.5,49.6 361.5,53.6 362.5,57.8 363.5,62.1 364.5,66.6 365.5,71.2 366.5,75.8 367.5,80.4 368.5,85.0 369.5,89.5 370.5,93.9 371.5,98.3 372.5,102.5 373.5,106.5 374.5,110.3 375.5,114.0 376.5,117.4 377.5,120.6 378.5,123.5 379.5,126.2 380.5,128.7 381.5,130.8 382.5,132.8 383.5,134.5 384.5,135.9 385.5,137.1 386.5,138.0 387.5,138.7 388.5,139.2 389.5,139.4 390.5,139.4 391.5,139.3 392.5,138.9 393.5,138.4 394.5,137.7 395.5,136.9 396.5,135.9 397.5,134.8 398.5,133.6 399.5,132.3 400.5,131.0 401.5,129.6 402.5,128.2 403.5,126.8 404.5,125.4 405.5,124.1 406.5,122.8 407.5,121.6 408.5,120.6 409.5,119.7 410.5,118.9 411.5,118.3 412.5,117.9 413.5,117.7 414.5,117.6 415.5,117.8 416.5,118.2 417.5,118.7 418.5,119.4 419.5,120.3 420.5,121.4 421.5,122.5 422.5,123.8 423.5,125.2 424.5,126.6 425.5,128.2 426.5,129.7 427.5,131.3 428.5,132.8 429.5,134.4 430.5,135.9 431.5,137.4 432.5,138.8 433.5,140.1 434.5,141.4 435.5,142.7 436.5,143.8 437.5,144.9 438.5,145.8 439.5,146.7 440.5,147.5 441.5,148.3 442.5,149.0 443.5,149.5 444.5,150.1 445.5,150.5 446.5,151.0 447.5,151.3 448.5,151.6 449.5,151.9 450.5,152.1 451.5,152.3 452.5,152.5 453.5,152.6 454.5,152.8 455.5,152.9 456.5,153.0 457.5,153.0 458.5,153.1 459.0,153.1" fill="none" stroke="#850a88" stroke-width="1.5"/>
<polyline points="295.5,153.1 296.5,152.1 297.5,151.2 298.5,150.4 299.5,150.5 300.5,151.3 301.5,151.6 302.5,150.8 303.5,150.7 304.5,151.1 305.5,148.5 306.5,149.3 307.5,148.5 308.5,147.6 309.5,146.3 310.5,145.6 311.5,143.6 312.5,142.6 313.5,140.8 314.5,139.8 315.5,137.2 316.5,134.3 317.5,130.9 318.5,128.4 319.5,125.5 320.5,123.6 321.5,121.0 322.5,117.1 323.5,114.2 324.5,109.9 325.5,106.0 326.5,101.7 327.5,97.4 328.5,93.2 329.5,88.3 330.5,83.7 331.5,79.0 332.5,74.1 333.5,69.3 334.5,65.0 335.5,60.1 336.5,56.1 337.5,51.7 338.5,48.5 339.5,44.4 340.5,40.6 341.5,37.9 342.5,35.1 343.5,32.4 344.5,29.3 345.5,29.2 346.5,28.0 347.5,27.2 348.5,26.9 349.5,26.9 350.5,26.8 351.5,28.1 352.5,28.5 353.5,30.2 354.5,31.1 355.5,33.7 356.5,36.4 357.5,39.4 358.5,42.9 359.5,45.6 360.5,49.8 361.5,53.2 362.5,57.5 363.5,62.5 364.5,66.5 365.5,70.8 366.5,76.2 367.5,80.8 368.5,82.8 369.5,90.0 370.5,93.7 371.5,98.3 372.5,102.2 373.5,106.6 374.5,110.0 375.5,114.4 376.5,117.4 377.5,120.8 378.5,123.3 379.5,126.0 380.5,128.3 381.5,131.0 382.5,133.1 383.5,133.8 384.5,135.2 385.5,135.4 386.5,135.5 387.5,135.0 388.5,134.4 389.5,136.1 390.5,138.9 391.5,138.5 392.5,137.5 393.5,137.2 394.5,136.8 395.5,136.2 396.5,134.7 397.5,133.5 398.5,132.5 399.5,130.9 400.5,129.6 401.5,127.6 402.5,126.7 403.5,126.1 404.5,125.0 405.5,124.0 406.5,122.9 407.5,120.9 408.5,120.3 409.5,119.3 410.5,119.0 411.5,117.8 412.5,117.0 413.5,116.1 414.5,117.6 415.5,117.9 416.5,119.4 417.5,120.0 418.5,122.6 419.5,122.4 420.5,122.3 421.5,123.3 422.5,123.9 423.5,125.1 424.5,126.4 425.5,127.0 426.5,127.2 427.5,129.0 428.5,128.9 429.5,131.2 430.5,131.7 431.5,133.5 432.5,135.3 433.5,137.0 434.5,138.3 435.5,140.6 436.5,141.4 437.5,142.4 438.5,142.3 439.5,142.5 440.5,142.7 441.5,143.8 442.5,144.6 443.5,146.2 444.5,147.4 445.5,147.5 446.5,148.6 447.5,149.0 448.5,148.9 449.5,148.6 450.5,148.8 451.5,149.7 452.5,151.1 453.5,152.3 454.5,153.3 455.5,154.2 456.5,154.2 457.5,153.5 458.5,153.2" fill="none" stroke="#8a8a8a" stroke-width="1.1"/>
<path d="M301.5,295.0 302.5,294.6 303.5,294.2 304.5,293.7 305.5,293.1 306.5,292.5 307.5,291.9 308.5,291.2 309.5,290.4 310.5,289.5 311.5,288.6 312.5,287.6 313.5,286.5 314.5,285.3 315.5,284.1 316.5,282.7 317.5,281.2 318.5,279.7 319.5,278.0 320.5,276.2 321.5,274.4 322.5,272.4 323.5,270.3 324.5,268.1 325.5,265.8 326.5,263.4 327.5,260.9 328.5,258.4 329.5,255.7 330.5,253.0 331.5,250.2 332.5,247.4 333.5,244.5 334.5,241.6 335.5,238.7 336.5,235.8 337.5,232.9 338.5,230.0 339.5,227.2 340.5,224.5 341.5,221.9 342.5,219.4 343.5,217.0 344.5,214.8 345.5,212.7 346.5,210.9 347.5,209.2 348.5,207.8 349.5,206.7 350.5,205.8 351.5,205.1 352.5,204.8 353.5,204.7 354.5,204.9 355.5,205.4 356.5,206.1 357.5,207.0 358.5,208.2 359.5,209.6 360.5,211.2 361.5,213.0 362.5,215.0 363.5,217.1 364.5,219.4 365.5,221.8 366.5,224.3 367.5,226.8 368.5,229.5 369.5,232.1 370.5,234.8 371.5,237.6 372.5,240.3 373.5,243.0 374.5,245.7 375.5,248.3 376.5,250.9 377.5,253.5 378.5,256.0 379.5,258.4 380.5,260.7 381.5,262.9 382.5,265.1 383.5,267.1 384.5,269.1 385.5,271.0 386.5,272.7 387.5,274.4 388.5,276.0 389.5,277.5 390.5,278.8 391.5,280.1 392.5,281.3 393.5,282.5 394.5,283.5 395.5,284.4 396.5,285.3 397.5,286.1 398.5,286.8 399.5,287.5 400.5,288.1 401.5,288.7 402.5,289.2 403.5,289.6 404.5,290.0 405.5,290.4 406.5,290.7 407.5,291.0 408.5,291.3 409.5,291.5 410.5,291.7 411.5,291.9 412.5,292.1 413.5,292.2 414.5,292.3 415.5,292.4 416.5,292.5 417.5,292.6 418.5,292.7 419.5,292.7 420.5,292.8 421.5,292.8 422.5,292.9 423.5,292.9 424.5,292.9 425.5,293.0 426.5,293.0 427.5,293.0 428.5,293.0 429.5,293.0 430.5,293.0 431.5,293.0 432.5,293.0 433.5,293.0 434.5,293.0 435.5,293.0 436.5,293.0 437.5,293.0 438.5,293.0 439.5,293.0 440.5,292.9 441.5,292.9 442.5,292.9 443.5,292.9 444.5,292.9 445.5,292.9 446.5,292.8 447.5,292.8 448.5,292.8 449.5,292.8 450.5,292.8 451.5,292.7 452.5,292.7 453.5,292.7 454.5,292.7 455.5,292.7 456.5,292.6 457.5,292.6 458.5,292.6 459.5,292.6 460.5,292.5 461.5,292.5 462.5,292.5 463.5,292.4 464.5,292.4 465.5,292.4 466.5,292.4 467.5,292.3 468.5,292.3 469.5,292.3 470.5,292.3 471.5,292.2 472.5,292.2 473.5,292.2 474.5,292.1 475.5,292.1 476.5,292.1 477.5,292.0 478.5,292.0 479.5,292.0 480.5,292.0 481.5,291.9 482.5,291.9 483.5,291.9 484.5,291.8 485.5,291.8 486.5,291.8 487.5,291.7 488.5,291.7 489.5,291.7 490.5,291.6 491.5,291.6 492.5,291.6 493.0,291.6 L493.0,292.0 492.5,292.1 491.5,292.1 490.5,292.1 489.5,292.2 488.5,292.2 487.5,292.3 486.5,292.3 485.5,292.3 484.5,292.4 483.5,292.4 482.5,292.5 481.5,292.5 480.5,292.5 479.5,292.6 478.5,292.6 477.5,292.7 476.5,292.7 475.5,292.7 474.5,292.8 473.5,292.8 472.5,292.9 471.5,292.9 470.5,292.9 469.5,293.0 468.5,293.0 467.5,293.1 466.5,293.1 465.5,293.2 464.5,293.2 463.5,293.2 462.5,293.3 461.5,293.3 460.5,293.4 459.5,293.4 458.5,293.4 457.5,293.5 456.5,293.5 455.5,293.6 454.5,293.6 453.5,293.6 452.5,293.7 451.5,293.7 450.5,293.8 449.5,293.8 448.5,293.8 447.5,293.9 446.5,293.9 445.5,294.0 444.5,294.0 443.5,294.0 442.5,294.1 441.5,294.1 440.5,294.2 439.5,294.2 438.5,294.2 437.5,294.3 436.5,294.3 435.5,294.4 434.5,294.4 433.5,294.4 432.5,294.5 431.5,294.5 430.5,294.6 429.5,294.6 428.5,294.6 427.5,294.7 426.5,294.7 425.5,294.8 424.5,294.8 423.5,294.8 422.5,294.9 421.5,294.9 420.5,295.0 419.5,295.0 418.5,295.1 417.5,295.1 416.5,295.1 415.5,295.2 414.5,295.2 413.5,295.3 412.5,295.3 411.5,295.3 410.5,295.4 409.5,295.4 408.5,295.5 407.5,295.5 406.5,295.5 405.5,295.6 404.5,295.6 403.5,295.7 402.5,295.7 401.5,295.7 400.5,295.8 399.5,295.8 398.5,295.9 397.5,295.9 396.5,295.9 395.5,296.0 394.5,296.0 393.5,296.1 392.5,296.1 391.5,296.1 390.5,296.2 389.5,296.2 388.5,296.3 387.5,296.3 386.5,296.3 385.5,296.4 384.5,296.4 383.5,296.5 382.5,296.5 381.5,296.5 380.5,296.6 379.5,296.6 378.5,296.7 377.5,296.7 376.5,296.7 375.5,296.8 374.5,296.8 373.5,296.9 372.5,296.9 371.5,297.0 370.5,297.0 369.5,297.0 368.5,297.1 367.5,297.1 366.5,297.2 365.5,297.2 364.5,297.2 363.5,297.3 362.5,297.3 361.5,297.4 360.5,297.4 359.5,297.4 358.5,297.5 357.5,297.5 356.5,297.6 355.5,297.6 354.5,297.6 353.5,297.7 352.5,297.7 351.5,297.8 350.5,297.8 349.5,297.8 348.5,297.9 347.5,297.9 346.5,298.0 345.5,298.0 344.5,298.0 343.5,298.1 342.5,298.1 341.5,298.2 340.5,298.2 339.5,298.2 338.5,298.3 337.5,298.3 336.5,298.4 335.5,298.4 334.5,298.4 333.5,298.5 332.5,298.5 331.5,298.6 330.5,298.6 329.5,298.6 328.5,298.7 327.5,298.7 326.5,298.8 325.5,298.8 324.5,298.9 323.5,298.9 322.5,298.9 321.5,299.0 320.5,299.0 319.5,299.1 318.5,299.1 317.5,299.1 316.5,299.2 315.5,299.2 314.5,299.3 313.5,299.3 312.5,299.3 311.5,299.4 310.5,299.4 309.5,299.5 308.5,299.5 307.5,299.5 306.5,299.6 305.5,299.6 304.5,299.7 303.5,299.7 302.5,299.7 301.5,299.8Z" fill="url(#g29)" fill-opacity="0.78"/>
<path d="M301.5,299.5 302.5,299.4 303.5,299.4 304.5,299.3 305.5,299.3 306.5,299.2 307.5,299.2 308.5,299.1 309.5,299.1 310.5,299.1 311.5,299.0 312.5,299.0 313.5,298.9 314.5,298.9 315.5,298.8 316.5,298.8 317.5,298.7 318.5,298.7 319.5,298.6 320.5,298.6 321.5,298.5 322.5,298.5 323.5,298.4 324.5,298.4 325.5,298.3 326.5,298.3 327.5,298.2 328.5,298.2 329.5,298.1 330.5,298.1 331.5,298.0 332.5,298.0 333.5,297.9 334.5,297.9 335.5,297.8 336.5,297.8 337.5,297.7 338.5,297.7 339.5,297.6 340.5,297.5 341.5,297.5 342.5,297.4 343.5,297.3 344.5,297.3 345.5,297.2 346.5,297.1 347.5,297.1 348.5,297.0 349.5,296.9 350.5,296.8 351.5,296.7 352.5,296.7 353.5,296.6 354.5,296.5 355.5,296.4 356.5,296.3 357.5,296.2 358.5,296.0 359.5,295.9 360.5,295.8 361.5,295.7 362.5,295.5 363.5,295.4 364.5,295.2 365.5,295.0 366.5,294.9 367.5,294.7 368.5,294.5 369.5,294.3 370.5,294.1 371.5,293.8 372.5,293.6 373.5,293.3 374.5,293.1 375.5,292.8 376.5,292.5 377.5,292.2 378.5,291.8 379.5,291.5 380.5,291.1 381.5,290.7 382.5,290.3 383.5,289.9 384.5,289.5 385.5,289.0 386.5,288.6 387.5,288.1 388.5,287.6 389.5,287.0 390.5,286.5 391.5,285.9 392.5,285.4 393.5,284.8 394.5,284.2 395.5,283.5 396.5,282.9 397.5,282.3 398.5,281.6 399.5,280.9 400.5,280.2 401.5,279.6 402.5,278.9 403.5,278.2 404.5,277.5 405.5,276.7 406.5,276.0 407.5,275.3 408.5,274.6 409.5,273.9 410.5,273.3 411.5,272.6 412.5,271.9 413.5,271.3 414.5,270.7 415.5,270.1 416.5,269.5 417.5,268.9 418.5,268.4 419.5,267.9 420.5,267.5 421.5,267.1 422.5,266.7 423.5,266.3 424.5,266.0 425.5,265.8 426.5,265.6 427.5,265.4 428.5,265.3 429.5,265.2 430.5,265.2 431.5,265.3 432.5,265.3 433.5,265.5 434.5,265.6 435.5,265.9 436.5,266.1 437.5,266.4 438.5,266.7 439.5,267.1 440.5,267.5 441.5,268.0 442.5,268.4 443.5,268.9 444.5,269.5 445.5,270.0 446.5,270.6 447.5,271.1 448.5,271.7 449.5,272.3 450.5,272.9 451.5,273.6 452.5,274.2 453.5,274.8 454.5,275.4 455.5,276.1 456.5,276.7 457.5,277.3 458.5,277.9 459.5,278.5 460.5,279.1 461.5,279.7 462.5,280.2 463.5,280.8 464.5,281.3 465.5,281.9 466.5,282.4 467.5,282.9 468.5,283.3 469.5,283.8 470.5,284.3 471.5,284.7 472.5,285.1 473.5,285.5 474.5,285.8 475.5,286.2 476.5,286.5 477.5,286.9 478.5,287.2 479.5,287.4 480.5,287.7 481.5,288.0 482.5,288.2 483.5,288.4 484.5,288.6 485.5,288.8 486.5,289.0 487.5,289.1 488.5,289.3 489.5,289.4 490.5,289.6 491.5,289.7 492.5,289.8 493.0,289.8 L493.0,292.0 492.5,292.1 491.5,292.1 490.5,292.1 489.5,292.2 488.5,292.2 487.5,292.3 486.5,292.3 485.5,292.3 484.5,292.4 483.5,292.4 482.5,292.5 481.5,292.5 480.5,292.5 479.5,292.6 478.5,292.6 477.5,292.7 476.5,292.7 475.5,292.7 474.5,292.8 473.5,292.8 472.5,292.9 471.5,292.9 470.5,292.9 469.5,293.0 468.5,293.0 467.5,293.1 466.5,293.1 465.5,293.2 464.5,293.2 463.5,293.2 462.5,293.3 461.5,293.3 460.5,293.4 459.5,293.4 458.5,293.4 457.5,293.5 456.5,293.5 455.5,293.6 454.5,293.6 453.5,293.6 452.5,293.7 451.5,293.7 450.5,293.8 449.5,293.8 448.5,293.8 447.5,293.9 446.5,293.9 445.5,294.0 444.5,294.0 443.5,294.0 442.5,294.1 441.5,294.1 440.5,294.2 439.5,294.2 438.5,294.2 437.5,294.3 436.5,294.3 435.5,294.4 434.5,294.4 433.5,294.4 432.5,294.5 431.5,294.5 430.5,294.6 429.5,294.6 428.5,294.6 427.5,294.7 426.5,294.7 425.5,294.8 424.5,294.8 423.5,294.8 422.5,294.9 421.5,294.9 420.5,295.0 419.5,295.0 418.5,295.1 417.5,295.1 416.5,295.1 415.5,295.2 414.5,295.2 413.5,295.3 412.5,295.3 411.5,295.3 410.5,295.4 409.5,295.4 408.5,295.5 407.5,295.5 406.5,295.5 405.5,295.6 404.5,295.6 403.5,295.7 402.5,295.7 401.5,295.7 400.5,295.8 399.5,295.8 398.5,295.9 397.5,295.9 396.5,295.9 395.5,296.0 394.5,296.0 393.5,296.1 392.5,296.1 391.5,296.1 390.5,296.2 389.5,296.2 388.5,296.3 387.5,296.3 386.5,296.3 385.5,296.4 384.5,296.4 383.5,296.5 382.5,296.5 381.5,296.5 380.5,296.6 379.5,296.6 378.5,296.7 377.5,296.7 376.5,296.7 375.5,296.8 374.5,296.8 373.5,296.9 372.5,296.9 371.5,297.0 370.5,297.0 369.5,297.0 368.5,297.1 367.5,297.1 366.5,297.2 365.5,297.2 364.5,297.2 363.5,297.3 362.5,297.3 361.5,297.4 360.5,297.4 359.5,297.4 358.5,297.5 357.5,297.5 356.5,297.6 355.5,297.6 354.5,297.6 353.5,297.7 352.5,297.7 351.5,297.8 350.5,297.8 349.5,297.8 348.5,297.9 347.5,297.9 346.5,298.0 345.5,298.0 344.5,298.0 343.5,298.1 342.5,298.1 341.5,298.2 340.5,298.2 339.5,298.2 338.5,298.3 337.5,298.3 336.5,298.4 335.5,298.4 334.5,298.4 333.5,298.5 332.5,298.5 331.5,298.6 330.5,298.6 329.5,298.6 328.5,298.7 327.5,298.7 326.5,298.8 325.5,298.8 324.5,298.9 323.5,298.9 322.5,298.9 321.5,299.0 320.5,299.0 319.5,299.1 318.5,299.1 317.5,299.1 316.5,299.2 315.5,299.2 314.5,299.3 313.5,299.3 312.5,299.3 311.5,299.4 310.5,299.4 309.5,299.5 308.5,299.5 307.5,299.5 306.5,299.6 305.5,299.6 304.5,299.7 303.5,299.7 302.5,299.7 301.5,299.8Z" fill="url(#g30)" fill-opacity="0.78"/>
<polyline points="301.5,295.0 302.5,294.6 303.5,294.2 304.5,293.7 305.5,293.1 306.5,292.5 307.5,291.9 308.5,291.2 309.5,290.4 310.5,289.5 311.5,288.6 312.5,287.6 313.5,286.5 314.5,285.3 315.5,284.1 316.5,282.7 317.5,281.2 318.5,279.7 319.5,278.0 320.5,276.2 321.5,274.4 322.5,272.4 323.5,270.3 324.5,268.1 325.5,265.8 326.5,263.4 327.5,260.9 328.5,258.4 329.5,255.7 330.5,253.0 331.5,250.2 332.5,247.4 333.5,244.5 334.5,241.6 335.5,238.7 336.5,235.8 337.5,232.9 338.5,230.0 339.5,227.2 340.5,224.5 341.5,221.9 342.5,219.4 343.5,217.0 344.5,214.8 345.5,212.7 346.5,210.9 347.5,209.2 348.5,207.8 349.5,206.7 350.5,205.8 351.5,205.1 352.5,204.8 353.5,204.7 354.5,204.9 355.5,205.4 356.5,206.1 357.5,207.0 358.5,208.2 359.5,209.6 360.5,211.2 361.5,213.0 362.5,215.0 363.5,217.1 364.5,219.4 365.5,221.8 366.5,224.3 367.5,226.8 368.5,229.5 369.5,232.1 370.5,234.8 371.5,237.6 372.5,240.3 373.5,243.0 374.5,245.7 375.5,248.3 376.5,250.9 377.5,253.5 378.5,256.0 379.5,258.4 380.5,260.7 381.5,262.9 382.5,265.1 383.5,267.1 384.5,269.1 385.5,271.0 386.5,272.7 387.5,274.4 388.5,276.0 389.5,277.5 390.5,278.8 391.5,280.1 392.5,281.3 393.5,282.5 394.5,283.5 395.5,284.4 396.5,285.3 397.5,286.1 398.5,286.8 399.5,287.5 400.5,288.1 401.5,288.7 402.5,289.2 403.5,289.6 404.5,290.0 405.5,290.4 406.5,290.7 407.5,291.0 408.5,291.3 409.5,291.5 410.5,291.7 411.5,291.9 412.5,292.1 413.5,292.2 414.5,292.3 415.5,292.4 416.5,292.5 417.5,292.6 418.5,292.7 419.5,292.7 420.5,292.8 421.5,292.8 422.5,292.9 423.5,292.9 424.5,292.9 425.5,293.0 426.5,293.0 427.5,293.0 428.5,293.0 429.5,293.0 430.5,293.0 431.5,293.0 432.5,293.0 433.5,293.0 434.5,293.0 435.5,293.0 436.5,293.0 437.5,293.0 438.5,293.0 439.5,293.0 440.5,292.9 441.5,292.9 442.5,292.9 443.5,292.9 444.5,292.9 445.5,292.9 446.5,292.8 447.5,292.8 448.5,292.8 449.5,292.8 450.5,292.8 451.5,292.7 452.5,292.7 453.5,292.7 454.5,292.7 455.5,292.7 456.5,292.6 457.5,292.6 458.5,292.6 459.5,292.6 460.5,292.5 461.5,292.5 462.5,292.5 463.5,292.4 464.5,292.4 465.5,292.4 466.5,292.4 467.5,292.3 468.5,292.3 469.5,292.3 470.5,292.3 471.5,292.2 472.5,292.2 473.5,292.2 474.5,292.1 475.5,292.1 476.5,292.1 477.5,292.0 478.5,292.0 479.5,292.0 480.5,292.0 481.5,291.9 482.5,291.9 483.5,291.9 484.5,291.8 485.5,291.8 486.5,291.8 487.5,291.7 488.5,291.7 489.5,291.7 490.5,291.6 491.5,291.6 492.5,291.6 493.0,291.6" fill="none" stroke="#8c8c8c" stroke-width="1.1"/>
<polyline points="301.5,299.5 302.5,299.4 303.5,299.4 304.5,299.3 305.5,299.3 306.5,299.2 307.5,299.2 308.5,299.1 309.5,299.1 310.5,299.1 311.5,299.0 312.5,299.0 313.5,298.9 314.5,298.9 315.5,298.8 316.5,298.8 317.5,298.7 318.5,298.7 319.5,298.6 320.5,298.6 321.5,298.5 322.5,298.5 323.5,298.4 324.5,298.4 325.5,298.3 326.5,298.3 327.5,298.2 328.5,298.2 329.5,298.1 330.5,298.1 331.5,298.0 332.5,298.0 333.5,297.9 334.5,297.9 335.5,297.8 336.5,297.8 337.5,297.7 338.5,297.7 339.5,297.6 340.5,297.5 341.5,297.5 342.5,297.4 343.5,297.3 344.5,297.3 345.5,297.2 346.5,297.1 347.5,297.1 348.5,297.0 349.5,296.9 350.5,296.8 351.5,296.7 352.5,296.7 353.5,296.6 354.5,296.5 355.5,296.4 356.5,296.3 357.5,296.2 358.5,296.0 359.5,295.9 360.5,295.8 361.5,295.7 362.5,295.5 363.5,295.4 364.5,295.2 365.5,295.0 366.5,294.9 367.5,294.7 368.5,294.5 369.5,294.3 370.5,294.1 371.5,293.8 372.5,293.6 373.5,293.3 374.5,293.1 375.5,292.8 376.5,292.5 377.5,292.2 378.5,291.8 379.5,291.5 380.5,291.1 381.5,290.7 382.5,290.3 383.5,289.9 384.5,289.5 385.5,289.0 386.5,288.6 387.5,288.1 388.5,287.6 389.5,287.0 390.5,286.5 391.5,285.9 392.5,285.4 393.5,284.8 394.5,284.2 395.5,283.5 396.5,282.9 397.5,282.3 398.5,281.6 399.5,280.9 400.5,280.2 401.5,279.6 402.5,278.9 403.5,278.2 404.5,277.5 405.5,276.7 406.5,276.0 407.5,275.3 408.5,274.6 409.5,273.9 410.5,273.3 411.5,272.6 412.5,271.9 413.5,271.3 414.5,270.7 415.5,270.1 416.5,269.5 417.5,268.9 418.5,268.4 419.5,267.9 420.5,267.5 421.5,267.1 422.5,266.7 423.5,266.3 424.5,266.0 425.5,265.8 426.5,265.6 427.5,265.4 428.5,265.3 429.5,265.2 430.5,265.2 431.5,265.3 432.5,265.3 433.5,265.5 434.5,265.6 435.5,265.9 436.5,266.1 437.5,266.4 438.5,266.7 439.5,267.1 440.5,267.5 441.5,268.0 442.5,268.4 443.5,268.9 444.5,269.5 445.5,270.0 446.5,270.6 447.5,271.1 448.5,271.7 449.5,272.3 450.5,272.9 451.5,273.6 452.5,274.2 453.5,274.8 454.5,275.4 455.5,276.1 456.5,276.7 457.5,277.3 458.5,277.9 459.5,278.5 460.5,279.1 461.5,279.7 462.5,280.2 463.5,280.8 464.5,281.3 465.5,281.9 466.5,282.4 467.5,282.9 468.5,283.3 469.5,283.8 470.5,284.3 471.5,284.7 472.5,285.1 473.5,285.5 474.5,285.8 475.5,286.2 476.5,286.5 477.5,286.9 478.5,287.2 479.5,287.4 480.5,287.7 481.5,288.0 482.5,288.2 483.5,288.4 484.5,288.6 485.5,288.8 486.5,289.0 487.5,289.1 488.5,289.3 489.5,289.4 490.5,289.6 491.5,289.7 492.5,289.8 493.0,289.8" fill="none" stroke="#8c8c8c" stroke-width="1.1"/>
<polyline points="301.7,292.5 302.4,296.7 303.1,303.9 303.8,303.9 304.5,309.6 305.2,310.2 305.9,309.4 306.6,308.8 307.3,308.9 308.0,307.2 308.7,306.7 309.4,306.6 310.1,307.4 310.8,306.5 311.5,303.4 312.2,302.7 312.9,302.3 313.6,298.3 314.3,287.8 315.0,278.6 315.7,280.2 316.4,278.7 317.1,282.8 317.8,284.7 318.5,282.8 319.2,285.5 319.9,290.6 320.6,289.0 321.3,282.3 322.0,277.6 322.7,274.9 323.4,271.8 324.1,268.5 324.8,264.6 325.5,264.9 326.2,265.9 326.9,267.2 327.6,267.6 328.3,262.4 329.0,264.7 329.7,260.6 330.4,257.2 331.1,255.8 331.8,249.4 332.5,243.9 333.2,234.4 333.9,229.2 334.6,223.4 335.3,215.4 336.0,210.5 336.7,209.6 337.4,206.6 338.1,204.3 338.8,202.5 339.5,201.3 340.2,199.9 340.9,200.4 341.6,196.8 342.3,196.7 343.0,196.5 343.7,194.6 344.4,199.1 345.1,197.2 345.8,199.9 346.5,204.6 347.2,200.8 347.9,197.4 348.6,196.2 349.3,189.1 350.0,186.4 350.7,186.3 351.4,184.8 352.1,184.0 352.8,185.5 353.5,188.5 354.2,190.1 354.9,192.4 355.6,193.5 356.3,196.8 357.0,199.2 357.7,206.5 358.4,207.2 359.1,214.3 359.8,217.0 360.5,214.6 361.2,216.5 361.9,218.2 362.6,221.3 363.3,220.3 364.0,222.3 364.7,222.9 365.4,226.1 366.1,232.3 366.8,233.5 367.5,239.1 368.2,242.7 368.9,244.5 369.6,242.8 370.3,246.7 371.0,246.6 371.7,247.8 372.4,247.4 373.1,245.6 373.8,247.4 374.5,249.7 375.2,250.3 375.9,254.8 376.6,261.7 377.3,265.5 378.0,264.0 378.7,267.9 379.4,264.2 380.1,265.4 380.8,269.7 381.5,268.7 382.2,270.2 382.9,270.6 383.6,271.1 384.3,273.5 385.0,274.2 385.7,272.2 386.4,274.8 387.1,274.9 387.8,277.3 388.5,270.5 389.2,267.8 389.9,263.0 390.6,261.6 391.3,262.6 392.0,259.5 392.7,262.6 393.4,267.6 394.1,271.9 394.8,268.9 395.5,269.2 396.2,270.8 396.9,269.2 397.6,266.7 398.3,264.8 399.0,263.8 399.7,260.6 400.4,265.8 401.1,269.6 401.8,273.9 402.5,272.5 403.2,272.1 403.9,272.5 404.6,271.0 405.3,268.8 406.0,268.7 406.7,267.8 407.4,264.3 408.1,263.0 408.8,260.5 409.5,258.0 410.2,258.8 410.9,257.8 411.6,256.8 412.3,255.5 413.0,258.1 413.7,261.9 414.4,262.2 415.1,262.4 415.8,260.9 416.5,262.2 417.2,262.8 417.9,260.6 418.6,258.8 419.3,255.0 420.0,254.2 420.7,254.6 421.4,258.4 422.1,258.7 422.8,259.6 423.5,260.4 424.2,262.3 424.9,259.7 425.6,257.4 426.3,254.1 427.0,254.7 427.7,251.6 428.4,254.3 429.1,251.2 429.8,250.6 430.5,251.0 431.2,250.7 431.9,252.7 432.6,256.0 433.3,259.5 434.0,257.5 434.7,259.3 435.4,259.5 436.1,255.2 436.8,253.5 437.5,255.9 438.2,257.1 438.9,258.3 439.6,262.8 440.3,262.1 441.0,261.6 441.7,262.0 442.4,260.9 443.1,256.7 443.8,259.3 444.5,262.3 445.2,258.6 445.9,258.9 446.6,259.0 447.3,260.4 448.0,262.1 448.7,264.9 449.4,267.3 450.1,269.0 450.8,268.4 451.5,267.1 452.2,270.6 452.9,271.3 453.6,274.2 454.3,276.1 455.0,274.9 455.7,274.9 456.4,268.8 457.1,271.7 457.8,274.8 458.5,275.0 459.2,274.4 459.9,267.2 460.6,269.7 461.3,269.2 462.0,267.0 462.7,267.5 463.4,264.6 464.1,267.9 464.8,268.8 465.5,265.8 466.2,263.8 466.9,262.1 467.6,260.0 468.3,260.9 469.0,258.4 469.7,258.5 470.4,257.4 471.1,257.7 471.8,259.1 472.5,259.7 473.2,261.3 473.9,262.2 474.6,263.0 475.3,260.7 476.0,262.7 476.7,263.9 477.4,263.1 478.1,262.6 478.8,263.7 479.5,265.0 480.2,263.3 480.9,264.4 481.6,263.1 482.3,262.1 483.0,264.0 483.7,262.5 484.4,262.8 485.1,263.4 485.8,261.6 486.5,263.0 487.2,268.6 487.9,275.9 488.6,279.1 489.3,282.9 490.0,286.4 490.7,288.7 491.4,290.1 492.1,290.8" fill="none" stroke="#a2a2a2" stroke-width="1.3"/>
<polyline points="301.5,299.8 302.5,299.7 303.5,299.7 304.5,299.7 305.5,299.6 306.5,299.6 307.5,299.5 308.5,299.5 309.5,299.5 310.5,299.4 311.5,299.4 312.5,299.3 313.5,299.3 314.5,299.3 315.5,299.2 316.5,299.2 317.5,299.1 318.5,299.1 319.5,299.1 320.5,299.0 321.5,299.0 322.5,298.9 323.5,298.9 324.5,298.9 325.5,298.8 326.5,298.8 327.5,298.7 328.5,298.7 329.5,298.6 330.5,298.6 331.5,298.6 332.5,298.5 333.5,298.5 334.5,298.4 335.5,298.4 336.5,298.4 337.5,298.3 338.5,298.3 339.5,298.2 340.5,298.2 341.5,298.2 342.5,298.1 343.5,298.1 344.5,298.0 345.5,298.0 346.5,298.0 347.5,297.9 348.5,297.9 349.5,297.8 350.5,297.8 351.5,297.8 352.5,297.7 353.5,297.7 354.5,297.6 355.5,297.6 356.5,297.6 357.5,297.5 358.5,297.5 359.5,297.4 360.5,297.4 361.5,297.4 362.5,297.3 363.5,297.3 364.5,297.2 365.5,297.2 366.5,297.2 367.5,297.1 368.5,297.1 369.5,297.0 370.5,297.0 371.5,297.0 372.5,296.9 373.5,296.9 374.5,296.8 375.5,296.8 376.5,296.7 377.5,296.7 378.5,296.7 379.5,296.6 380.5,296.6 381.5,296.5 382.5,296.5 383.5,296.5 384.5,296.4 385.5,296.4 386.5,296.3 387.5,296.3 388.5,296.3 389.5,296.2 390.5,296.2 391.5,296.1 392.5,296.1 393.5,296.1 394.5,296.0 395.5,296.0 396.5,295.9 397.5,295.9 398.5,295.9 399.5,295.8 400.5,295.8 401.5,295.7 402.5,295.7 403.5,295.7 404.5,295.6 405.5,295.6 406.5,295.5 407.5,295.5 408.5,295.5 409.5,295.4 410.5,295.4 411.5,295.3 412.5,295.3 413.5,295.3 414.5,295.2 415.5,295.2 416.5,295.1 417.5,295.1 418.5,295.1 419.5,295.0 420.5,295.0 421.5,294.9 422.5,294.9 423.5,294.8 424.5,294.8 425.5,294.8 426.5,294.7 427.5,294.7 428.5,294.6 429.5,294.6 430.5,294.6 431.5,294.5 432.5,294.5 433.5,294.4 434.5,294.4 435.5,294.4 436.5,294.3 437.5,294.3 438.5,294.2 439.5,294.2 440.5,294.2 441.5,294.1 442.5,294.1 443.5,294.0 444.5,294.0 445.5,294.0 446.5,293.9 447.5,293.9 448.5,293.8 449.5,293.8 450.5,293.8 451.5,293.7 452.5,293.7 453.5,293.6 454.5,293.6 455.5,293.6 456.5,293.5 457.5,293.5 458.5,293.4 459.5,293.4 460.5,293.4 461.5,293.3 462.5,293.3 463.5,293.2 464.5,293.2 465.5,293.2 466.5,293.1 467.5,293.1 468.5,293.0 469.5,293.0 470.5,292.9 471.5,292.9 472.5,292.9 473.5,292.8 474.5,292.8 475.5,292.7 476.5,292.7 477.5,292.7 478.5,292.6 479.5,292.6 480.5,292.5 481.5,292.5 482.5,292.5 483.5,292.4 484.5,292.4 485.5,292.3 486.5,292.3 487.5,292.3 488.5,292.2 489.5,292.2 490.5,292.1 491.5,292.1 492.5,292.1 493.0,292.0" fill="none" stroke="#8a8a8a" stroke-width="1.3"/>
<polyline points="301.5,294.7 302.5,294.3 303.5,293.9 304.5,293.4 305.5,292.8 306.5,292.2 307.5,291.5 308.5,290.8 309.5,290.0 310.5,289.2 311.5,288.2 312.5,287.2 313.5,286.1 314.5,285.0 315.5,283.7 316.5,282.3 317.5,280.8 318.5,279.3 319.5,277.6 320.5,275.8 321.5,273.9 322.5,271.9 323.5,269.9 324.5,267.6 325.5,265.3 326.5,262.9 327.5,260.5 328.5,257.9 329.5,255.2 330.5,252.5 331.5,249.7 332.5,246.8 333.5,243.9 334.5,241.0 335.5,238.1 336.5,235.2 337.5,232.3 338.5,229.4 339.5,226.6 340.5,223.8 341.5,221.2 342.5,218.6 343.5,216.2 344.5,214.0 345.5,211.9 346.5,210.0 347.5,208.4 348.5,206.9 349.5,205.7 350.5,204.8 351.5,204.1 352.5,203.7 353.5,203.6 354.5,203.7 355.5,204.1 356.5,204.8 357.5,205.7 358.5,206.8 359.5,208.1 360.5,209.6 361.5,211.3 362.5,213.2 363.5,215.2 364.5,217.4 365.5,219.6 366.5,222.0 367.5,224.4 368.5,226.9 369.5,229.4 370.5,231.9 371.5,234.4 372.5,237.0 373.5,239.5 374.5,241.9 375.5,244.3 376.5,246.6 377.5,248.9 378.5,251.1 379.5,253.2 380.5,255.2 381.5,257.1 382.5,258.9 383.5,260.6 384.5,262.2 385.5,263.6 386.5,265.0 387.5,266.2 388.5,267.3 389.5,268.3 390.5,269.2 391.5,269.9 392.5,270.6 393.5,271.2 394.5,271.6 395.5,272.0 396.5,272.3 397.5,272.5 398.5,272.6 399.5,272.6 400.5,272.6 401.5,272.5 402.5,272.3 403.5,272.1 404.5,271.9 405.5,271.6 406.5,271.2 407.5,270.9 408.5,270.5 409.5,270.0 410.5,269.6 411.5,269.2 412.5,268.7 413.5,268.2 414.5,267.8 415.5,267.3 416.5,266.9 417.5,266.5 418.5,266.1 419.5,265.7 420.5,265.3 421.5,265.0 422.5,264.7 423.5,264.4 424.5,264.2 425.5,264.0 426.5,263.8 427.5,263.7 428.5,263.7 429.5,263.6 430.5,263.7 431.5,263.7 432.5,263.9 433.5,264.0 434.5,264.2 435.5,264.5 436.5,264.8 437.5,265.1 438.5,265.5 439.5,265.9 440.5,266.3 441.5,266.8 442.5,267.3 443.5,267.8 444.5,268.3 445.5,268.9 446.5,269.5 447.5,270.1 448.5,270.7 449.5,271.3 450.5,271.9 451.5,272.6 452.5,273.2 453.5,273.9 454.5,274.5 455.5,275.2 456.5,275.8 457.5,276.4 458.5,277.0 459.5,277.7 460.5,278.3 461.5,278.9 462.5,279.4 463.5,280.0 464.5,280.6 465.5,281.1 466.5,281.6 467.5,282.1 468.5,282.6 469.5,283.1 470.5,283.6 471.5,284.0 472.5,284.4 473.5,284.8 474.5,285.2 475.5,285.6 476.5,285.9 477.5,286.2 478.5,286.5 479.5,286.8 480.5,287.1 481.5,287.4 482.5,287.6 483.5,287.8 484.5,288.0 485.5,288.2 486.5,288.4 487.5,288.6 488.5,288.8 489.5,288.9 490.5,289.0 491.5,289.2 492.5,289.3 493.0,289.3" fill="none" stroke="#850a88" stroke-width="1.7"/>
<path d="M549.5,126.7 550.5,126.6 551.5,126.6 552.5,126.6 553.5,126.6 554.5,126.6 555.5,126.6 556.5,126.6 557.5,126.6 558.5,126.5 559.5,126.5 560.5,126.5 561.5,126.4 562.5,126.4 563.5,126.3 564.5,126.2 565.5,126.1 566.5,125.9 567.5,125.8 568.5,125.5 569.5,125.3 570.5,124.9 571.5,124.5 572.5,124.1 573.5,123.5 574.5,122.8 575.5,122.1 576.5,121.2 577.5,120.2 578.5,119.0 579.5,117.8 580.5,116.4 581.5,114.8 582.5,113.2 583.5,111.4 584.5,109.6 585.5,107.6 586.5,105.5 587.5,103.4 588.5,101.3 589.5,99.2 590.5,97.2 591.5,95.3 592.5,93.5 593.5,91.9 594.5,90.6 595.5,89.5 596.5,88.7 597.5,88.3 598.5,88.2 599.5,88.4 600.5,89.0 601.5,89.9 602.5,91.2 603.5,92.7 604.5,94.4 605.5,96.3 606.5,98.4 607.5,100.6 608.5,102.8 609.5,105.0 610.5,107.3 611.5,109.5 612.5,111.6 613.5,113.6 614.5,115.5 615.5,117.3 616.5,119.0 617.5,120.5 618.5,121.8 619.5,123.0 620.5,124.1 621.5,125.0 622.5,125.8 623.5,126.5 624.5,127.1 625.5,127.7 626.5,128.1 627.5,128.5 628.5,128.8 629.5,129.1 630.5,129.3 631.5,129.5 632.5,129.6 633.5,129.8 634.5,129.9 635.5,130.0 636.5,130.1 637.5,130.2 638.5,130.3 639.5,130.4 640.5,130.5 641.5,130.5 642.5,130.6 643.5,130.6 644.5,130.7 645.5,130.7 646.5,130.8 647.5,130.8 L647.5,131.1 646.5,131.1 645.5,131.0 644.5,131.0 643.5,130.9 642.5,130.9 641.5,130.9 640.5,130.8 639.5,130.8 638.5,130.7 637.5,130.7 636.5,130.6 635.5,130.6 634.5,130.5 633.5,130.5 632.5,130.4 631.5,130.4 630.5,130.3 629.5,130.3 628.5,130.2 627.5,130.2 626.5,130.1 625.5,130.1 624.5,130.0 623.5,130.0 622.5,129.9 621.5,129.9 620.5,129.8 619.5,129.8 618.5,129.7 617.5,129.6 616.5,129.5 615.5,129.5 614.5,129.4 613.5,129.3 612.5,129.2 611.5,129.2 610.5,129.1 609.5,129.0 608.5,128.9 607.5,128.9 606.5,128.8 605.5,128.7 604.5,128.6 603.5,128.6 602.5,128.5 601.5,128.4 600.5,128.3 599.5,128.3 598.5,128.2 597.5,128.1 596.5,128.1 595.5,128.0 594.5,127.9 593.5,127.8 592.5,127.8 591.5,127.7 590.5,127.6 589.5,127.6 588.5,127.5 587.5,127.4 586.5,127.4 585.5,127.3 584.5,127.2 583.5,127.1 582.5,127.1 581.5,127.0 580.5,127.0 579.5,126.9 578.5,126.9 577.5,126.9 576.5,126.9 575.5,126.9 574.5,126.9 573.5,126.9 572.5,127.0 571.5,127.0 570.5,127.0 569.5,127.0 568.5,127.0 567.5,127.0 566.5,127.0 565.5,127.0 564.5,127.0 563.5,127.0 562.5,127.0 561.5,127.0 560.5,127.0 559.5,127.0 558.5,127.0 557.5,127.0 556.5,126.9 555.5,126.9 554.5,126.9 553.5,126.9 552.5,126.9 551.5,126.9 550.5,126.9 549.5,126.9Z" fill="url(#g31)" fill-opacity="0.78"/>
<path d="M555.5,126.7 556.5,126.7 557.5,126.7 558.5,126.7 559.5,126.7 560.5,126.7 561.5,126.7 562.5,126.7 563.5,126.6 564.5,126.6 565.5,126.6 566.5,126.6 567.5,126.6 568.5,126.5 569.5,126.5 570.5,126.5 571.5,126.4 572.5,126.4 573.5,126.3 574.5,126.2 575.5,126.1 576.5,126.0 577.5,125.9 578.5,125.7 579.5,125.5 580.5,125.3 581.5,125.1 582.5,124.8 583.5,124.5 584.5,124.1 585.5,123.6 586.5,123.0 587.5,122.4 588.5,121.6 589.5,120.7 590.5,119.7 591.5,118.5 592.5,117.2 593.5,115.8 594.5,114.3 595.5,112.6 596.5,110.7 597.5,108.8 598.5,106.8 599.5,104.7 600.5,102.5 601.5,100.3 602.5,98.1 603.5,95.9 604.5,93.8 605.5,91.8 606.5,90.0 607.5,88.3 608.5,86.8 609.5,85.6 610.5,84.7 611.5,84.1 612.5,83.8 613.5,83.8 614.5,84.2 615.5,84.9 616.5,85.9 617.5,87.2 618.5,88.8 619.5,90.6 620.5,92.5 621.5,94.7 622.5,96.9 623.5,99.2 624.5,101.5 625.5,103.8 626.5,106.1 627.5,108.4 628.5,110.5 629.5,112.6 630.5,114.6 631.5,116.4 632.5,118.1 633.5,119.7 634.5,121.1 635.5,122.4 636.5,123.6 637.5,124.6 638.5,125.5 639.5,126.3 640.5,127.0 641.5,127.6 642.5,128.2 643.5,128.6 644.5,129.0 645.5,129.3 646.5,129.6 647.5,129.8 648.5,130.0 649.5,130.2 650.5,130.4 651.5,130.5 652.5,130.6 653.5,130.7 654.5,130.8 655.5,130.9 656.5,131.0 657.5,131.2 658.5,131.3 659.5,131.4 660.5,131.5 661.5,131.6 662.5,131.7 663.5,131.8 664.5,131.9 665.5,132.0 666.5,132.2 667.5,132.4 668.5,132.6 669.5,132.8 670.5,133.0 L670.5,133.3 669.5,133.1 668.5,132.9 667.5,132.7 666.5,132.5 665.5,132.3 664.5,132.2 663.5,132.1 662.5,132.0 661.5,131.9 660.5,131.8 659.5,131.8 658.5,131.7 657.5,131.6 656.5,131.5 655.5,131.5 654.5,131.4 653.5,131.3 652.5,131.3 651.5,131.3 650.5,131.2 649.5,131.2 648.5,131.1 647.5,131.1 646.5,131.1 645.5,131.0 644.5,131.0 643.5,130.9 642.5,130.9 641.5,130.9 640.5,130.8 639.5,130.8 638.5,130.7 637.5,130.7 636.5,130.6 635.5,130.6 634.5,130.5 633.5,130.5 632.5,130.4 631.5,130.4 630.5,130.3 629.5,130.3 628.5,130.2 627.5,130.2 626.5,130.1 625.5,130.1 624.5,130.0 623.5,130.0 622.5,129.9 621.5,129.9 620.5,129.8 619.5,129.8 618.5,129.7 617.5,129.6 616.5,129.5 615.5,129.5 614.5,129.4 613.5,129.3 612.5,129.2 611.5,129.2 610.5,129.1 609.5,129.0 608.5,128.9 607.5,128.9 606.5,128.8 605.5,128.7 604.5,128.6 603.5,128.6 602.5,128.5 601.5,128.4 600.5,128.3 599.5,128.3 598.5,128.2 597.5,128.1 596.5,128.1 595.5,128.0 594.5,127.9 593.5,127.8 592.5,127.8 591.5,127.7 590.5,127.6 589.5,127.6 588.5,127.5 587.5,127.4 586.5,127.4 585.5,127.3 584.5,127.2 583.5,127.1 582.5,127.1 581.5,127.0 580.5,127.0 579.5,126.9 578.5,126.9 577.5,126.9 576.5,126.9 575.5,126.9 574.5,126.9 573.5,126.9 572.5,127.0 571.5,127.0 570.5,127.0 569.5,127.0 568.5,127.0 567.5,127.0 566.5,127.0 565.5,127.0 564.5,127.0 563.5,127.0 562.5,127.0 561.5,127.0 560.5,127.0 559.5,127.0 558.5,127.0 557.5,127.0 556.5,126.9 555.5,126.9Z" fill="url(#g32)" fill-opacity="0.78"/>
<path d="M607.5,128.6 608.5,128.7 609.5,128.7 610.5,128.8 611.5,128.9 612.5,128.9 613.5,129.0 614.5,129.1 615.5,129.1 616.5,129.2 617.5,129.3 618.5,129.3 619.5,129.4 620.5,129.4 621.5,129.5 622.5,129.5 623.5,129.5 624.5,129.6 625.5,129.6 626.5,129.6 627.5,129.6 628.5,129.7 629.5,129.7 630.5,129.7 631.5,129.7 632.5,129.7 633.5,129.6 634.5,129.6 635.5,129.5 636.5,129.5 637.5,129.3 638.5,129.2 639.5,129.0 640.5,128.8 641.5,128.5 642.5,128.2 643.5,127.7 644.5,127.3 645.5,126.7 646.5,126.0 647.5,125.2 648.5,124.3 649.5,123.2 650.5,122.0 651.5,120.7 652.5,119.2 653.5,117.5 654.5,115.8 655.5,113.8 656.5,111.7 657.5,109.5 658.5,107.2 659.5,104.7 660.5,102.2 661.5,99.5 662.5,96.9 663.5,94.3 664.5,91.7 665.5,89.2 666.5,86.9 667.5,84.7 668.5,82.8 669.5,81.0 670.5,79.6 671.5,78.5 672.5,77.7 673.5,77.3 674.5,77.3 675.5,77.6 676.5,78.3 677.5,79.4 678.5,80.7 679.5,82.4 680.5,84.4 681.5,86.7 682.5,89.1 683.5,91.7 684.5,94.4 685.5,97.2 686.5,100.1 687.5,102.9 688.5,105.7 689.5,108.5 690.5,111.1 691.5,113.7 692.5,116.1 693.5,118.4 694.5,120.5 695.5,122.5 696.5,124.3 697.5,125.9 698.5,127.4 699.5,128.8 700.5,130.0 701.5,131.1 702.5,132.0 703.5,132.9 704.5,133.6 705.5,134.2 706.5,134.8 707.5,135.3 708.5,135.7 709.5,136.1 710.5,136.4 711.5,136.7 712.5,137.0 713.5,137.2 714.5,137.4 715.5,137.5 716.5,137.6 717.5,137.7 718.5,137.8 719.5,137.8 720.5,137.9 721.5,137.9 722.5,138.0 723.5,138.0 724.5,138.1 725.5,138.1 726.5,138.1 727.5,138.1 728.5,138.2 729.5,138.2 730.5,138.2 731.5,138.3 732.5,138.3 733.5,138.3 734.5,138.3 735.5,138.3 736.5,138.4 737.5,138.4 738.5,138.4 739.5,138.4 740.5,138.4 741.5,138.5 L741.5,138.7 740.5,138.7 739.5,138.7 738.5,138.7 737.5,138.7 736.5,138.7 735.5,138.6 734.5,138.6 733.5,138.6 732.5,138.6 731.5,138.6 730.5,138.6 729.5,138.6 728.5,138.6 727.5,138.6 726.5,138.5 725.5,138.5 724.5,138.5 723.5,138.5 722.5,138.5 721.5,138.5 720.5,138.5 719.5,138.5 718.5,138.4 717.5,138.4 716.5,138.4 715.5,138.4 714.5,138.3 713.5,138.3 712.5,138.2 711.5,138.1 710.5,138.0 709.5,137.9 708.5,137.8 707.5,137.7 706.5,137.6 705.5,137.5 704.5,137.4 703.5,137.3 702.5,137.2 701.5,137.1 700.5,137.0 699.5,136.9 698.5,136.8 697.5,136.7 696.5,136.6 695.5,136.5 694.5,136.4 693.5,136.3 692.5,136.2 691.5,136.1 690.5,135.9 689.5,135.8 688.5,135.7 687.5,135.6 686.5,135.5 685.5,135.4 684.5,135.3 683.5,135.2 682.5,135.0 681.5,134.9 680.5,134.8 679.5,134.7 678.5,134.6 677.5,134.5 676.5,134.4 675.5,134.2 674.5,134.1 673.5,133.9 672.5,133.7 671.5,133.5 670.5,133.3 669.5,133.1 668.5,132.9 667.5,132.7 666.5,132.5 665.5,132.3 664.5,132.2 663.5,132.1 662.5,132.0 661.5,131.9 660.5,131.8 659.5,131.8 658.5,131.7 657.5,131.6 656.5,131.5 655.5,131.5 654.5,131.4 653.5,131.3 652.5,131.3 651.5,131.3 650.5,131.2 649.5,131.2 648.5,131.1 647.5,131.1 646.5,131.1 645.5,131.0 644.5,131.0 643.5,130.9 642.5,130.9 641.5,130.9 640.5,130.8 639.5,130.8 638.5,130.7 637.5,130.7 636.5,130.6 635.5,130.6 634.5,130.5 633.5,130.5 632.5,130.4 631.5,130.4 630.5,130.3 629.5,130.3 628.5,130.2 627.5,130.2 626.5,130.1 625.5,130.1 624.5,130.0 623.5,130.0 622.5,129.9 621.5,129.9 620.5,129.8 619.5,129.8 618.5,129.7 617.5,129.6 616.5,129.5 615.5,129.5 614.5,129.4 613.5,129.3 612.5,129.2 611.5,129.2 610.5,129.1 609.5,129.0 608.5,128.9 607.5,128.9Z" fill="url(#g33)" fill-opacity="0.78"/>
<path d="M648.5,130.9 649.5,130.9 650.5,130.9 651.5,130.9 652.5,131.0 653.5,131.0 654.5,131.0 655.5,131.0 656.5,131.0 657.5,131.0 658.5,131.0 659.5,130.9 660.5,130.8 661.5,130.6 662.5,130.4 663.5,130.0 664.5,129.6 665.5,129.0 666.5,128.2 667.5,127.3 668.5,126.0 669.5,124.5 670.5,122.6 671.5,120.4 672.5,117.7 673.5,114.6 674.5,111.1 675.5,107.2 676.5,102.8 677.5,98.1 678.5,93.1 679.5,88.0 680.5,82.9 681.5,77.8 682.5,73.0 683.5,68.5 684.5,64.6 685.5,61.4 686.5,58.9 687.5,57.4 688.5,56.8 689.5,57.3 690.5,58.9 691.5,61.5 692.5,65.1 693.5,69.5 694.5,74.5 695.5,80.0 696.5,85.7 697.5,91.5 698.5,97.1 699.5,102.6 700.5,107.8 701.5,112.5 702.5,116.7 703.5,120.5 704.5,123.8 705.5,126.6 706.5,128.9 707.5,130.9 708.5,132.5 709.5,133.8 710.5,134.8 711.5,135.6 712.5,136.3 713.5,136.8 714.5,137.2 715.5,137.5 716.5,137.7 717.5,137.8 718.5,137.9 719.5,138.0 720.5,138.1 721.5,138.1 722.5,138.2 723.5,138.2 724.5,138.2 725.5,138.3 726.5,138.3 L726.5,138.5 725.5,138.5 724.5,138.5 723.5,138.5 722.5,138.5 721.5,138.5 720.5,138.5 719.5,138.5 718.5,138.4 717.5,138.4 716.5,138.4 715.5,138.4 714.5,138.3 713.5,138.3 712.5,138.2 711.5,138.1 710.5,138.0 709.5,137.9 708.5,137.8 707.5,137.7 706.5,137.6 705.5,137.5 704.5,137.4 703.5,137.3 702.5,137.2 701.5,137.1 700.5,137.0 699.5,136.9 698.5,136.8 697.5,136.7 696.5,136.6 695.5,136.5 694.5,136.4 693.5,136.3 692.5,136.2 691.5,136.1 690.5,135.9 689.5,135.8 688.5,135.7 687.5,135.6 686.5,135.5 685.5,135.4 684.5,135.3 683.5,135.2 682.5,135.0 681.5,134.9 680.5,134.8 679.5,134.7 678.5,134.6 677.5,134.5 676.5,134.4 675.5,134.2 674.5,134.1 673.5,133.9 672.5,133.7 671.5,133.5 670.5,133.3 669.5,133.1 668.5,132.9 667.5,132.7 666.5,132.5 665.5,132.3 664.5,132.2 663.5,132.1 662.5,132.0 661.5,131.9 660.5,131.8 659.5,131.8 658.5,131.7 657.5,131.6 656.5,131.5 655.5,131.5 654.5,131.4 653.5,131.3 652.5,131.3 651.5,131.3 650.5,131.2 649.5,131.2 648.5,131.1Z" fill="url(#g34)" fill-opacity="0.78"/>
<polyline points="549.5,126.7 550.5,126.6 551.5,126.6 552.5,126.6 553.5,126.6 554.5,126.6 555.5,126.6 556.5,126.6 557.5,126.6 558.5,126.5 559.5,126.5 560.5,126.5 561.5,126.4 562.5,126.4 563.5,126.3 564.5,126.2 565.5,126.1 566.5,125.9 567.5,125.8 568.5,125.5 569.5,125.3 570.5,124.9 571.5,124.5 572.5,124.1 573.5,123.5 574.5,122.8 575.5,122.1 576.5,121.2 577.5,120.2 578.5,119.0 579.5,117.8 580.5,116.4 581.5,114.8 582.5,113.2 583.5,111.4 584.5,109.6 585.5,107.6 586.5,105.5 587.5,103.4 588.5,101.3 589.5,99.2 590.5,97.2 591.5,95.3 592.5,93.5 593.5,91.9 594.5,90.6 595.5,89.5 596.5,88.7 597.5,88.3 598.5,88.2 599.5,88.4 600.5,89.0 601.5,89.9 602.5,91.2 603.5,92.7 604.5,94.4 605.5,96.3 606.5,98.4 607.5,100.6 608.5,102.8 609.5,105.0 610.5,107.3 611.5,109.5 612.5,111.6 613.5,113.6 614.5,115.5 615.5,117.3 616.5,119.0 617.5,120.5 618.5,121.8 619.5,123.0 620.5,124.1 621.5,125.0 622.5,125.8 623.5,126.5 624.5,127.1 625.5,127.7 626.5,128.1 627.5,128.5 628.5,128.8 629.5,129.1 630.5,129.3 631.5,129.5 632.5,129.6 633.5,129.8 634.5,129.9 635.5,130.0 636.5,130.1 637.5,130.2 638.5,130.3 639.5,130.4 640.5,130.5 641.5,130.5 642.5,130.6 643.5,130.6 644.5,130.7 645.5,130.7 646.5,130.8 647.5,130.8" fill="none" stroke="#8c8c8c" stroke-width="1.1"/>
<polyline points="555.5,126.7 556.5,126.7 557.5,126.7 558.5,126.7 559.5,126.7 560.5,126.7 561.5,126.7 562.5,126.7 563.5,126.6 564.5,126.6 565.5,126.6 566.5,126.6 567.5,126.6 568.5,126.5 569.5,126.5 570.5,126.5 571.5,126.4 572.5,126.4 573.5,126.3 574.5,126.2 575.5,126.1 576.5,126.0 577.5,125.9 578.5,125.7 579.5,125.5 580.5,125.3 581.5,125.1 582.5,124.8 583.5,124.5 584.5,124.1 585.5,123.6 586.5,123.0 587.5,122.4 588.5,121.6 589.5,120.7 590.5,119.7 591.5,118.5 592.5,117.2 593.5,115.8 594.5,114.3 595.5,112.6 596.5,110.7 597.5,108.8 598.5,106.8 599.5,104.7 600.5,102.5 601.5,100.3 602.5,98.1 603.5,95.9 604.5,93.8 605.5,91.8 606.5,90.0 607.5,88.3 608.5,86.8 609.5,85.6 610.5,84.7 611.5,84.1 612.5,83.8 613.5,83.8 614.5,84.2 615.5,84.9 616.5,85.9 617.5,87.2 618.5,88.8 619.5,90.6 620.5,92.5 621.5,94.7 622.5,96.9 623.5,99.2 624.5,101.5 625.5,103.8 626.5,106.1 627.5,108.4 628.5,110.5 629.5,112.6 630.5,114.6 631.5,116.4 632.5,118.1 633.5,119.7 634.5,121.1 635.5,122.4 636.5,123.6 637.5,124.6 638.5,125.5 639.5,126.3 640.5,127.0 641.5,127.6 642.5,128.2 643.5,128.6 644.5,129.0 645.5,129.3 646.5,129.6 647.5,129.8 648.5,130.0 649.5,130.2 650.5,130.4 651.5,130.5 652.5,130.6 653.5,130.7 654.5,130.8 655.5,130.9 656.5,131.0 657.5,131.2 658.5,131.3 659.5,131.4 660.5,131.5 661.5,131.6 662.5,131.7 663.5,131.8 664.5,131.9 665.5,132.0 666.5,132.2 667.5,132.4 668.5,132.6 669.5,132.8 670.5,133.0" fill="none" stroke="#8c8c8c" stroke-width="1.1"/>
<polyline points="607.5,128.6 608.5,128.7 609.5,128.7 610.5,128.8 611.5,128.9 612.5,128.9 613.5,129.0 614.5,129.1 615.5,129.1 616.5,129.2 617.5,129.3 618.5,129.3 619.5,129.4 620.5,129.4 621.5,129.5 622.5,129.5 623.5,129.5 624.5,129.6 625.5,129.6 626.5,129.6 627.5,129.6 628.5,129.7 629.5,129.7 630.5,129.7 631.5,129.7 632.5,129.7 633.5,129.6 634.5,129.6 635.5,129.5 636.5,129.5 637.5,129.3 638.5,129.2 639.5,129.0 640.5,128.8 641.5,128.5 642.5,128.2 643.5,127.7 644.5,127.3 645.5,126.7 646.5,126.0 647.5,125.2 648.5,124.3 649.5,123.2 650.5,122.0 651.5,120.7 652.5,119.2 653.5,117.5 654.5,115.8 655.5,113.8 656.5,111.7 657.5,109.5 658.5,107.2 659.5,104.7 660.5,102.2 661.5,99.5 662.5,96.9 663.5,94.3 664.5,91.7 665.5,89.2 666.5,86.9 667.5,84.7 668.5,82.8 669.5,81.0 670.5,79.6 671.5,78.5 672.5,77.7 673.5,77.3 674.5,77.3 675.5,77.6 676.5,78.3 677.5,79.4 678.5,80.7 679.5,82.4 680.5,84.4 681.5,86.7 682.5,89.1 683.5,91.7 684.5,94.4 685.5,97.2 686.5,100.1 687.5,102.9 688.5,105.7 689.5,108.5 690.5,111.1 691.5,113.7 692.5,116.1 693.5,118.4 694.5,120.5 695.5,122.5 696.5,124.3 697.5,125.9 698.5,127.4 699.5,128.8 700.5,130.0 701.5,131.1 702.5,132.0 703.5,132.9 704.5,133.6 705.5,134.2 706.5,134.8 707.5,135.3 708.5,135.7 709.5,136.1 710.5,136.4 711.5,136.7 712.5,137.0 713.5,137.2 714.5,137.4 715.5,137.5 716.5,137.6 717.5,137.7 718.5,137.8 719.5,137.8 720.5,137.9 721.5,137.9 722.5,138.0 723.5,138.0 724.5,138.1 725.5,138.1 726.5,138.1 727.5,138.1 728.5,138.2 729.5,138.2 730.5,138.2 731.5,138.3 732.5,138.3 733.5,138.3 734.5,138.3 735.5,138.3 736.5,138.4 737.5,138.4 738.5,138.4 739.5,138.4 740.5,138.4 741.5,138.5" fill="none" stroke="#8c8c8c" stroke-width="1.1"/>
<polyline points="648.5,130.9 649.5,130.9 650.5,130.9 651.5,130.9 652.5,131.0 653.5,131.0 654.5,131.0 655.5,131.0 656.5,131.0 657.5,131.0 658.5,131.0 659.5,130.9 660.5,130.8 661.5,130.6 662.5,130.4 663.5,130.0 664.5,129.6 665.5,129.0 666.5,128.2 667.5,127.3 668.5,126.0 669.5,124.5 670.5,122.6 671.5,120.4 672.5,117.7 673.5,114.6 674.5,111.1 675.5,107.2 676.5,102.8 677.5,98.1 678.5,93.1 679.5,88.0 680.5,82.9 681.5,77.8 682.5,73.0 683.5,68.5 684.5,64.6 685.5,61.4 686.5,58.9 687.5,57.4 688.5,56.8 689.5,57.3 690.5,58.9 691.5,61.5 692.5,65.1 693.5,69.5 694.5,74.5 695.5,80.0 696.5,85.7 697.5,91.5 698.5,97.1 699.5,102.6 700.5,107.8 701.5,112.5 702.5,116.7 703.5,120.5 704.5,123.8 705.5,126.6 706.5,128.9 707.5,130.9 708.5,132.5 709.5,133.8 710.5,134.8 711.5,135.6 712.5,136.3 713.5,136.8 714.5,137.2 715.5,137.5 716.5,137.7 717.5,137.8 718.5,137.9 719.5,138.0 720.5,138.1 721.5,138.1 722.5,138.2 723.5,138.2 724.5,138.2 725.5,138.3 726.5,138.3" fill="none" stroke="#8c8c8c" stroke-width="1.1"/>
<polyline points="530.5,126.9 531.0,134.6 531.5,129.9 532.0,127.3 532.5,132.6 533.0,128.9 533.5,129.1 534.0,128.4 534.5,128.0 535.0,130.4 535.5,131.0 536.0,126.7 536.5,134.1 537.0,128.3 537.5,126.4 538.0,126.2 538.5,126.4 539.0,125.4 539.5,131.6 540.0,127.8 540.5,127.4 541.0,129.8 541.5,127.7 542.0,126.6 542.5,122.5 543.0,128.0 543.5,127.2 544.0,130.8 544.5,125.1 545.0,130.0 545.5,126.5 546.0,125.5 546.5,130.4 547.0,129.7 547.5,124.3 548.0,128.3 548.5,128.4 549.0,125.4 549.5,130.4 550.0,126.7 550.5,128.0 551.0,127.3 551.5,125.0 552.0,128.6 552.5,125.3 553.0,124.2 553.5,127.0 554.0,128.2 554.5,127.6 555.0,127.0 555.5,128.5 556.0,126.7 556.5,131.1 557.0,126.7 557.5,127.9 558.0,123.3 558.5,129.8 559.0,127.4 559.5,125.1 560.0,127.0 560.5,129.3 561.0,125.6 561.5,127.7 562.0,124.5 562.5,127.2 563.0,125.8 563.5,127.9 564.0,129.4 564.5,124.6 565.0,126.7 565.5,125.8 566.0,128.1 566.5,124.7 567.0,125.6 567.5,126.6 568.0,125.4 568.5,127.8 569.0,126.8 569.5,125.1 570.0,125.0 570.5,123.7 571.0,124.9 571.5,122.2 572.0,123.5 572.5,122.4 573.0,132.3 573.5,119.9 574.0,121.0 574.5,126.2 575.0,117.7 575.5,119.8 576.0,123.7 576.5,117.4 577.0,122.1 577.5,117.6 578.0,116.7 578.5,117.1 579.0,115.0 579.5,114.2 580.0,115.9 580.5,112.7 581.0,107.7 581.5,113.1 582.0,110.0 582.5,107.7 583.0,110.1 583.5,103.0 584.0,106.0 584.5,106.6 585.0,102.4 585.5,101.7 586.0,98.5 586.5,99.7 587.0,98.0 587.5,94.9 588.0,93.8 588.5,94.4 589.0,90.6 589.5,91.8 590.0,92.4 590.5,94.1 591.0,85.8 591.5,84.0 592.0,81.4 592.5,81.7 593.0,80.3 593.5,76.9 594.0,75.7 594.5,73.0 595.0,73.5 595.5,70.3 596.0,70.6 596.5,68.7 597.0,66.2 597.5,67.5 598.0,60.9 598.5,68.5 599.0,62.7 599.5,60.3 600.0,64.4 600.5,61.3 601.0,60.3 601.5,59.9 602.0,55.9 602.5,58.6 603.0,57.0 603.5,53.0 604.0,56.1 604.5,59.1 605.0,55.9 605.5,60.4 606.0,49.9 606.5,56.8 607.0,58.3 607.5,53.4 608.0,58.9 608.5,59.9 609.0,57.9 609.5,58.5 610.0,59.7 610.5,61.6 611.0,66.2 611.5,59.2 612.0,63.7 612.5,64.2 613.0,63.4 613.5,64.2 614.0,66.5 614.5,66.1 615.0,68.3 615.5,68.7 616.0,69.7 616.5,73.2 617.0,61.9 617.5,74.5 618.0,79.1 618.5,80.1 619.0,77.5 619.5,83.9 620.0,80.7 620.5,84.3 621.0,84.8 621.5,84.4 622.0,88.4 622.5,87.8 623.0,97.1 623.5,92.1 624.0,91.1 624.5,93.7 625.0,95.9 625.5,96.5 626.0,98.6 626.5,98.4 627.0,102.4 627.5,103.0 628.0,102.6 628.5,103.4 629.0,103.9 629.5,106.4 630.0,108.9 630.5,107.6 631.0,111.4 631.5,111.1 632.0,111.8 632.5,113.0 633.0,111.5 633.5,114.3 634.0,114.7 634.5,113.9 635.0,119.2 635.5,119.5 636.0,118.4 636.5,121.9 637.0,120.5 637.5,119.3 638.0,117.7 638.5,118.0 639.0,106.1 639.5,120.7 640.0,118.7 640.5,121.5 641.0,118.9 641.5,123.8 642.0,117.0 642.5,121.1 643.0,120.2 643.5,121.6 644.0,121.6 644.5,117.0 645.0,120.6 645.5,123.3 646.0,118.1 646.5,114.7 647.0,119.4 647.5,119.2 648.0,119.6 648.5,115.5 649.0,119.3 649.5,116.3 650.0,116.1 650.5,120.6 651.0,117.7 651.5,116.7 652.0,115.5 652.5,115.7 653.0,111.2 653.5,110.3 654.0,112.3 654.5,109.5 655.0,110.0 655.5,107.8 656.0,109.9 656.5,104.0 657.0,104.7 657.5,108.9 658.0,98.5 658.5,101.9 659.0,99.7 659.5,97.6 660.0,99.9 660.5,95.0 661.0,96.2 661.5,92.5 662.0,92.8 662.5,90.8 663.0,85.0 663.5,89.4 664.0,83.5 664.5,85.0 665.0,84.5 665.5,81.8 666.0,78.0 666.5,81.9 667.0,76.8 667.5,78.6 668.0,73.9 668.5,73.4 669.0,69.9 669.5,67.5 670.0,68.3 670.5,65.4 671.0,66.1 671.5,63.3 672.0,59.5 672.5,54.6 673.0,61.0 673.5,56.1 674.0,52.5 674.5,52.1 675.0,49.0 675.5,48.9 676.0,45.4 676.5,44.5 677.0,43.2 677.5,42.3 678.0,37.2 678.5,31.1 679.0,34.4 679.5,34.0 680.0,34.6 680.5,28.0 681.0,27.0 681.5,28.6 682.0,27.0 682.5,24.4 683.0,23.8 683.5,24.4 684.0,23.1 684.5,21.3 685.0,17.4 685.5,21.2 686.0,22.6 686.5,21.0 687.0,25.0 687.5,20.4 688.0,24.5 688.5,20.1 689.0,24.6 689.5,31.2 690.0,30.2 690.5,34.1 691.0,32.6 691.5,35.9 692.0,38.6 692.5,40.8 693.0,44.3 693.5,51.1 694.0,53.3 694.5,53.6 695.0,59.3 695.5,64.6 696.0,70.3 696.5,77.5 697.0,75.7 697.5,77.7 698.0,83.2 698.5,89.2 699.0,90.9 699.5,95.7 700.0,94.4 700.5,105.3 701.0,100.7 701.5,107.6 702.0,107.3 702.5,104.3 703.0,109.6 703.5,118.6 704.0,119.3 704.5,122.2 705.0,120.2 705.5,124.9 706.0,124.4 706.5,130.6 707.0,129.9 707.5,132.1 708.0,132.4 708.5,130.4 709.0,130.1 709.5,137.2 710.0,132.6 710.5,134.6 711.0,133.6 711.5,137.6 712.0,135.5 712.5,135.5 713.0,139.5 713.5,139.4 714.0,136.2 714.5,138.6 715.0,132.2 715.5,137.0 716.0,138.0 716.5,136.9 717.0,143.4 717.5,140.0 718.0,140.8 718.5,139.3 719.0,139.3 719.5,142.5 720.0,141.1 720.5,141.3 721.0,139.3 721.5,139.0 722.0,139.3 722.5,138.9 723.0,139.6 723.5,140.8 724.0,139.3 724.5,141.2 725.0,141.6 725.5,140.2 726.0,142.7 726.5,133.6 727.0,141.8 727.5,140.1 728.0,138.0 728.5,146.4 729.0,140.4 729.5,141.3 730.0,141.6 730.5,140.3 731.0,138.8 731.5,142.8 732.0,139.1 732.5,141.3 733.0,140.3 733.5,141.9 734.0,143.5 734.5,141.4 735.0,142.3 735.5,142.6 736.0,141.3 736.5,139.9 737.0,137.2 737.5,139.1 738.0,138.6 738.5,142.4 739.0,138.2 739.5,138.3 740.0,143.1 740.5,143.1 741.0,138.2 741.5,153.0 742.0,142.1 742.5,139.5 743.0,144.7 743.5,140.5 744.0,143.0 744.5,139.7 745.0,142.5 745.5,142.2 746.0,144.7 746.5,140.6" fill="none" stroke="#a0a0a0" stroke-width="1"/>
<polyline points="566.5,127.0 567.5,127.0 568.5,127.0 569.5,127.0 570.5,127.0 571.5,127.0 572.5,127.0 573.5,126.9 574.5,126.9 575.5,126.9 576.5,126.9 577.5,126.9 578.5,126.9 579.5,126.9 580.5,127.0 581.5,127.0 582.5,127.1 583.5,127.1 584.5,127.2 585.5,127.3 586.5,127.4 587.5,127.4 588.5,127.5 589.5,127.6 590.5,127.6 591.5,127.7 592.5,127.8 593.5,127.8 594.5,127.9 595.5,128.0 596.5,128.1 597.5,128.1 598.5,128.2 599.5,128.3 600.5,128.3 601.5,128.4 602.5,128.5 603.5,128.6 604.5,128.6 605.5,128.7 606.5,128.8 607.5,128.9 608.5,128.9 609.5,129.0 610.5,129.1 611.5,129.2 612.5,129.2 613.5,129.3 614.5,129.4 615.5,129.5 616.5,129.5 617.5,129.6 618.5,129.7 619.5,129.8 620.5,129.8 621.5,129.9 622.5,129.9 623.5,130.0 624.5,130.0 625.5,130.1 626.5,130.1 627.5,130.2 628.5,130.2 629.5,130.3 630.5,130.3 631.5,130.4 632.5,130.4 633.5,130.5 634.5,130.5 635.5,130.6 636.5,130.6 637.5,130.7 638.5,130.7 639.5,130.8 640.5,130.8 641.5,130.9 642.5,130.9 643.5,130.9 644.5,131.0 645.5,131.0 646.5,131.1 647.5,131.1 648.5,131.1 649.5,131.2 650.5,131.2 651.5,131.3 652.5,131.3 653.5,131.3 654.5,131.4 655.5,131.5 656.5,131.5 657.5,131.6 658.5,131.7 659.5,131.8 660.5,131.8 661.5,131.9 662.5,132.0 663.5,132.1 664.5,132.2 665.5,132.3 666.5,132.5 667.5,132.7 668.5,132.9 669.5,133.1 670.5,133.3 671.5,133.5 672.5,133.7 673.5,133.9 674.5,134.1 675.5,134.2 676.5,134.4 677.5,134.5 678.5,134.6 679.5,134.7 680.5,134.8 681.5,134.9 682.5,135.0 683.5,135.2 684.5,135.3 685.5,135.4 686.5,135.5 687.5,135.6 688.5,135.7 689.5,135.8 690.5,135.9 691.5,136.1 692.5,136.2 693.5,136.3 694.5,136.4 695.5,136.5 696.5,136.6 697.5,136.7 698.5,136.8 699.5,136.9 700.5,137.0 701.5,137.1 702.5,137.2 703.5,137.3 704.5,137.4 705.5,137.5 706.5,137.6 707.5,137.7 708.5,137.8 709.5,137.9 710.5,138.0 711.5,138.1" fill="none" stroke="#4d4d4d" stroke-width="1.3"/>
<polyline points="530.5,126.5 531.5,126.5 532.5,126.5 533.5,126.5 534.5,126.5 535.5,126.5 536.5,126.4 537.5,126.4 538.5,126.4 539.5,126.4 540.5,126.4 541.5,126.4 542.5,126.4 543.5,126.4 544.5,126.4 545.5,126.4 546.5,126.4 547.5,126.4 548.5,126.4 549.5,126.3 550.5,126.3 551.5,126.3 552.5,126.3 553.5,126.3 554.5,126.3 555.5,126.2 556.5,126.2 557.5,126.2 558.5,126.1 559.5,126.1 560.5,126.1 561.5,126.0 562.5,125.9 563.5,125.8 564.5,125.7 565.5,125.6 566.5,125.4 567.5,125.2 568.5,125.0 569.5,124.7 570.5,124.3 571.5,123.8 572.5,123.3 573.5,122.7 574.5,122.0 575.5,121.1 576.5,120.1 577.5,118.9 578.5,117.6 579.5,116.2 580.5,114.5 581.5,112.7 582.5,110.8 583.5,108.6 584.5,106.2 585.5,103.7 586.5,101.0 587.5,98.2 588.5,95.2 589.5,92.2 590.5,89.0 591.5,85.9 592.5,82.7 593.5,79.7 594.5,76.7 595.5,73.8 596.5,71.2 597.5,68.7 598.5,66.5 599.5,64.5 600.5,62.9 601.5,61.5 602.5,60.5 603.5,59.7 604.5,59.3 605.5,59.1 606.5,59.2 607.5,59.7 608.5,60.3 609.5,61.3 610.5,62.5 611.5,64.0 612.5,65.8 613.5,67.8 614.5,70.0 615.5,72.4 616.5,74.9 617.5,77.7 618.5,80.5 619.5,83.4 620.5,86.3 621.5,89.3 622.5,92.3 623.5,95.2 624.5,98.0 625.5,100.8 626.5,103.5 627.5,106.0 628.5,108.4 629.5,110.7 630.5,112.7 631.5,114.7 632.5,116.4 633.5,118.0 634.5,119.4 635.5,120.7 636.5,121.7 637.5,122.7 638.5,123.4 639.5,124.0 640.5,124.5 641.5,124.8 642.5,124.9 643.5,124.9 644.5,124.8 645.5,124.5 646.5,124.0 647.5,123.4 648.5,122.7 649.5,121.7 650.5,120.7 651.5,119.4 652.5,118.0 653.5,116.4 654.5,114.6 655.5,112.7 656.5,110.5 657.5,108.3 658.5,105.9 659.5,103.3 660.5,100.6 661.5,97.7 662.5,94.8 663.5,91.7 664.5,88.6 665.5,85.4 666.5,82.1 667.5,78.8 668.5,75.5 669.5,72.1 670.5,68.6 671.5,65.0 672.5,61.4 673.5,57.7 674.5,54.0 675.5,50.2 676.5,46.4 677.5,42.7 678.5,39.0 679.5,35.5 680.5,32.2 681.5,29.3 682.5,26.8 683.5,24.8 684.5,23.5 685.5,23.0 686.5,23.3 687.5,24.5 688.5,26.6 689.5,29.7 690.5,33.8 691.5,38.9 692.5,44.8 693.5,51.4 694.5,58.5 695.5,65.8 696.5,73.2 697.5,80.5 698.5,87.6 699.5,94.3 700.5,100.6 701.5,106.3 702.5,111.4 703.5,115.9 704.5,119.8 705.5,123.2 706.5,126.0 707.5,128.4 708.5,130.3 709.5,131.9 710.5,133.1 711.5,134.2 712.5,135.0 713.5,135.6 714.5,136.1 715.5,136.5 716.5,136.8 717.5,137.0 718.5,137.1 719.5,137.3 720.5,137.4 721.5,137.5 722.5,137.5 723.5,137.6 724.5,137.7 725.5,137.7 726.5,137.8 727.5,137.8 728.5,137.8 729.5,137.9 730.5,137.9 731.5,138.0 732.5,138.0 733.5,138.0 734.5,138.1 735.5,138.1 736.5,138.1 737.5,138.1 738.5,138.2 739.5,138.2 740.5,138.2 741.5,138.2 742.5,138.3 743.5,138.3 744.5,138.3 745.5,138.3 746.5,138.4" fill="none" stroke="#850a88" stroke-width="1.7"/>
<path d="M561.7,292.5 562.7,292.5 563.7,292.5 564.7,292.5 565.7,292.4 566.7,292.4 567.7,292.3 568.7,292.2 569.7,292.1 570.7,292.0 571.7,291.9 572.7,291.7 573.7,291.5 574.7,291.3 575.7,291.0 576.7,290.7 577.7,290.4 578.7,290.0 579.7,289.6 580.7,289.1 581.7,288.6 582.7,288.1 583.7,287.5 584.7,286.9 585.7,286.3 586.7,285.6 587.7,285.0 588.7,284.3 589.7,283.6 590.7,283.0 591.7,282.3 592.7,281.7 593.7,281.2 594.7,280.7 595.7,280.2 596.7,279.8 597.7,279.5 598.7,279.3 599.7,279.2 600.7,279.1 601.7,279.2 602.7,279.3 603.7,279.6 604.7,279.9 605.7,280.3 606.7,280.8 607.7,281.4 608.7,282.0 609.7,282.6 610.7,283.3 611.7,283.9 612.7,284.6 613.7,285.3 614.7,286.0 615.7,286.7 616.7,287.3 617.7,288.0 618.7,288.6 619.7,289.1 620.7,289.7 621.7,290.1 622.7,290.6 623.7,291.0 624.7,291.4 625.7,291.7 626.7,292.0 627.7,292.3 628.7,292.5 629.7,292.7 630.7,292.9 631.7,293.0 632.7,293.2 633.7,293.3 634.7,293.4 635.7,293.5 636.7,293.5 637.7,293.6 638.7,293.7 639.7,293.7 L639.7,294.0 638.7,294.0 637.7,294.0 636.7,294.0 635.7,293.9 634.7,293.9 633.7,293.9 632.7,293.9 631.7,293.9 630.7,293.9 629.7,293.9 628.7,293.8 627.7,293.8 626.7,293.8 625.7,293.8 624.7,293.8 623.7,293.8 622.7,293.8 621.7,293.8 620.7,293.7 619.7,293.7 618.7,293.7 617.7,293.7 616.7,293.7 615.7,293.7 614.7,293.7 613.7,293.6 612.7,293.6 611.7,293.6 610.7,293.6 609.7,293.6 608.7,293.6 607.7,293.6 606.7,293.6 605.7,293.5 604.7,293.5 603.7,293.5 602.7,293.5 601.7,293.5 600.7,293.5 599.7,293.5 598.7,293.4 597.7,293.4 596.7,293.4 595.7,293.4 594.7,293.4 593.7,293.4 592.7,293.4 591.7,293.4 590.7,293.3 589.7,293.3 588.7,293.3 587.7,293.3 586.7,293.3 585.7,293.3 584.7,293.3 583.7,293.2 582.7,293.2 581.7,293.2 580.7,293.2 579.7,293.2 578.7,293.2 577.7,293.2 576.7,293.1 575.7,293.1 574.7,293.1 573.7,293.1 572.7,293.0 571.7,293.0 570.7,293.0 569.7,293.0 568.7,293.0 567.7,292.9 566.7,292.9 565.7,292.9 564.7,292.9 563.7,292.9 562.7,292.8 561.7,292.8Z" fill="url(#g35)" fill-opacity="0.78"/>
<path d="M586.7,293.0 587.7,293.0 588.7,293.0 589.7,292.9 590.7,292.9 591.7,292.9 592.7,292.8 593.7,292.7 594.7,292.6 595.7,292.5 596.7,292.3 597.7,292.1 598.7,291.9 599.7,291.7 600.7,291.4 601.7,291.0 602.7,290.6 603.7,290.1 604.7,289.6 605.7,289.0 606.7,288.4 607.7,287.7 608.7,286.9 609.7,286.1 610.7,285.2 611.7,284.3 612.7,283.3 613.7,282.4 614.7,281.4 615.7,280.4 616.7,279.4 617.7,278.4 618.7,277.5 619.7,276.7 620.7,276.0 621.7,275.3 622.7,274.8 623.7,274.4 624.7,274.2 625.7,274.1 626.7,274.2 627.7,274.4 628.7,274.7 629.7,275.2 630.7,275.8 631.7,276.6 632.7,277.4 633.7,278.3 634.7,279.2 635.7,280.2 636.7,281.2 637.7,282.3 638.7,283.3 639.7,284.3 640.7,285.3 641.7,286.2 642.7,287.1 643.7,288.0 644.7,288.8 645.7,289.5 646.7,290.2 647.7,290.8 648.7,291.4 649.7,291.8 650.7,292.3 651.7,292.7 652.7,293.0 653.7,293.3 654.7,293.6 655.7,293.8 656.7,294.0 657.7,294.2 658.7,294.3 659.7,294.5 660.7,294.6 661.7,294.7 662.7,294.8 663.7,294.9 664.7,295.0 665.7,295.1 L665.7,295.4 664.7,295.3 663.7,295.2 662.7,295.2 661.7,295.1 660.7,295.0 659.7,295.0 658.7,294.9 657.7,294.9 656.7,294.8 655.7,294.8 654.7,294.7 653.7,294.7 652.7,294.6 651.7,294.6 650.7,294.5 649.7,294.5 648.7,294.4 647.7,294.4 646.7,294.3 645.7,294.3 644.7,294.2 643.7,294.2 642.7,294.1 641.7,294.1 640.7,294.0 639.7,294.0 638.7,294.0 637.7,294.0 636.7,294.0 635.7,293.9 634.7,293.9 633.7,293.9 632.7,293.9 631.7,293.9 630.7,293.9 629.7,293.9 628.7,293.8 627.7,293.8 626.7,293.8 625.7,293.8 624.7,293.8 623.7,293.8 622.7,293.8 621.7,293.8 620.7,293.7 619.7,293.7 618.7,293.7 617.7,293.7 616.7,293.7 615.7,293.7 614.7,293.7 613.7,293.6 612.7,293.6 611.7,293.6 610.7,293.6 609.7,293.6 608.7,293.6 607.7,293.6 606.7,293.6 605.7,293.5 604.7,293.5 603.7,293.5 602.7,293.5 601.7,293.5 600.7,293.5 599.7,293.5 598.7,293.4 597.7,293.4 596.7,293.4 595.7,293.4 594.7,293.4 593.7,293.4 592.7,293.4 591.7,293.4 590.7,293.3 589.7,293.3 588.7,293.3 587.7,293.3 586.7,293.3Z" fill="url(#g36)" fill-opacity="0.78"/>
<path d="M595.7,293.2 596.7,293.2 597.7,293.2 598.7,293.2 599.7,293.2 600.7,293.2 601.7,293.2 602.7,293.2 603.7,293.2 604.7,293.2 605.7,293.2 606.7,293.2 607.7,293.2 608.7,293.2 609.7,293.2 610.7,293.2 611.7,293.2 612.7,293.2 613.7,293.2 614.7,293.2 615.7,293.2 616.7,293.2 617.7,293.2 618.7,293.2 619.7,293.2 620.7,293.2 621.7,293.2 622.7,293.1 623.7,293.1 624.7,293.1 625.7,293.1 626.7,293.1 627.7,293.1 628.7,293.0 629.7,293.0 630.7,293.0 631.7,292.9 632.7,292.8 633.7,292.8 634.7,292.7 635.7,292.6 636.7,292.4 637.7,292.3 638.7,292.1 639.7,291.8 640.7,291.6 641.7,291.2 642.7,290.8 643.7,290.3 644.7,289.6 645.7,288.9 646.7,288.0 647.7,286.9 648.7,285.7 649.7,284.3 650.7,282.7 651.7,280.9 652.7,278.9 653.7,276.7 654.7,274.3 655.7,271.8 656.7,269.1 657.7,266.4 658.7,263.6 659.7,260.8 660.7,258.1 661.7,255.5 662.7,253.2 663.7,251.1 664.7,249.3 665.7,248.0 666.7,247.1 667.7,246.8 668.7,246.9 669.7,247.6 670.7,248.8 671.7,250.4 672.7,252.4 673.7,254.8 674.7,257.3 675.7,260.1 676.7,263.0 677.7,266.0 678.7,268.9 679.7,271.8 680.7,274.6 681.7,277.3 682.7,279.7 683.7,282.0 684.7,284.1 685.7,286.0 686.7,287.8 687.7,289.3 688.7,290.6 689.7,291.8 690.7,292.8 691.7,293.8 692.7,294.5 693.7,295.2 694.7,295.8 695.7,296.3 696.7,296.8 697.7,297.2 698.7,297.6 699.7,297.9 700.7,298.2 701.7,298.4 702.7,298.7 703.7,298.9 704.7,299.0 705.7,299.2 706.7,299.3 707.7,299.4 708.7,299.4 709.7,299.5 710.7,299.6 711.7,299.7 712.7,299.7 713.7,299.8 714.7,299.9 715.7,299.9 716.7,300.0 717.7,300.1 718.7,300.1 719.7,300.2 720.7,300.2 721.7,300.3 722.7,300.3 723.7,300.3 724.7,300.3 725.7,300.4 726.7,300.4 727.7,300.4 728.7,300.4 729.7,300.5 730.7,300.5 731.7,300.5 732.7,300.5 733.7,300.5 734.7,300.6 735.7,300.6 736.7,300.6 737.7,300.6 738.7,300.6 739.7,300.7 740.7,300.7 L740.7,300.9 739.7,300.9 738.7,300.9 737.7,300.9 736.7,300.9 735.7,300.9 734.7,300.9 733.7,300.8 732.7,300.8 731.7,300.8 730.7,300.8 729.7,300.8 728.7,300.8 727.7,300.8 726.7,300.8 725.7,300.8 724.7,300.8 723.7,300.7 722.7,300.7 721.7,300.7 720.7,300.7 719.7,300.7 718.7,300.6 717.7,300.6 716.7,300.6 715.7,300.5 714.7,300.5 713.7,300.4 712.7,300.4 711.7,300.3 710.7,300.3 709.7,300.2 708.7,300.2 707.7,300.2 706.7,300.1 705.7,300.1 704.7,300.0 703.7,299.9 702.7,299.8 701.7,299.6 700.7,299.5 699.7,299.3 698.7,299.2 697.7,299.0 696.7,298.9 695.7,298.7 694.7,298.5 693.7,298.4 692.7,298.2 691.7,298.1 690.7,297.9 689.7,297.8 688.7,297.6 687.7,297.5 686.7,297.4 685.7,297.2 684.7,297.1 683.7,297.0 682.7,296.9 681.7,296.7 680.7,296.6 679.7,296.5 678.7,296.3 677.7,296.2 676.7,296.1 675.7,296.0 674.7,295.9 673.7,295.9 672.7,295.8 671.7,295.7 670.7,295.7 669.7,295.6 668.7,295.5 667.7,295.5 666.7,295.4 665.7,295.4 664.7,295.3 663.7,295.2 662.7,295.2 661.7,295.1 660.7,295.0 659.7,295.0 658.7,294.9 657.7,294.9 656.7,294.8 655.7,294.8 654.7,294.7 653.7,294.7 652.7,294.6 651.7,294.6 650.7,294.5 649.7,294.5 648.7,294.4 647.7,294.4 646.7,294.3 645.7,294.3 644.7,294.2 643.7,294.2 642.7,294.1 641.7,294.1 640.7,294.0 639.7,294.0 638.7,294.0 637.7,294.0 636.7,294.0 635.7,293.9 634.7,293.9 633.7,293.9 632.7,293.9 631.7,293.9 630.7,293.9 629.7,293.9 628.7,293.8 627.7,293.8 626.7,293.8 625.7,293.8 624.7,293.8 623.7,293.8 622.7,293.8 621.7,293.8 620.7,293.7 619.7,293.7 618.7,293.7 617.7,293.7 616.7,293.7 615.7,293.7 614.7,293.7 613.7,293.6 612.7,293.6 611.7,293.6 610.7,293.6 609.7,293.6 608.7,293.6 607.7,293.6 606.7,293.6 605.7,293.5 604.7,293.5 603.7,293.5 602.7,293.5 601.7,293.5 600.7,293.5 599.7,293.5 598.7,293.4 597.7,293.4 596.7,293.4 595.7,293.4Z" fill="url(#g37)" fill-opacity="0.78"/>
<path d="M640.7,293.8 641.7,293.8 642.7,293.9 643.7,293.9 644.7,293.9 645.7,294.0 646.7,294.0 647.7,294.0 648.7,294.0 649.7,294.1 650.7,294.1 651.7,294.1 652.7,294.1 653.7,294.1 654.7,294.0 655.7,294.0 656.7,293.8 657.7,293.7 658.7,293.4 659.7,293.1 660.7,292.6 661.7,292.0 662.7,291.2 663.7,290.2 664.7,288.9 665.7,287.2 666.7,285.2 667.7,282.7 668.7,279.8 669.7,276.3 670.7,272.3 671.7,267.8 672.7,262.7 673.7,257.1 674.7,251.0 675.7,244.7 676.7,238.1 677.7,231.4 678.7,224.8 679.7,218.4 680.7,212.5 681.7,207.3 682.7,202.9 683.7,199.5 684.7,197.2 685.7,196.2 686.7,196.5 687.7,198.2 688.7,201.3 689.7,205.6 690.7,211.1 691.7,217.3 692.7,224.2 693.7,231.4 694.7,238.8 695.7,246.1 696.7,253.2 697.7,259.9 698.7,266.1 699.7,271.7 700.7,276.7 701.7,281.1 702.7,284.9 703.7,288.0 704.7,290.7 705.7,292.8 706.7,294.5 707.7,295.8 708.7,296.8 709.7,297.7 710.7,298.3 711.7,298.8 712.7,299.1 713.7,299.4 714.7,299.6 715.7,299.8 716.7,300.0 717.7,300.1 718.7,300.2 719.7,300.2 720.7,300.3 721.7,300.3 722.7,300.4 723.7,300.4 724.7,300.4 725.7,300.5 726.7,300.5 727.7,300.5 728.7,300.5 L728.7,300.8 727.7,300.8 726.7,300.8 725.7,300.8 724.7,300.8 723.7,300.7 722.7,300.7 721.7,300.7 720.7,300.7 719.7,300.7 718.7,300.6 717.7,300.6 716.7,300.6 715.7,300.5 714.7,300.5 713.7,300.4 712.7,300.4 711.7,300.3 710.7,300.3 709.7,300.2 708.7,300.2 707.7,300.2 706.7,300.1 705.7,300.1 704.7,300.0 703.7,299.9 702.7,299.8 701.7,299.6 700.7,299.5 699.7,299.3 698.7,299.2 697.7,299.0 696.7,298.9 695.7,298.7 694.7,298.5 693.7,298.4 692.7,298.2 691.7,298.1 690.7,297.9 689.7,297.8 688.7,297.6 687.7,297.5 686.7,297.4 685.7,297.2 684.7,297.1 683.7,297.0 682.7,296.9 681.7,296.7 680.7,296.6 679.7,296.5 678.7,296.3 677.7,296.2 676.7,296.1 675.7,296.0 674.7,295.9 673.7,295.9 672.7,295.8 671.7,295.7 670.7,295.7 669.7,295.6 668.7,295.5 667.7,295.5 666.7,295.4 665.7,295.4 664.7,295.3 663.7,295.2 662.7,295.2 661.7,295.1 660.7,295.0 659.7,295.0 658.7,294.9 657.7,294.9 656.7,294.8 655.7,294.8 654.7,294.7 653.7,294.7 652.7,294.6 651.7,294.6 650.7,294.5 649.7,294.5 648.7,294.4 647.7,294.4 646.7,294.3 645.7,294.3 644.7,294.2 643.7,294.2 642.7,294.1 641.7,294.1 640.7,294.0Z" fill="url(#g38)" fill-opacity="0.78"/>
<polyline points="561.7,292.5 562.7,292.5 563.7,292.5 564.7,292.5 565.7,292.4 566.7,292.4 567.7,292.3 568.7,292.2 569.7,292.1 570.7,292.0 571.7,291.9 572.7,291.7 573.7,291.5 574.7,291.3 575.7,291.0 576.7,290.7 577.7,290.4 578.7,290.0 579.7,289.6 580.7,289.1 581.7,288.6 582.7,288.1 583.7,287.5 584.7,286.9 585.7,286.3 586.7,285.6 587.7,285.0 588.7,284.3 589.7,283.6 590.7,283.0 591.7,282.3 592.7,281.7 593.7,281.2 594.7,280.7 595.7,280.2 596.7,279.8 597.7,279.5 598.7,279.3 599.7,279.2 600.7,279.1 601.7,279.2 602.7,279.3 603.7,279.6 604.7,279.9 605.7,280.3 606.7,280.8 607.7,281.4 608.7,282.0 609.7,282.6 610.7,283.3 611.7,283.9 612.7,284.6 613.7,285.3 614.7,286.0 615.7,286.7 616.7,287.3 617.7,288.0 618.7,288.6 619.7,289.1 620.7,289.7 621.7,290.1 622.7,290.6 623.7,291.0 624.7,291.4 625.7,291.7 626.7,292.0 627.7,292.3 628.7,292.5 629.7,292.7 630.7,292.9 631.7,293.0 632.7,293.2 633.7,293.3 634.7,293.4 635.7,293.5 636.7,293.5 637.7,293.6 638.7,293.7 639.7,293.7" fill="none" stroke="#8c8c8c" stroke-width="1.1"/>
<polyline points="586.7,293.0 587.7,293.0 588.7,293.0 589.7,292.9 590.7,292.9 591.7,292.9 592.7,292.8 593.7,292.7 594.7,292.6 595.7,292.5 596.7,292.3 597.7,292.1 598.7,291.9 599.7,291.7 600.7,291.4 601.7,291.0 602.7,290.6 603.7,290.1 604.7,289.6 605.7,289.0 606.7,288.4 607.7,287.7 608.7,286.9 609.7,286.1 610.7,285.2 611.7,284.3 612.7,283.3 613.7,282.4 614.7,281.4 615.7,280.4 616.7,279.4 617.7,278.4 618.7,277.5 619.7,276.7 620.7,276.0 621.7,275.3 622.7,274.8 623.7,274.4 624.7,274.2 625.7,274.1 626.7,274.2 627.7,274.4 628.7,274.7 629.7,275.2 630.7,275.8 631.7,276.6 632.7,277.4 633.7,278.3 634.7,279.2 635.7,280.2 636.7,281.2 637.7,282.3 638.7,283.3 639.7,284.3 640.7,285.3 641.7,286.2 642.7,287.1 643.7,288.0 644.7,288.8 645.7,289.5 646.7,290.2 647.7,290.8 648.7,291.4 649.7,291.8 650.7,292.3 651.7,292.7 652.7,293.0 653.7,293.3 654.7,293.6 655.7,293.8 656.7,294.0 657.7,294.2 658.7,294.3 659.7,294.5 660.7,294.6 661.7,294.7 662.7,294.8 663.7,294.9 664.7,295.0 665.7,295.1" fill="none" stroke="#8c8c8c" stroke-width="1.1"/>
<polyline points="595.7,293.2 596.7,293.2 597.7,293.2 598.7,293.2 599.7,293.2 600.7,293.2 601.7,293.2 602.7,293.2 603.7,293.2 604.7,293.2 605.7,293.2 606.7,293.2 607.7,293.2 608.7,293.2 609.7,293.2 610.7,293.2 611.7,293.2 612.7,293.2 613.7,293.2 614.7,293.2 615.7,293.2 616.7,293.2 617.7,293.2 618.7,293.2 619.7,293.2 620.7,293.2 621.7,293.2 622.7,293.1 623.7,293.1 624.7,293.1 625.7,293.1 626.7,293.1 627.7,293.1 628.7,293.0 629.7,293.0 630.7,293.0 631.7,292.9 632.7,292.8 633.7,292.8 634.7,292.7 635.7,292.6 636.7,292.4 637.7,292.3 638.7,292.1 639.7,291.8 640.7,291.6 641.7,291.2 642.7,290.8 643.7,290.3 644.7,289.6 645.7,288.9 646.7,288.0 647.7,286.9 648.7,285.7 649.7,284.3 650.7,282.7 651.7,280.9 652.7,278.9 653.7,276.7 654.7,274.3 655.7,271.8 656.7,269.1 657.7,266.4 658.7,263.6 659.7,260.8 660.7,258.1 661.7,255.5 662.7,253.2 663.7,251.1 664.7,249.3 665.7,248.0 666.7,247.1 667.7,246.8 668.7,246.9 669.7,247.6 670.7,248.8 671.7,250.4 672.7,252.4 673.7,254.8 674.7,257.3 675.7,260.1 676.7,263.0 677.7,266.0 678.7,268.9 679.7,271.8 680.7,274.6 681.7,277.3 682.7,279.7 683.7,282.0 684.7,284.1 685.7,286.0 686.7,287.8 687.7,289.3 688.7,290.6 689.7,291.8 690.7,292.8 691.7,293.8 692.7,294.5 693.7,295.2 694.7,295.8 695.7,296.3 696.7,296.8 697.7,297.2 698.7,297.6 699.7,297.9 700.7,298.2 701.7,298.4 702.7,298.7 703.7,298.9 704.7,299.0 705.7,299.2 706.7,299.3 707.7,299.4 708.7,299.4 709.7,299.5 710.7,299.6 711.7,299.7 712.7,299.7 713.7,299.8 714.7,299.9 715.7,299.9 716.7,300.0 717.7,300.1 718.7,300.1 719.7,300.2 720.7,300.2 721.7,300.3 722.7,300.3 723.7,300.3 724.7,300.3 725.7,300.4 726.7,300.4 727.7,300.4 728.7,300.4 729.7,300.5 730.7,300.5 731.7,300.5 732.7,300.5 733.7,300.5 734.7,300.6 735.7,300.6 736.7,300.6 737.7,300.6 738.7,300.6 739.7,300.7 740.7,300.7" fill="none" stroke="#8c8c8c" stroke-width="1.1"/>
<polyline points="640.7,293.8 641.7,293.8 642.7,293.9 643.7,293.9 644.7,293.9 645.7,294.0 646.7,294.0 647.7,294.0 648.7,294.0 649.7,294.1 650.7,294.1 651.7,294.1 652.7,294.1 653.7,294.1 654.7,294.0 655.7,294.0 656.7,293.8 657.7,293.7 658.7,293.4 659.7,293.1 660.7,292.6 661.7,292.0 662.7,291.2 663.7,290.2 664.7,288.9 665.7,287.2 666.7,285.2 667.7,282.7 668.7,279.8 669.7,276.3 670.7,272.3 671.7,267.8 672.7,262.7 673.7,257.1 674.7,251.0 675.7,244.7 676.7,238.1 677.7,231.4 678.7,224.8 679.7,218.4 680.7,212.5 681.7,207.3 682.7,202.9 683.7,199.5 684.7,197.2 685.7,196.2 686.7,196.5 687.7,198.2 688.7,201.3 689.7,205.6 690.7,211.1 691.7,217.3 692.7,224.2 693.7,231.4 694.7,238.8 695.7,246.1 696.7,253.2 697.7,259.9 698.7,266.1 699.7,271.7 700.7,276.7 701.7,281.1 702.7,284.9 703.7,288.0 704.7,290.7 705.7,292.8 706.7,294.5 707.7,295.8 708.7,296.8 709.7,297.7 710.7,298.3 711.7,298.8 712.7,299.1 713.7,299.4 714.7,299.6 715.7,299.8 716.7,300.0 717.7,300.1 718.7,300.2 719.7,300.2 720.7,300.3 721.7,300.3 722.7,300.4 723.7,300.4 724.7,300.4 725.7,300.5 726.7,300.5 727.7,300.5 728.7,300.5" fill="none" stroke="#8c8c8c" stroke-width="1.1"/>
<polyline points="542.5,288.2 543.0,285.1 543.5,285.4 544.0,289.2 544.5,289.8 545.0,287.5 545.5,288.5 546.0,286.6 546.5,290.4 547.0,293.8 547.5,281.9 548.0,287.3 548.5,289.3 549.0,286.7 549.5,286.5 550.0,288.1 550.5,286.0 551.0,287.8 551.5,288.5 552.0,286.0 552.5,287.0 553.0,288.6 553.5,289.7 554.0,289.0 554.5,288.0 555.0,289.5 555.5,293.5 556.0,287.9 556.5,289.1 557.0,288.6 557.5,289.0 558.0,289.8 558.5,293.0 559.0,289.2 559.5,290.3 560.0,287.3 560.5,287.8 561.0,288.1 561.5,285.8 562.0,293.0 562.5,287.8 563.0,287.2 563.5,288.6 564.0,292.1 564.5,289.5 565.0,288.2 565.5,288.9 566.0,287.9 566.5,288.2 567.0,291.2 567.5,288.9 568.0,288.0 568.5,287.4 569.0,284.5 569.5,287.8 570.0,286.6 570.5,289.0 571.0,288.4 571.5,290.5 572.0,286.0 572.5,287.9 573.0,291.3 573.5,286.3 574.0,287.8 574.5,287.2 575.0,286.2 575.5,284.8 576.0,287.3 576.5,289.3 577.0,284.3 577.5,287.6 578.0,291.3 578.5,287.0 579.0,285.5 579.5,288.6 580.0,284.2 580.5,285.4 581.0,286.3 581.5,289.4 582.0,285.0 582.5,286.2 583.0,285.4 583.5,283.3 584.0,284.2 584.5,283.4 585.0,284.1 585.5,283.1 586.0,285.0 586.5,283.3 587.0,283.8 587.5,280.0 588.0,280.0 588.5,281.1 589.0,283.4 589.5,279.1 590.0,279.3 590.5,282.2 591.0,283.3 591.5,278.1 592.0,280.4 592.5,278.3 593.0,279.5 593.5,274.0 594.0,280.0 594.5,277.4 595.0,278.5 595.5,274.5 596.0,276.2 596.5,279.7 597.0,273.9 597.5,278.0 598.0,274.7 598.5,273.9 599.0,278.5 599.5,273.3 600.0,276.0 600.5,275.2 601.0,278.7 601.5,271.7 602.0,277.3 602.5,274.9 603.0,270.7 603.5,275.3 604.0,272.9 604.5,274.1 605.0,276.0 605.5,274.5 606.0,277.0 606.5,273.0 607.0,272.0 607.5,272.9 608.0,273.6 608.5,275.2 609.0,271.4 609.5,273.1 610.0,269.1 610.5,272.4 611.0,272.4 611.5,269.3 612.0,269.4 612.5,270.1 613.0,268.4 613.5,269.9 614.0,273.0 614.5,269.1 615.0,271.6 615.5,267.6 616.0,267.1 616.5,266.5 617.0,271.5 617.5,269.6 618.0,270.4 618.5,272.1 619.0,269.0 619.5,268.1 620.0,269.3 620.5,268.9 621.0,267.3 621.5,271.2 622.0,273.2 622.5,269.2 623.0,270.3 623.5,271.9 624.0,269.2 624.5,269.0 625.0,267.6 625.5,273.0 626.0,268.4 626.5,269.8 627.0,269.5 627.5,275.1 628.0,267.3 628.5,271.5 629.0,269.9 629.5,272.0 630.0,271.2 630.5,272.9 631.0,270.0 631.5,272.2 632.0,272.2 632.5,273.4 633.0,271.7 633.5,275.4 634.0,277.8 634.5,275.3 635.0,273.7 635.5,274.8 636.0,275.0 636.5,282.3 637.0,278.7 637.5,278.9 638.0,281.8 638.5,281.8 639.0,278.9 639.5,275.7 640.0,279.4 640.5,281.2 641.0,280.6 641.5,280.7 642.0,273.4 642.5,281.2 643.0,281.2 643.5,280.4 644.0,282.3 644.5,280.0 645.0,281.9 645.5,276.9 646.0,281.1 646.5,284.2 647.0,287.0 647.5,280.2 648.0,282.6 648.5,284.3 649.0,279.3 649.5,280.6 650.0,276.9 650.5,279.4 651.0,280.5 651.5,280.3 652.0,274.3 652.5,277.1 653.0,273.3 653.5,273.7 654.0,271.2 654.5,271.1 655.0,269.6 655.5,269.0 656.0,269.6 656.5,265.8 657.0,263.5 657.5,263.5 658.0,261.7 658.5,262.5 659.0,259.7 659.5,253.4 660.0,253.3 660.5,255.3 661.0,252.5 661.5,252.2 662.0,249.2 662.5,247.3 663.0,240.7 663.5,240.8 664.0,241.2 664.5,242.4 665.0,237.4 665.5,240.2 666.0,240.1 666.5,239.0 667.0,235.9 667.5,234.2 668.0,232.4 668.5,229.3 669.0,231.7 669.5,224.6 670.0,228.4 670.5,225.1 671.0,215.6 671.5,221.7 672.0,217.5 672.5,221.8 673.0,216.9 673.5,215.9 674.0,214.7 674.5,206.6 675.0,210.5 675.5,206.8 676.0,205.8 676.5,207.8 677.0,203.5 677.5,199.6 678.0,197.7 678.5,199.0 679.0,190.2 679.5,192.2 680.0,190.9 680.5,190.1 681.0,188.8 681.5,186.1 682.0,185.4 682.5,189.1 683.0,186.6 683.5,183.0 684.0,183.3 684.5,189.5 685.0,181.4 685.5,185.5 686.0,183.9 686.5,184.6 687.0,185.5 687.5,187.6 688.0,191.2 688.5,190.5 689.0,195.7 689.5,198.5 690.0,201.4 690.5,204.9 691.0,210.7 691.5,218.4 692.0,214.2 692.5,219.6 693.0,219.8 693.5,224.5 694.0,235.6 694.5,235.2 695.0,235.5 695.5,243.4 696.0,247.4 696.5,248.5 697.0,252.5 697.5,257.8 698.0,257.9 698.5,262.6 699.0,266.4 699.5,268.3 700.0,276.6 700.5,271.6 701.0,277.8 701.5,276.6 702.0,277.4 702.5,283.8 703.0,284.8 703.5,287.8 704.0,288.3 704.5,291.4 705.0,286.8 705.5,291.5 706.0,293.9 706.5,295.2 707.0,300.9 707.5,298.3 708.0,294.8 708.5,296.7 709.0,299.5 709.5,306.5 710.0,299.2 710.5,298.8 711.0,309.5 711.5,300.5 712.0,302.1 712.5,299.2 713.0,303.3 713.5,302.3 714.0,302.4 714.5,303.6 715.0,304.1 715.5,302.1 716.0,306.3 716.5,306.1 717.0,301.6 717.5,302.9 718.0,304.6 718.5,304.8 719.0,302.5 719.5,301.2 720.0,306.4 720.5,304.6 721.0,302.5 721.5,302.3 722.0,305.0 722.5,302.0 723.0,303.4 723.5,302.6 724.0,304.6 724.5,303.8 725.0,306.6 725.5,301.3 726.0,304.4 726.5,305.9 727.0,303.5 727.5,301.3 728.0,300.6 728.5,303.8 729.0,302.4 729.5,303.7 730.0,304.6 730.5,305.1 731.0,302.0 731.5,303.9 732.0,303.0 732.5,302.6 733.0,303.7 733.5,304.7 734.0,304.2 734.5,301.4 735.0,306.0 735.5,303.4 736.0,306.0 736.5,308.3 737.0,302.4 737.5,305.0 738.0,304.4 738.5,303.6 739.0,303.5 739.5,304.0 740.0,307.6 740.5,302.8 741.0,303.7 741.5,303.4 742.0,304.7 742.5,305.1 743.0,306.9 743.5,305.2 744.0,306.1 744.5,302.3 745.0,305.7 745.5,303.9 746.0,312.6 746.5,303.4" fill="none" stroke="#a0a0a0" stroke-width="1"/>
<polyline points="541.7,292.4 542.7,292.4 543.7,292.4 544.7,292.5 545.7,292.5 546.7,292.5 547.7,292.5 548.7,292.5 549.7,292.6 550.7,292.6 551.7,292.6 552.7,292.6 553.7,292.7 554.7,292.7 555.7,292.7 556.7,292.7 557.7,292.7 558.7,292.8 559.7,292.8 560.7,292.8 561.7,292.8 562.7,292.8 563.7,292.9 564.7,292.9 565.7,292.9 566.7,292.9 567.7,292.9 568.7,293.0 569.7,293.0 570.7,293.0 571.7,293.0 572.7,293.0 573.7,293.1 574.7,293.1 575.7,293.1 576.7,293.1 577.7,293.2 578.7,293.2 579.7,293.2 580.7,293.2 581.7,293.2 582.7,293.2 583.7,293.2 584.7,293.3 585.7,293.3 586.7,293.3 587.7,293.3 588.7,293.3 589.7,293.3 590.7,293.3 591.7,293.4 592.7,293.4 593.7,293.4 594.7,293.4 595.7,293.4 596.7,293.4 597.7,293.4 598.7,293.4 599.7,293.5 600.7,293.5 601.7,293.5 602.7,293.5 603.7,293.5 604.7,293.5 605.7,293.5 606.7,293.6 607.7,293.6 608.7,293.6 609.7,293.6 610.7,293.6 611.7,293.6 612.7,293.6 613.7,293.6 614.7,293.7 615.7,293.7 616.7,293.7 617.7,293.7 618.7,293.7 619.7,293.7 620.7,293.7 621.7,293.8 622.7,293.8 623.7,293.8 624.7,293.8 625.7,293.8 626.7,293.8 627.7,293.8 628.7,293.8 629.7,293.9 630.7,293.9 631.7,293.9 632.7,293.9 633.7,293.9 634.7,293.9 635.7,293.9 636.7,294.0 637.7,294.0 638.7,294.0 639.7,294.0 640.7,294.0 641.7,294.1 642.7,294.1 643.7,294.2 644.7,294.2 645.7,294.3 646.7,294.3 647.7,294.4 648.7,294.4 649.7,294.5 650.7,294.5 651.7,294.6 652.7,294.6 653.7,294.7 654.7,294.7 655.7,294.8 656.7,294.8 657.7,294.9 658.7,294.9 659.7,295.0 660.7,295.0 661.7,295.1 662.7,295.2 663.7,295.2 664.7,295.3 665.7,295.4 666.7,295.4 667.7,295.5 668.7,295.5 669.7,295.6 670.7,295.7 671.7,295.7 672.7,295.8 673.7,295.9 674.7,295.9 675.7,296.0 676.7,296.1 677.7,296.2 678.7,296.3 679.7,296.5 680.7,296.6 681.7,296.7 682.7,296.9 683.7,297.0 684.7,297.1 685.7,297.2 686.7,297.4 687.7,297.5 688.7,297.6 689.7,297.8 690.7,297.9 691.7,298.1 692.7,298.2 693.7,298.4 694.7,298.5 695.7,298.7 696.7,298.9 697.7,299.0 698.7,299.2 699.7,299.3 700.7,299.5 701.7,299.6 702.7,299.8 703.7,299.9 704.7,300.0 705.7,300.1 706.7,300.1 707.7,300.2" fill="none" stroke="#4d4d4d" stroke-width="1.3"/>
<polyline points="541.7,292.2 542.7,292.2 543.7,292.2 544.7,292.2 545.7,292.2 546.7,292.2 547.7,292.2 548.7,292.3 549.7,292.3 550.7,292.3 551.7,292.3 552.7,292.3 553.7,292.3 554.7,292.3 555.7,292.3 556.7,292.3 557.7,292.3 558.7,292.3 559.7,292.3 560.7,292.3 561.7,292.3 562.7,292.3 563.7,292.3 564.7,292.2 565.7,292.2 566.7,292.1 567.7,292.0 568.7,291.9 569.7,291.8 570.7,291.7 571.7,291.6 572.7,291.4 573.7,291.2 574.7,290.9 575.7,290.7 576.7,290.3 577.7,290.0 578.7,289.6 579.7,289.2 580.7,288.7 581.7,288.2 582.7,287.7 583.7,287.1 584.7,286.4 585.7,285.8 586.7,285.1 587.7,284.4 588.7,283.7 589.7,283.0 590.7,282.3 591.7,281.6 592.7,280.9 593.7,280.2 594.7,279.6 595.7,279.0 596.7,278.4 597.7,277.9 598.7,277.4 599.7,277.0 600.7,276.6 601.7,276.3 602.7,276.1 603.7,275.8 604.7,275.6 605.7,275.4 606.7,275.2 607.7,275.0 608.7,274.8 609.7,274.6 610.7,274.4 611.7,274.1 612.7,273.8 613.7,273.5 614.7,273.2 615.7,272.8 616.7,272.4 617.7,272.1 618.7,271.7 619.7,271.4 620.7,271.2 621.7,271.0 622.7,270.9 623.7,270.9 624.7,270.9 625.7,271.1 626.7,271.4 627.7,271.8 628.7,272.4 629.7,273.0 630.7,273.7 631.7,274.5 632.7,275.4 633.7,276.3 634.7,277.2 635.7,278.2 636.7,279.1 637.7,280.0 638.7,280.8 639.7,281.6 640.7,282.3 641.7,282.9 642.7,283.3 643.7,283.6 644.7,283.7 645.7,283.6 646.7,283.4 647.7,282.9 648.7,282.1 649.7,281.1 650.7,279.9 651.7,278.4 652.7,276.6 653.7,274.6 654.7,272.3 655.7,269.9 656.7,267.2 657.7,264.4 658.7,261.4 659.7,258.3 660.7,255.2 661.7,252.0 662.7,248.8 663.7,245.6 664.7,242.5 665.7,239.5 666.7,236.6 667.7,233.7 668.7,230.9 669.7,228.1 670.7,225.2 671.7,222.2 672.7,219.1 673.7,215.8 674.7,212.3 675.7,208.6 676.7,204.8 677.7,200.9 678.7,197.2 679.7,193.6 680.7,190.4 681.7,187.6 682.7,185.6 683.7,184.4 684.7,184.1 685.7,184.8 686.7,186.7 687.7,189.8 688.7,194.1 689.7,199.5 690.7,205.9 691.7,212.9 692.7,220.4 693.7,228.2 694.7,236.0 695.7,243.7 696.7,251.1 697.7,258.0 698.7,264.4 699.7,270.2 700.7,275.3 701.7,279.8 702.7,283.7 703.7,286.9 704.7,289.6 705.7,291.8 706.7,293.5 707.7,294.9 708.7,296.0 709.7,296.9 710.7,297.5 711.7,298.0 712.7,298.4 713.7,298.7 714.7,299.0 715.7,299.2 716.7,299.3 717.7,299.5 718.7,299.6 719.7,299.7 720.7,299.8 721.7,299.8 722.7,299.9 723.7,299.9 724.7,300.0 725.7,300.0 726.7,300.1 727.7,300.1 728.7,300.1 729.7,300.2 730.7,300.2 731.7,300.2 732.7,300.3 733.7,300.3 734.7,300.3 735.7,300.3 736.7,300.4 737.7,300.4 738.7,300.4 739.7,300.4 740.7,300.5 741.7,300.5 742.7,300.5 743.7,300.5 744.7,300.6 745.7,300.6 746.5,300.6" fill="none" stroke="#850a88" stroke-width="1.7"/>
<rect x="27" y="1.6" width="218.8" height="334.4" fill="none" stroke="#000" stroke-width="2.1"/>
<line x1="25.95" y1="1.6" x2="246.85000000000002" y2="1.6" stroke="#000" stroke-width="2.4"/>
<rect x="278.5" y="1.6" width="218.7" height="334.4" fill="none" stroke="#000" stroke-width="2.1"/>
<line x1="277.45" y1="1.6" x2="498.25" y2="1.6" stroke="#000" stroke-width="2.4"/>
<rect x="529.5" y="1.6" width="218.0" height="334.4" fill="none" stroke="#000" stroke-width="2.1"/>
<line x1="528.45" y1="1.6" x2="748.55" y2="1.6" stroke="#000" stroke-width="2.4"/>
<line x1="27" y1="113.3" x2="245.8" y2="113.3" stroke="#000" stroke-width="2.1"/>
<line x1="27" y1="224.8" x2="245.8" y2="224.8" stroke="#000" stroke-width="2.1"/>
<line x1="278.5" y1="169" x2="497.2" y2="169" stroke="#000" stroke-width="2.1"/>
<line x1="529.5" y1="169" x2="747.5" y2="169" stroke="#000" stroke-width="2.1"/>
<line x1="32.1" y1="112.3" x2="32.1" y2="109.0" stroke="#000" stroke-width="1.9"/>
<line x1="67.7" y1="112.3" x2="67.7" y2="109.0" stroke="#000" stroke-width="1.9"/>
<line x1="103.3" y1="112.3" x2="103.3" y2="109.0" stroke="#000" stroke-width="1.9"/>
<line x1="138.9" y1="112.3" x2="138.9" y2="109.0" stroke="#000" stroke-width="1.9"/>
<line x1="174.6" y1="112.3" x2="174.6" y2="109.0" stroke="#000" stroke-width="1.9"/>
<line x1="210.2" y1="112.3" x2="210.2" y2="109.0" stroke="#000" stroke-width="1.9"/>
<line x1="49.9" y1="112.3" x2="49.9" y2="110.5" stroke="#000" stroke-width="1.4"/>
<line x1="85.5" y1="112.3" x2="85.5" y2="110.5" stroke="#000" stroke-width="1.4"/>
<line x1="121.1" y1="112.3" x2="121.1" y2="110.5" stroke="#000" stroke-width="1.4"/>
<line x1="156.8" y1="112.3" x2="156.8" y2="110.5" stroke="#000" stroke-width="1.4"/>
<line x1="192.4" y1="112.3" x2="192.4" y2="110.5" stroke="#000" stroke-width="1.4"/>
<line x1="228.0" y1="112.3" x2="228.0" y2="110.5" stroke="#000" stroke-width="1.4"/>
<line x1="32.1" y1="223.8" x2="32.1" y2="220.5" stroke="#000" stroke-width="1.9"/>
<line x1="67.7" y1="223.8" x2="67.7" y2="220.5" stroke="#000" stroke-width="1.9"/>
<line x1="103.3" y1="223.8" x2="103.3" y2="220.5" stroke="#000" stroke-width="1.9"/>
<line x1="138.9" y1="223.8" x2="138.9" y2="220.5" stroke="#000" stroke-width="1.9"/>
<line x1="174.6" y1="223.8" x2="174.6" y2="220.5" stroke="#000" stroke-width="1.9"/>
<line x1="210.2" y1="223.8" x2="210.2" y2="220.5" stroke="#000" stroke-width="1.9"/>
<line x1="49.9" y1="223.8" x2="49.9" y2="222.0" stroke="#000" stroke-width="1.4"/>
<line x1="85.5" y1="223.8" x2="85.5" y2="222.0" stroke="#000" stroke-width="1.4"/>
<line x1="121.1" y1="223.8" x2="121.1" y2="222.0" stroke="#000" stroke-width="1.4"/>
<line x1="156.8" y1="223.8" x2="156.8" y2="222.0" stroke="#000" stroke-width="1.4"/>
<line x1="192.4" y1="223.8" x2="192.4" y2="222.0" stroke="#000" stroke-width="1.4"/>
<line x1="228.0" y1="223.8" x2="228.0" y2="222.0" stroke="#000" stroke-width="1.4"/>
<line x1="32.1" y1="335.0" x2="32.1" y2="331.7" stroke="#000" stroke-width="1.9"/>
<line x1="67.7" y1="335.0" x2="67.7" y2="331.7" stroke="#000" stroke-width="1.9"/>
<line x1="103.3" y1="335.0" x2="103.3" y2="331.7" stroke="#000" stroke-width="1.9"/>
<line x1="138.9" y1="335.0" x2="138.9" y2="331.7" stroke="#000" stroke-width="1.9"/>
<line x1="174.6" y1="335.0" x2="174.6" y2="331.7" stroke="#000" stroke-width="1.9"/>
<line x1="210.2" y1="335.0" x2="210.2" y2="331.7" stroke="#000" stroke-width="1.9"/>
<line x1="49.9" y1="335.0" x2="49.9" y2="333.2" stroke="#000" stroke-width="1.4"/>
<line x1="85.5" y1="335.0" x2="85.5" y2="333.2" stroke="#000" stroke-width="1.4"/>
<line x1="121.1" y1="335.0" x2="121.1" y2="333.2" stroke="#000" stroke-width="1.4"/>
<line x1="156.8" y1="335.0" x2="156.8" y2="333.2" stroke="#000" stroke-width="1.4"/>
<line x1="192.4" y1="335.0" x2="192.4" y2="333.2" stroke="#000" stroke-width="1.4"/>
<line x1="228.0" y1="335.0" x2="228.0" y2="333.2" stroke="#000" stroke-width="1.4"/>
<line x1="295.3" y1="168" x2="295.3" y2="164.7" stroke="#000" stroke-width="1.9"/>
<line x1="345.8" y1="168" x2="345.8" y2="164.7" stroke="#000" stroke-width="1.9"/>
<line x1="396.3" y1="168" x2="396.3" y2="164.7" stroke="#000" stroke-width="1.9"/>
<line x1="446.7" y1="168" x2="446.7" y2="164.7" stroke="#000" stroke-width="1.9"/>
<line x1="320.6" y1="168" x2="320.6" y2="166.2" stroke="#000" stroke-width="1.4"/>
<line x1="371.0" y1="168" x2="371.0" y2="166.2" stroke="#000" stroke-width="1.4"/>
<line x1="421.5" y1="168" x2="421.5" y2="166.2" stroke="#000" stroke-width="1.4"/>
<line x1="472.0" y1="168" x2="472.0" y2="166.2" stroke="#000" stroke-width="1.4"/>
<line x1="295.3" y1="335.0" x2="295.3" y2="331.7" stroke="#000" stroke-width="1.9"/>
<line x1="345.8" y1="335.0" x2="345.8" y2="331.7" stroke="#000" stroke-width="1.9"/>
<line x1="396.3" y1="335.0" x2="396.3" y2="331.7" stroke="#000" stroke-width="1.9"/>
<line x1="446.7" y1="335.0" x2="446.7" y2="331.7" stroke="#000" stroke-width="1.9"/>
<line x1="320.6" y1="335.0" x2="320.6" y2="333.2" stroke="#000" stroke-width="1.4"/>
<line x1="371.0" y1="335.0" x2="371.0" y2="333.2" stroke="#000" stroke-width="1.4"/>
<line x1="421.5" y1="335.0" x2="421.5" y2="333.2" stroke="#000" stroke-width="1.4"/>
<line x1="472.0" y1="335.0" x2="472.0" y2="333.2" stroke="#000" stroke-width="1.4"/>
<line x1="590.1" y1="168" x2="590.1" y2="164.7" stroke="#000" stroke-width="1.9"/>
<line x1="650.6" y1="168" x2="650.6" y2="164.7" stroke="#000" stroke-width="1.9"/>
<line x1="711.2" y1="168" x2="711.2" y2="164.7" stroke="#000" stroke-width="1.9"/>
<line x1="559.8" y1="168" x2="559.8" y2="166.2" stroke="#000" stroke-width="1.4"/>
<line x1="620.3" y1="168" x2="620.3" y2="166.2" stroke="#000" stroke-width="1.4"/>
<line x1="680.9" y1="168" x2="680.9" y2="166.2" stroke="#000" stroke-width="1.4"/>
<line x1="741.4" y1="168" x2="741.4" y2="166.2" stroke="#000" stroke-width="1.4"/>
<line x1="590.1" y1="335.0" x2="590.1" y2="331.7" stroke="#000" stroke-width="1.9"/>
<line x1="650.6" y1="335.0" x2="650.6" y2="331.7" stroke="#000" stroke-width="1.9"/>
<line x1="711.2" y1="335.0" x2="711.2" y2="331.7" stroke="#000" stroke-width="1.9"/>
<line x1="559.8" y1="335.0" x2="559.8" y2="333.2" stroke="#000" stroke-width="1.4"/>
<line x1="620.3" y1="335.0" x2="620.3" y2="333.2" stroke="#000" stroke-width="1.4"/>
<line x1="680.9" y1="335.0" x2="680.9" y2="333.2" stroke="#000" stroke-width="1.4"/>
<line x1="741.4" y1="335.0" x2="741.4" y2="333.2" stroke="#000" stroke-width="1.4"/>
<line x1="190.9" y1="24" x2="190.9" y2="326" stroke="#000" stroke-width="1.7" stroke-dasharray="3.3,3.8"/>
<line x1="206.1" y1="24" x2="206.1" y2="326" stroke="#000" stroke-width="1.7" stroke-dasharray="3.3,3.8"/>
<text x="31" y="21.7" font-size="16" fill="#000" stroke="#000" stroke-width="0.15" text-anchor="start" >Co 2p</text>
<text x="228.4" y="22.3" font-size="21" fill="#000" stroke="#000" stroke-width="0.15" text-anchor="middle" >(a)</text>
<text x="288" y="24.9" font-size="16" fill="#000" stroke="#000" stroke-width="0.15" text-anchor="start" >B 1s</text>
<text x="479.5" y="22.3" font-size="21" fill="#000" stroke="#000" stroke-width="0.15" text-anchor="middle" >(b)</text>
<text x="536.2" y="23.0" font-size="16" fill="#000" stroke="#000" stroke-width="0.15" text-anchor="start" >S 2p</text>
<text x="727.6" y="22.3" font-size="21" fill="#000" stroke="#000" stroke-width="0.15" text-anchor="middle" >(c)</text>
<text x="31" y="108.9" font-size="16" fill="#850a88" stroke="#850a88" stroke-width="0.15" text-anchor="start" >Co-B</text>
<text x="34.3" y="216.2" font-size="16" fill="#850a88" stroke="#850a88" stroke-width="0.15" text-anchor="start" >Co-S</text>
<text x="34" y="325.8" font-size="16" fill="#850a88" stroke="#850a88" stroke-width="0.15" text-anchor="start" >Co-S-B-8</text>
<text x="282.2" y="69" font-size="16" fill="#850a88" stroke="#850a88" stroke-width="0.15" text-anchor="start" >Co-B</text>
<text x="280" y="325.3" font-size="16" fill="#850a88" stroke="#850a88" stroke-width="0.15" text-anchor="start" >Co-S-B-8</text>
<text x="543.5" y="156.2" font-size="16" fill="#850a88" stroke="#850a88" stroke-width="0.15" text-anchor="start" >Co-S</text>
<text x="538.4" y="322.6" font-size="16" fill="#850a88" stroke="#850a88" stroke-width="0.15" text-anchor="start" >Co-S-B-8</text>
<text x="146.8" y="55.7" font-size="12.5" fill="#000" stroke="#000" stroke-width="0.15" text-anchor="start" >sat.</text>
<text x="148" y="165.8" font-size="12.5" fill="#000" stroke="#000" stroke-width="0.15" text-anchor="start" >sat.</text>
<text x="146.5" y="271.8" font-size="12.5" fill="#000" stroke="#000" stroke-width="0.15" text-anchor="start" >sat.</text>
<text x="161.3" y="22.5" font-size="12" fill="#000" stroke="#000" stroke-width="0.15" text-anchor="start" >Co<tspan dy="-5" font-size="8.5">3+</tspan></text>
<text x="210.1" y="44.9" font-size="11.5" fill="#000" stroke="#000" stroke-width="0.15" text-anchor="start" >Co<tspan dx="0.3" dy="-4.8" font-size="7.5">0</tspan></text>
<text x="422.1" y="110.9" font-size="12" fill="#000" stroke="#000" stroke-width="0.15" text-anchor="start" >B<tspan dx="0.4" dy="-5.2" font-size="7.5">0</tspan></text>
<text x="426.3" y="241.7" font-size="12" fill="#000" stroke="#000" stroke-width="0.15" text-anchor="start" >B<tspan dx="1.2" dy="-5.2" font-size="7.5">0</tspan></text>
<text x="598.4" y="45.2" font-size="14" fill="#000" stroke="#000" stroke-width="0.15" text-anchor="start" >S-O</text>
<text x="654" y="25.1" font-size="14" fill="#000" stroke="#000" stroke-width="0.15" text-anchor="start" >m-S</text>
<text x="608.2" y="262.4" font-size="14" fill="#000" stroke="#000" stroke-width="0.15" text-anchor="start" >S-O</text>
<text x="647.5" y="195.8" font-size="14" fill="#000" stroke="#000" stroke-width="0.15" text-anchor="start" >m-S</text>
<text x="32.1" y="351.4" font-size="14" fill="#000" stroke="#000" stroke-width="0.15" text-anchor="middle" dy="0.8">812</text>
<text x="67.7" y="351.4" font-size="14" fill="#000" stroke="#000" stroke-width="0.15" text-anchor="middle" dy="0.8">805</text>
<text x="103.3" y="351.4" font-size="14" fill="#000" stroke="#000" stroke-width="0.15" text-anchor="middle" dy="0.8">798</text>
<text x="138.9" y="351.4" font-size="14" fill="#000" stroke="#000" stroke-width="0.15" text-anchor="middle" dy="0.8">791</text>
<text x="174.6" y="351.4" font-size="14" fill="#000" stroke="#000" stroke-width="0.15" text-anchor="middle" dy="0.8">784</text>
<text x="210.2" y="351.4" font-size="14" fill="#000" stroke="#000" stroke-width="0.15" text-anchor="middle" dy="0.8">777</text>
<text x="245.8" y="351.4" font-size="14" fill="#000" stroke="#000" stroke-width="0.15" text-anchor="middle" dy="0.8">770</text>
<text x="295.3" y="351.4" font-size="14" fill="#000" stroke="#000" stroke-width="0.15" text-anchor="middle" dy="0.8">195</text>
<text x="345.8" y="351.4" font-size="14" fill="#000" stroke="#000" stroke-width="0.15" text-anchor="middle" dy="0.8">192</text>
<text x="396.3" y="351.4" font-size="14" fill="#000" stroke="#000" stroke-width="0.15" text-anchor="middle" dy="0.8">189</text>
<text x="446.7" y="351.4" font-size="14" fill="#000" stroke="#000" stroke-width="0.15" text-anchor="middle" dy="0.8">186</text>
<text x="497.2" y="351.4" font-size="14" fill="#000" stroke="#000" stroke-width="0.15" text-anchor="middle" dy="0.8">183</text>
<text x="529.5" y="351.4" font-size="14" fill="#000" stroke="#000" stroke-width="0.15" text-anchor="middle" dy="0.8">175</text>
<text x="590.1" y="351.4" font-size="14" fill="#000" stroke="#000" stroke-width="0.15" text-anchor="middle" dy="0.8">170</text>
<text x="650.6" y="351.4" font-size="14" fill="#000" stroke="#000" stroke-width="0.15" text-anchor="middle" dy="0.8">165</text>
<text x="711.2" y="351.4" font-size="14" fill="#000" stroke="#000" stroke-width="0.15" text-anchor="middle" dy="0.8">160</text>
<text x="136" y="373.2" font-size="18.5" fill="#000" stroke="#000" stroke-width="0.15" text-anchor="middle" >Binding Energy (eV)</text>
<text x="388" y="373.2" font-size="18.5" fill="#000" stroke="#000" stroke-width="0.15" text-anchor="middle" >Binding Energy (eV)</text>
<text x="638.5" y="373.2" font-size="18.5" fill="#000" stroke="#000" stroke-width="0.15" text-anchor="middle" >Binding Energy (eV)</text>
<text x="0" y="0" font-size="18.5" fill="#000" stroke="#000" stroke-width="0.15" text-anchor="middle" transform="translate(13,159.5) rotate(-90)">Intensity (Arb. units)</text>
</svg>
</body></html>
